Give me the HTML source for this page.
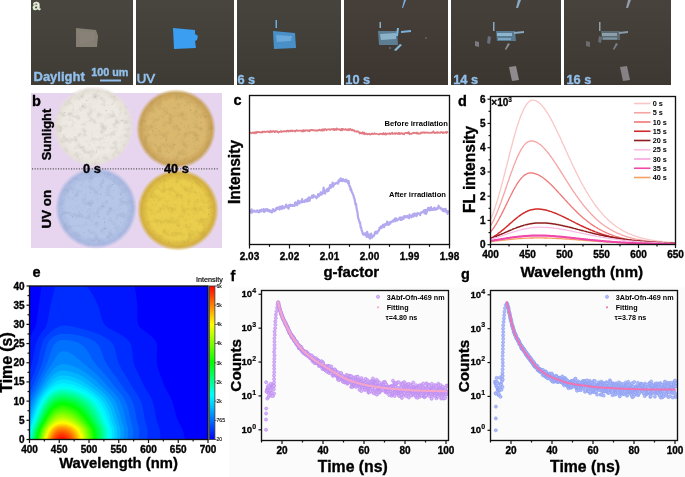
<!DOCTYPE html>
<html><head><meta charset="utf-8"><style>
html,body{margin:0;padding:0;background:#fff;}
body{width:685px;height:477px;overflow:hidden;}
svg{display:block;will-change:transform;}
text{font-family:"Liberation Sans",sans-serif;}
</style></head><body>
<svg width="685" height="477" viewBox="0 0 685 477">
<defs>
<filter id="noise" x="0" y="0" width="100%" height="100%">
<feTurbulence type="fractalNoise" baseFrequency="0.9" numOctaves="2" seed="3" result="t"/>
<feColorMatrix type="matrix" values="0 0 0 0 0  0 0 0 0 0  0 0 0 0 0  0 0 0 -1.2 0.9" in="t" result="m"/>
<feComposite in="SourceGraphic" in2="m" operator="in"/>
</filter>
<filter id="blur1" x="-20%" y="-20%" width="140%" height="140%"><feGaussianBlur stdDeviation="0.55"/></filter>
<filter id="blur05"><feGaussianBlur stdDeviation="0.7"/></filter>
</defs>
<linearGradient id="pb0" x1="0" y1="0" x2="0" y2="1"><stop offset="0" stop-color="#49463f"/><stop offset="1" stop-color="#3f3c35"/></linearGradient>
<rect x="31" y="0" width="102" height="85" fill="url(#pb0)"/>
<linearGradient id="pb1" x1="0" y1="0" x2="0" y2="1"><stop offset="0" stop-color="#48443e"/><stop offset="1" stop-color="#3e3a34"/></linearGradient>
<rect x="136" y="0" width="98" height="85" fill="url(#pb1)"/>
<linearGradient id="pb2" x1="0" y1="0" x2="0" y2="1"><stop offset="0" stop-color="#47433d"/><stop offset="1" stop-color="#3d3933"/></linearGradient>
<rect x="237" y="0" width="104" height="85" fill="url(#pb2)"/>
<linearGradient id="pb3" x1="0" y1="0" x2="0" y2="1"><stop offset="0" stop-color="#463f3a"/><stop offset="1" stop-color="#3c3530"/></linearGradient>
<rect x="344" y="0" width="104" height="85" fill="url(#pb3)"/>
<linearGradient id="pb4" x1="0" y1="0" x2="0" y2="1"><stop offset="0" stop-color="#46403b"/><stop offset="1" stop-color="#3c3631"/></linearGradient>
<rect x="451" y="0" width="110" height="85" fill="url(#pb4)"/>
<linearGradient id="pb5" x1="0" y1="0" x2="0" y2="1"><stop offset="0" stop-color="#47423c"/><stop offset="1" stop-color="#3d3832"/></linearGradient>
<rect x="564" y="0" width="107" height="85" fill="url(#pb5)"/>
<g filter="url(#blur05)">
<path d="M76,28 L96,30 L98,36 L97,47 L76,47 Z" fill="#857e73"/>
<path d="M78,31 L94,32 L95,40 L80,44 Z" fill="#8a837a" opacity="0.6"/>
<path d="M173,28 L195,30 L195,34 L198,36 L197,40 L195,41 L196,48 L174,49 Z" fill="#3a9ef0"/>
<path d="M273,31 L295,33 L296,48 L274,49 Z" fill="#4a8fc8"/>
<path d="M276,35 L292,36 L291,41 L277,42 Z" fill="#78b4e0" opacity="0.7"/>
<path d="M275.5,20 L277,20 L277,28 L275.5,28 Z" fill="#6aaee0"/>
</g><g filter="url(#blur1)">
<path d="M378,31 L397,31 L398,45 L379,45 Z" fill="#5d7e92"/>
<path d="M380,34 L396,33 L396,39 L381,40 Z" fill="#9cc4dc" opacity="0.75"/>
<path d="M404,0 L406,0 L403,8 L402,8 Z" fill="#7ab0e0"/>
<path d="M397,28 L399,28 L398,36 L396,36 Z" fill="#7ab8e0"/>
<path d="M401,31 L411,30 L411,32 L401,33 Z" fill="#7ab0d8"/>
<path d="M400,44 L402,45 L396,51 L394,50 Z" fill="#8ab8d8"/>
<path d="M379.5,22 L381,22 L381,28 L379.5,28 Z" fill="#8ab0c8"/>
<circle cx="390" cy="48" r="1" fill="#6a7080"/>
<circle cx="426" cy="38" r="1" fill="#6a6060"/>
<path d="M496,31 L515,31 L516,41 L497,41 Z" fill="#5a7a90"/>
<path d="M497,33 L512,33 L512,36 L497,36 Z" fill="#9ac4e0" opacity="0.8"/>
<path d="M498,38 L511,38 L511,40 L498,40 Z" fill="#8ab8d8" opacity="0.7"/>
<path d="M493,22 L494.5,22 L494.5,31 L493,31 Z" fill="#8aa8c0"/>
<path d="M514,32 L524,31 L524,33 L514,34 Z" fill="#8aa8c0"/>
<path d="M518,0 L521,0 L518,8 L516,8 Z" fill="#8aa8c0"/>
<path d="M475,41 L479,42 L479,47 L475,46 Z" fill="#7a7a80"/>
<path d="M488,36 L491,37 L490,44 L487,43 Z" fill="#6a7080"/>
<path d="M509,67 L516,66 L519,80 L512,81 Z" fill="#8e8a8e"/>
<path d="M508,43 L510,44 L506,50 L505,49 Z" fill="#8a9098"/>
<path d="M601,31 L620,31 L620,40 L602,40 Z" fill="#5c6a70"/>
<path d="M602,33 L617,33 L617,36 L602,36 Z" fill="#a0b8c8" opacity="0.7"/>
<path d="M603,37.5 L617,37.5 L617,39.5 L603,39.5 Z" fill="#90a8b8" opacity="0.7"/>
<path d="M599,22 L600.5,22 L600.5,31 L599,31 Z" fill="#90a0a8"/>
<path d="M619,32 L628,31 L628,33 L619,34 Z" fill="#8a9aa8"/>
<path d="M628,0 L631,0 L628,8 L626,8 Z" fill="#909aa8"/>
<path d="M586,41 L590,42 L590,47 L586,46 Z" fill="#6c6c70"/>
<path d="M599,36 L602,37 L601,43 L598,42 Z" fill="#686c74"/>
<path d="M620,67 L627,66 L630,80 L623,81 Z" fill="#858185"/>
<path d="M616,43 L618,44 L614,50 L613,49 Z" fill="#7a8088"/>
</g>
<text x="32.5" y="9.5" font-size="14" font-weight="bold" fill="#e6eed8" stroke="#e6eed8" stroke-width="0.35" text-anchor="start" >a</text>
<text x="33.5" y="81" font-size="13" font-weight="bold" fill="#92c0ec" stroke="#92c0ec" stroke-width="0.35" text-anchor="start" >Daylight</text>
<text x="91.2" y="76.3" font-size="10.8" font-weight="bold" fill="#92c0ec" stroke="#92c0ec" stroke-width="0.35" text-anchor="start" >100 um</text>
<rect x="100" y="79.5" width="21" height="2" fill="#92c0ec"/>
<text x="136.8" y="83" font-size="13.2" fill="#92c0ec" stroke="#92c0ec" stroke-width="0.7">UV</text>
<text x="237.4" y="84.2" font-size="12.8" font-weight="bold" fill="#92c0ec" stroke="#92c0ec" stroke-width="0.35" text-anchor="start" >6 s</text>
<text x="345.3" y="83.6" font-size="12.8" font-weight="bold" fill="#92c0ec" stroke="#92c0ec" stroke-width="0.35" text-anchor="start" >10 s</text>
<text x="453.2" y="83.6" font-size="12.8" font-weight="bold" fill="#92c0ec" stroke="#92c0ec" stroke-width="0.35" text-anchor="start" >14 s</text>
<text x="566.4" y="83.6" font-size="12.8" font-weight="bold" fill="#92c0ec" stroke="#92c0ec" stroke-width="0.35" text-anchor="start" >16 s</text>
<rect x="31" y="93" width="191" height="155" fill="#e7d5f0"/>
<radialGradient id="pg1" cx="0.5" cy="0.5" r="0.5"><stop offset="0" stop-color="#eeeae3"/><stop offset="0.72" stop-color="#eeeae3"/><stop offset="0.9" stop-color="#e6e1d8"/><stop offset="1" stop-color="#e6e1d8" stop-opacity="0"/></radialGradient>
<circle cx="93.5" cy="126.5" r="40.5" fill="url(#pg1)"/>
<filter id="sp1" x="0" y="0" width="1" height="1" color-interpolation-filters="sRGB"><feTurbulence type="fractalNoise" baseFrequency="0.16" numOctaves="3" seed="7"/><feColorMatrix type="matrix" values="0 0 0 0 0.416  0 0 0 0 0.400  0 0 0 0 0.369  -0.50 0 0 0 0.26"/></filter>
<filter id="sq1" x="0" y="0" width="1" height="1" color-interpolation-filters="sRGB"><feTurbulence type="fractalNoise" baseFrequency="0.5" numOctaves="2" seed="13"/><feColorMatrix type="matrix" values="0 0 0 0 0.416  0 0 0 0 0.400  0 0 0 0 0.369  -3 0 0 0 0.87"/><feGaussianBlur stdDeviation="0.35"/></filter>
<radialGradient id="pm1" cx="0.5" cy="0.5" r="0.5"><stop offset="0" stop-color="#fff"/><stop offset="0.8" stop-color="#fff"/><stop offset="1" stop-color="#fff" stop-opacity="0"/></radialGradient>
<mask id="mk1"><circle cx="93.5" cy="126.5" r="40.5" fill="url(#pm1)"/></mask>
<g mask="url(#mk1)"><rect x="53.0" y="86.0" width="81.0" height="81.0" filter="url(#sp1)"/><rect x="53.0" y="86.0" width="81.0" height="81.0" filter="url(#sq1)"/></g>
<radialGradient id="pg2" cx="0.5" cy="0.5" r="0.5"><stop offset="0" stop-color="#dab86e"/><stop offset="0.72" stop-color="#dab86e"/><stop offset="0.9" stop-color="#c8a258"/><stop offset="1" stop-color="#c8a258" stop-opacity="0"/></radialGradient>
<circle cx="176" cy="129" r="40" fill="url(#pg2)"/>
<filter id="sp2" x="0" y="0" width="1" height="1" color-interpolation-filters="sRGB"><feTurbulence type="fractalNoise" baseFrequency="0.16" numOctaves="3" seed="14"/><feColorMatrix type="matrix" values="0 0 0 0 0.502  0 0 0 0 0.408  0 0 0 0 0.220  -0.50 0 0 0 0.26"/></filter>
<filter id="sq2" x="0" y="0" width="1" height="1" color-interpolation-filters="sRGB"><feTurbulence type="fractalNoise" baseFrequency="0.5" numOctaves="2" seed="26"/><feColorMatrix type="matrix" values="0 0 0 0 0.502  0 0 0 0 0.408  0 0 0 0 0.220  -3 0 0 0 0.87"/><feGaussianBlur stdDeviation="0.35"/></filter>
<radialGradient id="pm2" cx="0.5" cy="0.5" r="0.5"><stop offset="0" stop-color="#fff"/><stop offset="0.8" stop-color="#fff"/><stop offset="1" stop-color="#fff" stop-opacity="0"/></radialGradient>
<mask id="mk2"><circle cx="176" cy="129" r="40" fill="url(#pm2)"/></mask>
<g mask="url(#mk2)"><rect x="136" y="89" width="80" height="80" filter="url(#sp2)"/><rect x="136" y="89" width="80" height="80" filter="url(#sq2)"/></g>
<radialGradient id="pg3" cx="0.5" cy="0.5" r="0.5"><stop offset="0" stop-color="#b6c6e8"/><stop offset="0.72" stop-color="#b6c6e8"/><stop offset="0.9" stop-color="#a8b8e0"/><stop offset="1" stop-color="#a8b8e0" stop-opacity="0"/></radialGradient>
<circle cx="96" cy="208" r="41" fill="url(#pg3)"/>
<filter id="sp3" x="0" y="0" width="1" height="1" color-interpolation-filters="sRGB"><feTurbulence type="fractalNoise" baseFrequency="0.16" numOctaves="3" seed="21"/><feColorMatrix type="matrix" values="0 0 0 0 0.408  0 0 0 0 0.471  0 0 0 0 0.627  -0.50 0 0 0 0.26"/></filter>
<filter id="sq3" x="0" y="0" width="1" height="1" color-interpolation-filters="sRGB"><feTurbulence type="fractalNoise" baseFrequency="0.5" numOctaves="2" seed="39"/><feColorMatrix type="matrix" values="0 0 0 0 0.408  0 0 0 0 0.471  0 0 0 0 0.627  -3 0 0 0 0.87"/><feGaussianBlur stdDeviation="0.35"/></filter>
<radialGradient id="pm3" cx="0.5" cy="0.5" r="0.5"><stop offset="0" stop-color="#fff"/><stop offset="0.8" stop-color="#fff"/><stop offset="1" stop-color="#fff" stop-opacity="0"/></radialGradient>
<mask id="mk3"><circle cx="96" cy="208" r="41" fill="url(#pm3)"/></mask>
<g mask="url(#mk3)"><rect x="55" y="167" width="82" height="82" filter="url(#sp3)"/><rect x="55" y="167" width="82" height="82" filter="url(#sq3)"/></g>
<radialGradient id="pg4" cx="0.5" cy="0.5" r="0.5"><stop offset="0" stop-color="#eacd4c"/><stop offset="0.72" stop-color="#eacd4c"/><stop offset="0.9" stop-color="#d4b040"/><stop offset="1" stop-color="#d4b040" stop-opacity="0"/></radialGradient>
<circle cx="178" cy="210" r="41" fill="url(#pg4)"/>
<filter id="sp4" x="0" y="0" width="1" height="1" color-interpolation-filters="sRGB"><feTurbulence type="fractalNoise" baseFrequency="0.16" numOctaves="3" seed="28"/><feColorMatrix type="matrix" values="0 0 0 0 0.541  0 0 0 0 0.455  0 0 0 0 0.157  -0.50 0 0 0 0.26"/></filter>
<filter id="sq4" x="0" y="0" width="1" height="1" color-interpolation-filters="sRGB"><feTurbulence type="fractalNoise" baseFrequency="0.5" numOctaves="2" seed="52"/><feColorMatrix type="matrix" values="0 0 0 0 0.541  0 0 0 0 0.455  0 0 0 0 0.157  -3 0 0 0 0.87"/><feGaussianBlur stdDeviation="0.35"/></filter>
<radialGradient id="pm4" cx="0.5" cy="0.5" r="0.5"><stop offset="0" stop-color="#fff"/><stop offset="0.8" stop-color="#fff"/><stop offset="1" stop-color="#fff" stop-opacity="0"/></radialGradient>
<mask id="mk4"><circle cx="178" cy="210" r="41" fill="url(#pm4)"/></mask>
<g mask="url(#mk4)"><rect x="137" y="169" width="82" height="82" filter="url(#sp4)"/><rect x="137" y="169" width="82" height="82" filter="url(#sq4)"/></g>
<line x1="32" y1="168.9" x2="218" y2="168.9" stroke="#333" stroke-width="1" stroke-dasharray="1.1,1.5"/>
<text x="32" y="106" font-size="14.5" font-weight="bold" fill="#000" stroke="#000" stroke-width="0.35" text-anchor="start" >b</text>
<text x="0" y="0" transform="translate(51.4,134.5) rotate(-90)" font-size="12.9" font-weight="bold" fill="#000" stroke="#000" stroke-width="0.35" text-anchor="middle">Sunlight</text>
<text x="0" y="0" transform="translate(51.3,209.2) rotate(-90)" font-size="13.3" font-weight="bold" fill="#000" stroke="#000" stroke-width="0.35" text-anchor="middle">UV on</text>
<text x="91.9" y="172.6" font-size="12.8" font-weight="bold" fill="#000" stroke="#000" stroke-width="0.35" text-anchor="middle" >0 s</text>
<text x="176.4" y="172.6" font-size="12.8" font-weight="bold" fill="#000" stroke="#000" stroke-width="0.35" text-anchor="middle" >40 s</text>
<path d="M249.6,132.5 L250.1,132.3 L250.6,132.7 L251.1,133.0 L251.6,133.3 L252.1,132.8 L252.6,132.5 L253.1,132.3 L253.6,133.0 L254.1,133.4 L254.6,132.7 L255.1,132.0 L255.6,132.1 L256.1,133.3 L256.6,132.6 L257.1,131.7 L257.6,132.4 L258.1,131.9 L258.6,132.1 L259.1,132.2 L259.6,132.0 L260.1,132.6 L260.6,132.3 L261.1,132.0 L261.6,132.4 L262.1,132.6 L262.6,131.5 L263.1,132.1 L263.6,131.7 L264.1,132.0 L264.6,131.5 L265.1,132.1 L265.6,132.0 L266.1,131.9 L266.6,131.5 L267.1,131.8 L267.6,131.5 L268.1,131.3 L268.6,132.0 L269.1,131.4 L269.6,132.4 L270.1,132.2 L270.6,130.9 L271.1,131.9 L271.6,131.3 L272.1,131.8 L272.6,131.7 L273.1,130.8 L273.6,131.6 L274.1,131.5 L274.6,132.1 L275.1,131.1 L275.6,131.9 L276.1,131.1 L276.6,131.4 L277.1,131.2 L277.6,132.2 L278.1,131.8 L278.6,132.6 L279.1,131.8 L279.6,131.8 L280.1,131.8 L280.6,131.1 L281.1,131.4 L281.6,132.0 L282.1,131.2 L282.6,131.4 L283.1,131.3 L283.6,131.6 L284.1,131.1 L284.6,131.2 L285.1,131.4 L285.6,131.3 L286.1,130.8 L286.6,131.6 L287.1,130.6 L287.6,130.6 L288.1,130.6 L288.6,131.6 L289.1,131.0 L289.6,130.7 L290.1,130.6 L290.6,131.3 L291.1,130.6 L291.6,130.5 L292.1,131.3 L292.6,130.5 L293.1,130.9 L293.6,131.0 L294.1,130.8 L294.6,130.9 L295.1,131.6 L295.6,130.7 L296.1,130.4 L296.6,130.1 L297.1,130.8 L297.6,130.7 L298.1,131.0 L298.6,130.6 L299.1,130.6 L299.6,130.5 L300.1,130.6 L300.6,130.9 L301.1,130.6 L301.6,130.8 L302.1,131.6 L302.6,130.9 L303.1,130.0 L303.6,131.5 L304.1,130.8 L304.6,130.2 L305.1,131.0 L305.6,130.6 L306.1,130.3 L306.6,130.3 L307.1,130.1 L307.6,130.6 L308.1,131.0 L308.6,130.4 L309.1,130.7 L309.6,131.3 L310.1,129.9 L310.6,130.5 L311.1,130.3 L311.6,129.9 L312.1,129.9 L312.6,130.3 L313.1,130.5 L313.6,130.1 L314.1,130.3 L314.6,130.6 L315.1,130.4 L315.6,130.6 L316.1,130.4 L316.6,130.4 L317.1,130.9 L317.6,130.4 L318.1,130.1 L318.6,130.4 L319.1,129.6 L319.6,129.8 L320.1,130.3 L320.6,130.2 L321.1,130.6 L321.6,129.9 L322.1,129.2 L322.6,130.7 L323.1,130.3 L323.6,129.3 L324.1,130.4 L324.6,129.8 L325.1,128.9 L325.6,129.5 L326.1,129.5 L326.6,130.4 L327.1,129.3 L327.6,129.5 L328.1,129.5 L328.6,129.4 L329.1,129.1 L329.6,129.6 L330.1,130.0 L330.6,129.8 L331.1,129.1 L331.6,129.0 L332.1,129.5 L332.6,129.1 L333.1,129.1 L333.6,128.7 L334.1,130.3 L334.6,129.8 L335.1,128.9 L335.6,129.8 L336.1,130.0 L336.6,128.3 L337.1,129.1 L337.6,129.1 L338.1,129.6 L338.6,129.3 L339.1,129.2 L339.6,129.3 L340.1,130.1 L340.6,130.3 L341.1,129.1 L341.6,128.9 L342.1,130.5 L342.6,128.9 L343.1,129.1 L343.6,129.4 L344.1,129.6 L344.6,129.8 L345.1,129.6 L345.6,129.0 L346.1,129.7 L346.6,129.6 L347.1,130.4 L347.6,129.6 L348.1,129.0 L348.6,129.2 L349.1,130.3 L349.6,129.5 L350.1,128.8 L350.6,129.6 L351.1,129.9 L351.6,130.4 L352.1,129.5 L352.6,130.4 L353.1,130.5 L353.6,130.0 L354.1,130.3 L354.6,131.4 L355.1,131.5 L355.6,131.3 L356.1,131.2 L356.6,131.8 L357.1,131.4 L357.6,131.6 L358.1,131.4 L358.6,132.0 L359.1,132.1 L359.6,133.5 L360.1,132.4 L360.6,133.2 L361.1,133.3 L361.6,132.8 L362.1,133.5 L362.6,132.2 L363.1,133.3 L363.6,133.8 L364.1,132.5 L364.6,133.2 L365.1,134.3 L365.6,133.8 L366.1,133.5 L366.6,133.8 L367.1,133.8 L367.6,134.3 L368.1,134.2 L368.6,133.9 L369.1,133.7 L369.6,134.0 L370.1,134.6 L370.6,134.1 L371.1,134.3 L371.6,133.9 L372.1,133.4 L372.6,133.7 L373.1,134.3 L373.6,134.0 L374.1,133.5 L374.6,133.2 L375.1,134.0 L375.6,133.8 L376.1,133.8 L376.6,133.8 L377.1,134.0 L377.6,134.0 L378.1,134.3 L378.6,134.3 L379.1,134.5 L379.6,134.2 L380.1,133.7 L380.6,133.8 L381.1,134.1 L381.6,133.7 L382.1,134.1 L382.6,134.4 L383.1,133.5 L383.6,133.0 L384.1,134.4 L384.6,133.8 L385.1,134.1 L385.6,133.2 L386.1,134.6 L386.6,134.1 L387.1,133.7 L387.6,133.6 L388.1,133.8 L388.6,133.7 L389.1,133.6 L389.6,133.2 L390.1,134.3 L390.6,133.7 L391.1,133.7 L391.6,133.7 L392.1,132.6 L392.6,133.9 L393.1,133.5 L393.6,133.5 L394.1,133.7 L394.6,133.2 L395.1,134.0 L395.6,133.3 L396.1,133.2 L396.6,133.2 L397.1,133.7 L397.6,133.9 L398.1,133.3 L398.6,132.9 L399.1,134.0 L399.6,133.0 L400.1,134.1 L400.6,133.5 L401.1,133.2 L401.6,133.2 L402.1,133.7 L402.6,133.9 L403.1,133.4 L403.6,133.9 L404.1,134.4 L404.6,133.3 L405.1,132.9 L405.6,132.9 L406.1,132.8 L406.6,133.1 L407.1,133.0 L407.6,132.7 L408.1,133.6 L408.6,132.1 L409.1,132.7 L409.6,134.2 L410.1,133.8 L410.6,133.5 L411.1,133.5 L411.6,134.0 L412.1,133.5 L412.6,133.3 L413.1,132.7 L413.6,133.2 L414.1,132.9 L414.6,132.9 L415.1,132.8 L415.6,133.1 L416.1,133.0 L416.6,133.5 L417.1,132.5 L417.6,133.0 L418.1,133.9 L418.6,133.1 L419.1,133.6 L419.6,133.6 L420.1,133.6 L420.6,133.4 L421.1,132.4 L421.6,132.9 L422.1,132.8 L422.6,132.3 L423.1,132.7 L423.6,132.4 L424.1,132.2 L424.6,133.0 L425.1,132.9 L425.6,132.6 L426.1,132.4 L426.6,132.6 L427.1,132.7 L427.6,132.7 L428.1,132.8 L428.6,132.6 L429.1,133.0 L429.6,133.0 L430.1,132.9 L430.6,132.5 L431.1,132.5 L431.6,132.9 L432.1,132.6 L432.6,132.7 L433.1,131.6 L433.6,131.4 L434.1,132.8 L434.6,132.8 L435.1,133.2 L435.6,132.9 L436.1,132.7 L436.6,132.6 L437.1,131.9 L437.6,132.9 L438.1,132.3 L438.6,132.7 L439.1,132.6 L439.6,132.6 L440.1,132.9 L440.6,132.2 L441.1,132.3 L441.6,132.0 L442.1,132.2 L442.6,133.1 L443.1,132.2 L443.6,132.9 L444.1,132.7 L444.6,132.7 L445.1,132.7 L445.6,131.8 L446.1,132.4 L446.6,133.0 L447.1,131.9 L447.6,132.2 L448.1,131.9" fill="none" stroke="#e17a82" stroke-width="1.7" stroke-linejoin="round"/>
<path d="M249.6,211.2 L250.1,211.1 L250.6,212.5 L251.1,210.5 L251.6,209.4 L252.1,212.7 L252.6,211.9 L253.1,211.4 L253.6,211.4 L254.1,210.5 L254.6,210.7 L255.1,211.6 L255.6,211.8 L256.1,211.8 L256.6,211.1 L257.1,210.4 L257.6,210.7 L258.1,212.0 L258.6,212.3 L259.1,212.3 L259.6,210.4 L260.1,211.3 L260.6,210.1 L261.1,211.5 L261.6,209.5 L262.1,210.4 L262.6,210.2 L263.1,210.9 L263.6,209.0 L264.1,212.0 L264.6,211.0 L265.1,211.1 L265.6,209.4 L266.1,210.6 L266.6,209.4 L267.1,209.0 L267.6,210.9 L268.1,210.5 L268.6,209.9 L269.1,211.4 L269.6,210.2 L270.1,211.8 L270.6,211.0 L271.1,210.7 L271.6,212.5 L272.1,211.3 L272.6,211.8 L273.1,209.2 L273.6,209.8 L274.1,211.2 L274.6,211.1 L275.1,209.9 L275.6,210.5 L276.1,208.3 L276.6,209.3 L277.1,207.6 L277.6,208.8 L278.1,207.8 L278.6,207.4 L279.1,208.0 L279.6,209.6 L280.1,206.6 L280.6,206.8 L281.1,208.6 L281.6,206.7 L282.1,208.8 L282.6,206.2 L283.1,206.9 L283.6,207.0 L284.1,208.3 L284.6,207.1 L285.1,206.9 L285.6,206.5 L286.1,204.6 L286.6,205.2 L287.1,207.5 L287.6,206.7 L288.1,206.3 L288.6,208.7 L289.1,205.2 L289.6,206.0 L290.1,204.7 L290.6,205.9 L291.1,204.8 L291.6,205.2 L292.1,205.8 L292.6,204.9 L293.1,205.8 L293.6,205.4 L294.1,205.1 L294.6,205.8 L295.1,202.7 L295.6,202.3 L296.1,204.3 L296.6,204.4 L297.1,205.2 L297.6,203.8 L298.1,200.6 L298.6,201.9 L299.1,203.4 L299.6,203.2 L300.1,201.4 L300.6,201.5 L301.1,202.1 L301.6,202.4 L302.1,199.1 L302.6,202.0 L303.1,202.0 L303.6,201.5 L304.1,201.8 L304.6,201.8 L305.1,200.2 L305.6,201.4 L306.1,200.5 L306.6,199.5 L307.1,200.4 L307.6,201.4 L308.1,198.2 L308.6,197.7 L309.1,197.4 L309.6,200.8 L310.1,198.3 L310.6,198.3 L311.1,197.4 L311.6,197.0 L312.1,195.7 L312.6,197.7 L313.1,197.6 L313.6,195.1 L314.1,196.7 L314.6,196.0 L315.1,196.5 L315.6,196.6 L316.1,197.5 L316.6,198.2 L317.1,196.8 L317.6,196.8 L318.1,194.1 L318.6,194.5 L319.1,196.1 L319.6,195.0 L320.1,194.5 L320.6,192.4 L321.1,192.3 L321.6,194.7 L322.1,194.0 L322.6,193.2 L323.1,192.8 L323.6,187.5 L324.1,193.0 L324.6,193.3 L325.1,193.5 L325.6,191.5 L326.1,190.8 L326.6,189.5 L327.1,190.8 L327.6,191.4 L328.1,188.6 L328.6,190.9 L329.1,188.4 L329.6,187.4 L330.1,185.1 L330.6,187.8 L331.1,187.4 L331.6,185.0 L332.1,185.3 L332.6,182.5 L333.1,186.7 L333.6,185.5 L334.1,184.7 L334.6,184.2 L335.1,183.4 L335.6,183.6 L336.1,183.1 L336.6,182.9 L337.1,182.8 L337.6,182.6 L338.1,183.7 L338.6,180.4 L339.1,181.7 L339.6,180.5 L340.1,179.7 L340.6,178.3 L341.1,181.0 L341.6,179.3 L342.1,179.5 L342.6,181.1 L343.1,179.1 L343.6,180.2 L344.1,180.2 L344.6,181.1 L345.1,181.5 L345.6,179.5 L346.1,181.4 L346.6,180.8 L347.1,180.3 L347.6,181.8 L348.1,183.5 L348.6,181.0 L349.1,184.5 L349.6,186.5 L350.1,186.4 L350.6,190.2 L351.1,189.0 L351.6,191.5 L352.1,192.3 L352.6,193.5 L353.1,194.4 L353.6,196.3 L354.1,198.2 L354.6,198.9 L355.1,202.3 L355.6,204.8 L356.1,204.0 L356.6,208.8 L357.1,210.6 L357.6,213.2 L358.1,217.8 L358.6,219.0 L359.1,220.6 L359.6,222.8 L360.1,222.4 L360.6,227.2 L361.1,227.5 L361.6,230.1 L362.1,231.2 L362.6,232.9 L363.1,234.5 L363.6,233.9 L364.1,234.7 L364.6,233.5 L365.1,234.6 L365.6,235.2 L366.1,233.2 L366.6,236.9 L367.1,231.8 L367.6,233.8 L368.1,236.8 L368.6,237.4 L369.1,234.6 L369.6,234.8 L370.1,238.6 L370.6,235.6 L371.1,233.6 L371.6,235.0 L372.1,237.6 L372.6,236.2 L373.1,236.1 L373.6,236.2 L374.1,235.3 L374.6,233.8 L375.1,232.0 L375.6,233.5 L376.1,231.5 L376.6,233.1 L377.1,233.4 L377.6,231.7 L378.1,231.7 L378.6,230.2 L379.1,230.3 L379.6,227.6 L380.1,227.4 L380.6,228.2 L381.1,226.3 L381.6,227.9 L382.1,227.2 L382.6,225.8 L383.1,224.7 L383.6,225.0 L384.1,227.1 L384.6,225.2 L385.1,224.1 L385.6,224.6 L386.1,224.3 L386.6,224.9 L387.1,221.7 L387.6,223.0 L388.1,224.1 L388.6,224.8 L389.1,222.5 L389.6,222.3 L390.1,223.8 L390.6,222.7 L391.1,221.6 L391.6,221.6 L392.1,221.9 L392.6,221.3 L393.1,220.5 L393.6,221.5 L394.1,219.8 L394.6,219.0 L395.1,218.5 L395.6,221.1 L396.1,218.4 L396.6,220.4 L397.1,220.4 L397.6,220.4 L398.1,219.2 L398.6,218.7 L399.1,219.1 L399.6,218.3 L400.1,217.4 L400.6,219.8 L401.1,217.5 L401.6,220.0 L402.1,218.6 L402.6,217.4 L403.1,218.2 L403.6,218.8 L404.1,216.1 L404.6,216.5 L405.1,216.1 L405.6,217.2 L406.1,217.3 L406.6,216.8 L407.1,215.9 L407.6,216.0 L408.1,217.6 L408.6,217.4 L409.1,218.2 L409.6,214.7 L410.1,216.8 L410.6,216.1 L411.1,216.0 L411.6,217.3 L412.1,216.3 L412.6,214.4 L413.1,214.3 L413.6,216.5 L414.1,213.5 L414.6,215.8 L415.1,214.7 L415.6,213.7 L416.1,214.8 L416.6,216.0 L417.1,214.6 L417.6,213.0 L418.1,213.6 L418.6,213.3 L419.1,213.7 L419.6,214.4 L420.1,215.1 L420.6,213.2 L421.1,212.3 L421.6,212.6 L422.1,212.3 L422.6,211.6 L423.1,211.8 L423.6,211.6 L424.1,210.2 L424.6,213.3 L425.1,210.6 L425.6,209.8 L426.1,213.9 L426.6,212.8 L427.1,210.2 L427.6,210.5 L428.1,207.8 L428.6,209.1 L429.1,209.3 L429.6,210.4 L430.1,207.8 L430.6,210.1 L431.1,207.2 L431.6,209.4 L432.1,209.9 L432.6,209.3 L433.1,208.9 L433.6,209.8 L434.1,207.9 L434.6,207.7 L435.1,208.7 L435.6,209.8 L436.1,209.0 L436.6,208.4 L437.1,208.9 L437.6,209.0 L438.1,207.4 L438.6,205.7 L439.1,207.7 L439.6,207.3 L440.1,208.3 L440.6,207.8 L441.1,208.2 L441.6,209.6 L442.1,209.4 L442.6,209.4 L443.1,211.2 L443.6,209.2 L444.1,209.5 L444.6,211.3 L445.1,209.1 L445.6,208.8 L446.1,211.9 L446.6,211.1 L447.1,211.6 L447.6,213.8 L448.1,210.1" fill="none" stroke="#b3a9ef" stroke-width="2.2" stroke-linejoin="round"/>
<rect x="249.5" y="95.5" width="200.0" height="149.0" fill="none" stroke="#111" stroke-width="1.35"/>
<line x1="249.5" y1="244.5" x2="249.5" y2="248.5" stroke="#111" stroke-width="1.2"/>
<text x="249.5" y="259.6" font-size="10" font-weight="bold" fill="#000" stroke="#000" stroke-width="0.35" text-anchor="middle" >2.03</text>
<line x1="269.5" y1="244.5" x2="269.5" y2="246.8" stroke="#111" stroke-width="1.2"/>
<line x1="289.5" y1="244.5" x2="289.5" y2="248.5" stroke="#111" stroke-width="1.2"/>
<text x="289.5" y="259.6" font-size="10" font-weight="bold" fill="#000" stroke="#000" stroke-width="0.35" text-anchor="middle" >2.02</text>
<line x1="309.5" y1="244.5" x2="309.5" y2="246.8" stroke="#111" stroke-width="1.2"/>
<line x1="329.5" y1="244.5" x2="329.5" y2="248.5" stroke="#111" stroke-width="1.2"/>
<text x="329.5" y="259.6" font-size="10" font-weight="bold" fill="#000" stroke="#000" stroke-width="0.35" text-anchor="middle" >2.01</text>
<line x1="349.5" y1="244.5" x2="349.5" y2="246.8" stroke="#111" stroke-width="1.2"/>
<line x1="369.5" y1="244.5" x2="369.5" y2="248.5" stroke="#111" stroke-width="1.2"/>
<text x="369.5" y="259.6" font-size="10" font-weight="bold" fill="#000" stroke="#000" stroke-width="0.35" text-anchor="middle" >2.00</text>
<line x1="389.5" y1="244.5" x2="389.5" y2="246.8" stroke="#111" stroke-width="1.2"/>
<line x1="409.5" y1="244.5" x2="409.5" y2="248.5" stroke="#111" stroke-width="1.2"/>
<text x="409.5" y="259.6" font-size="10" font-weight="bold" fill="#000" stroke="#000" stroke-width="0.35" text-anchor="middle" >1.99</text>
<line x1="429.5" y1="244.5" x2="429.5" y2="246.8" stroke="#111" stroke-width="1.2"/>
<line x1="449.5" y1="244.5" x2="449.5" y2="248.5" stroke="#111" stroke-width="1.2"/>
<text x="449.5" y="259.6" font-size="10" font-weight="bold" fill="#000" stroke="#000" stroke-width="0.35" text-anchor="middle" >1.98</text>
<text x="233.5" y="104.8" font-size="14.5" font-weight="bold" fill="#000" stroke="#000" stroke-width="0.35" text-anchor="start" >c</text>
<text x="384.6" y="125.9" font-size="7.6" font-weight="bold" fill="#000"  text-anchor="start" >Before irradiation</text>
<text x="446" y="196.9" font-size="7.6" font-weight="bold" fill="#000"  text-anchor="end" >After irradiation</text>
<text x="0" y="0" transform="translate(240,172) rotate(-90)" font-size="15.6" font-weight="bold" fill="#000" stroke="#000" stroke-width="0.35" text-anchor="middle">Intensity</text>
<text x="351.3" y="276.5" font-size="15" font-weight="bold" fill="#000" stroke="#000" stroke-width="0.35" text-anchor="middle" >g-factor</text>
<path d="M490.5,219.7 L491.2,217.9 L492.0,216.1 L492.7,214.1 L493.5,212.1 L494.2,210.0 L494.9,207.9 L495.7,205.6 L496.4,203.3 L497.2,200.9 L497.9,198.5 L498.6,196.0 L499.4,193.4 L500.1,190.8 L500.9,188.1 L501.6,185.3 L502.3,182.6 L503.1,179.7 L503.8,176.9 L504.6,174.0 L505.3,171.1 L506.0,168.2 L506.8,165.3 L507.5,162.3 L508.3,159.4 L509.0,156.5 L509.7,153.5 L510.5,150.6 L511.2,147.8 L512.0,145.0 L512.7,142.2 L513.4,139.4 L514.2,136.7 L514.9,134.1 L515.7,131.5 L516.4,129.0 L517.1,126.6 L517.9,124.3 L518.6,122.0 L519.4,119.9 L520.1,117.8 L520.8,115.8 L521.6,114.0 L522.3,112.2 L523.1,110.6 L523.8,109.0 L524.5,107.6 L525.3,106.3 L526.0,105.2 L526.8,104.1 L527.5,103.2 L528.2,102.4 L529.0,101.7 L529.7,101.1 L530.5,100.7 L531.2,100.4 L531.9,100.2 L532.7,100.2 L533.4,100.2 L534.2,100.3 L534.9,100.5 L535.6,100.7 L536.4,101.1 L537.1,101.5 L537.9,101.9 L538.6,102.4 L539.3,103.0 L540.1,103.7 L540.8,104.4 L541.6,105.1 L542.3,106.0 L543.0,106.8 L543.8,107.8 L544.5,108.7 L545.3,109.8 L546.0,110.8 L546.7,111.9 L547.5,113.1 L548.2,114.3 L549.0,115.6 L549.7,116.8 L550.4,118.1 L551.2,119.5 L551.9,120.9 L552.7,122.3 L553.4,123.7 L554.1,125.2 L554.9,126.6 L555.6,128.2 L556.4,129.7 L557.1,131.2 L557.8,132.8 L558.6,134.3 L559.3,135.9 L560.1,137.5 L560.8,139.1 L561.5,140.7 L562.3,142.4 L563.0,144.0 L563.8,145.6 L564.5,147.3 L565.2,148.9 L566.0,150.5 L566.7,152.1 L567.5,153.8 L568.2,155.4 L568.9,157.0 L569.7,158.6 L570.4,160.2 L571.2,161.8 L571.9,163.4 L572.6,165.0 L573.4,166.5 L574.1,168.1 L574.9,169.6 L575.6,171.1 L576.3,172.6 L577.1,174.1 L577.8,175.6 L578.6,177.1 L579.3,178.5 L580.0,180.0 L580.8,181.4 L581.5,182.8 L582.3,184.1 L583.0,185.5 L583.7,186.8 L584.5,188.1 L585.2,189.4 L586.0,190.7 L586.7,192.0 L587.4,193.2 L588.2,194.4 L588.9,195.6 L589.7,196.8 L590.4,198.0 L591.1,199.1 L591.9,200.2 L592.6,201.3 L593.4,202.4 L594.1,203.5 L594.8,204.5 L595.6,205.5 L596.3,206.5 L597.1,207.5 L597.8,208.4 L598.5,209.4 L599.3,210.3 L600.0,211.2 L600.8,212.1 L601.5,212.9 L602.2,213.8 L603.0,214.6 L603.7,215.4 L604.5,216.2 L605.2,217.0 L605.9,217.7 L606.7,218.4 L607.4,219.2 L608.2,219.9 L608.9,220.5 L609.6,221.2 L610.4,221.9 L611.1,222.5 L611.9,223.1 L612.6,223.7 L613.3,224.3 L614.1,224.9 L614.8,225.4 L615.6,226.0 L616.3,226.5 L617.0,227.0 L617.8,227.5 L618.5,228.0 L619.3,228.5 L620.0,228.9 L620.7,229.4 L621.5,229.8 L622.2,230.3 L623.0,230.7 L623.7,231.1 L624.4,231.5 L625.2,231.9 L625.9,232.2 L626.7,232.6 L627.4,232.9 L628.1,233.3 L628.9,233.6 L629.6,233.9 L630.4,234.2 L631.1,234.5 L631.8,234.8 L632.6,235.1 L633.3,235.4 L634.1,235.7 L634.8,235.9 L635.5,236.2 L636.3,236.4 L637.0,236.7 L637.8,236.9 L638.5,237.1 L639.2,237.4 L640.0,237.6 L640.7,237.8 L641.5,238.0 L642.2,238.2 L642.9,238.4 L643.7,238.5 L644.4,238.7 L645.2,238.9 L645.9,239.0 L646.6,239.2 L647.4,239.4 L648.1,239.5 L648.9,239.7 L649.6,239.8 L650.3,239.9 L651.1,240.1 L651.8,240.2 L652.6,240.3 L653.3,240.4 L654.0,240.6 L654.8,240.7 L655.5,240.8 L656.3,240.9 L657.0,241.0 L657.7,241.1 L658.5,241.2 L659.2,241.3 L660.0,241.4 L660.7,241.5 L661.4,241.5 L662.2,241.6 L662.9,241.7 L663.7,241.8 L664.4,241.8 L665.1,241.9 L665.9,242.0 L666.6,242.1 L667.4,242.1 L668.1,242.2 L668.8,242.2 L669.6,242.3 L670.3,242.4 L671.1,242.4 L671.8,242.5 L672.5,242.5 L673.3,242.6 L674.0,242.6 L674.8,242.7 L675.5,242.7" fill="none" stroke="#f9c6c6" stroke-width="1.3"/>
<path d="M490.5,226.2 L491.2,224.8 L492.0,223.4 L492.7,222.0 L493.5,220.5 L494.2,218.9 L494.9,217.3 L495.7,215.6 L496.4,213.9 L497.2,212.1 L497.9,210.3 L498.6,208.4 L499.4,206.5 L500.1,204.5 L500.9,202.5 L501.6,200.5 L502.3,198.4 L503.1,196.3 L503.8,194.2 L504.6,192.0 L505.3,189.9 L506.0,187.7 L506.8,185.6 L507.5,183.4 L508.3,181.2 L509.0,179.1 L509.7,176.9 L510.5,174.8 L511.2,172.7 L512.0,170.7 L512.7,168.7 L513.4,166.7 L514.2,164.8 L514.9,162.9 L515.7,161.0 L516.4,159.3 L517.1,157.6 L517.9,155.9 L518.6,154.4 L519.4,152.9 L520.1,151.5 L520.8,150.1 L521.6,148.9 L522.3,147.7 L523.1,146.6 L523.8,145.6 L524.5,144.7 L525.3,143.9 L526.0,143.2 L526.8,142.6 L527.5,142.1 L528.2,141.7 L529.0,141.3 L529.7,141.1 L530.5,141.0 L531.2,140.9 L531.9,140.9 L532.7,141.0 L533.4,141.1 L534.2,141.3 L534.9,141.6 L535.6,141.9 L536.4,142.2 L537.1,142.6 L537.9,143.0 L538.6,143.5 L539.3,144.0 L540.1,144.5 L540.8,145.1 L541.6,145.8 L542.3,146.4 L543.0,147.1 L543.8,147.9 L544.5,148.7 L545.3,149.5 L546.0,150.3 L546.7,151.2 L547.5,152.1 L548.2,153.0 L549.0,154.0 L549.7,155.0 L550.4,156.0 L551.2,157.0 L551.9,158.0 L552.7,159.1 L553.4,160.2 L554.1,161.3 L554.9,162.4 L555.6,163.5 L556.4,164.6 L557.1,165.8 L557.8,166.9 L558.6,168.1 L559.3,169.2 L560.1,170.4 L560.8,171.6 L561.5,172.8 L562.3,173.9 L563.0,175.1 L563.8,176.3 L564.5,177.5 L565.2,178.7 L566.0,179.8 L566.7,181.0 L567.5,182.2 L568.2,183.3 L568.9,184.5 L569.7,185.6 L570.4,186.8 L571.2,187.9 L571.9,189.0 L572.6,190.2 L573.4,191.3 L574.1,192.4 L574.9,193.4 L575.6,194.5 L576.3,195.6 L577.1,196.6 L577.8,197.7 L578.6,198.7 L579.3,199.7 L580.0,200.7 L580.8,201.7 L581.5,202.7 L582.3,203.6 L583.0,204.6 L583.7,205.5 L584.5,206.4 L585.2,207.3 L586.0,208.2 L586.7,209.1 L587.4,209.9 L588.2,210.8 L588.9,211.6 L589.7,212.4 L590.4,213.2 L591.1,214.0 L591.9,214.8 L592.6,215.5 L593.4,216.3 L594.1,217.0 L594.8,217.7 L595.6,218.4 L596.3,219.1 L597.1,219.7 L597.8,220.4 L598.5,221.0 L599.3,221.7 L600.0,222.3 L600.8,222.9 L601.5,223.5 L602.2,224.0 L603.0,224.6 L603.7,225.1 L604.5,225.7 L605.2,226.2 L605.9,226.7 L606.7,227.2 L607.4,227.7 L608.2,228.1 L608.9,228.6 L609.6,229.0 L610.4,229.5 L611.1,229.9 L611.9,230.3 L612.6,230.7 L613.3,231.1 L614.1,231.5 L614.8,231.9 L615.6,232.2 L616.3,232.6 L617.0,232.9 L617.8,233.3 L618.5,233.6 L619.3,233.9 L620.0,234.2 L620.7,234.5 L621.5,234.8 L622.2,235.1 L623.0,235.4 L623.7,235.6 L624.4,235.9 L625.2,236.1 L625.9,236.4 L626.7,236.6 L627.4,236.8 L628.1,237.1 L628.9,237.3 L629.6,237.5 L630.4,237.7 L631.1,237.9 L631.8,238.1 L632.6,238.3 L633.3,238.5 L634.1,238.6 L634.8,238.8 L635.5,239.0 L636.3,239.1 L637.0,239.3 L637.8,239.5 L638.5,239.6 L639.2,239.7 L640.0,239.9 L640.7,240.0 L641.5,240.1 L642.2,240.3 L642.9,240.4 L643.7,240.5 L644.4,240.6 L645.2,240.7 L645.9,240.8 L646.6,240.9 L647.4,241.0 L648.1,241.1 L648.9,241.2 L649.6,241.3 L650.3,241.4 L651.1,241.5 L651.8,241.6 L652.6,241.7 L653.3,241.7 L654.0,241.8 L654.8,241.9 L655.5,242.0 L656.3,242.0 L657.0,242.1 L657.7,242.2 L658.5,242.2 L659.2,242.3 L660.0,242.3 L660.7,242.4 L661.4,242.4 L662.2,242.5 L662.9,242.5 L663.7,242.6 L664.4,242.6 L665.1,242.7 L665.9,242.7 L666.6,242.8 L667.4,242.8 L668.1,242.9 L668.8,242.9 L669.6,242.9 L670.3,243.0 L671.1,243.0 L671.8,243.0 L672.5,243.1 L673.3,243.1 L674.0,243.1 L674.8,243.2 L675.5,243.2" fill="none" stroke="#f5a3a3" stroke-width="1.3"/>
<path d="M490.5,232.1 L491.2,231.2 L492.0,230.2 L492.7,229.2 L493.5,228.2 L494.2,227.1 L494.9,225.9 L495.7,224.8 L496.4,223.6 L497.2,222.3 L497.9,221.0 L498.6,219.7 L499.4,218.3 L500.1,216.9 L500.9,215.5 L501.6,214.1 L502.3,212.6 L503.1,211.1 L503.8,209.6 L504.6,208.1 L505.3,206.6 L506.0,205.1 L506.8,203.6 L507.5,202.0 L508.3,200.5 L509.0,199.0 L509.7,197.5 L510.5,196.0 L511.2,194.5 L512.0,193.1 L512.7,191.6 L513.4,190.2 L514.2,188.9 L514.9,187.6 L515.7,186.3 L516.4,185.0 L517.1,183.9 L517.9,182.7 L518.6,181.6 L519.4,180.6 L520.1,179.6 L520.8,178.7 L521.6,177.9 L522.3,177.1 L523.1,176.4 L523.8,175.7 L524.5,175.1 L525.3,174.6 L526.0,174.2 L526.8,173.8 L527.5,173.5 L528.2,173.2 L529.0,173.1 L529.7,173.0 L530.5,172.9 L531.2,172.9 L531.9,173.0 L532.7,173.1 L533.4,173.2 L534.2,173.4 L534.9,173.6 L535.6,173.8 L536.4,174.1 L537.1,174.4 L537.9,174.7 L538.6,175.0 L539.3,175.4 L540.1,175.8 L540.8,176.3 L541.6,176.8 L542.3,177.3 L543.0,177.8 L543.8,178.3 L544.5,178.9 L545.3,179.5 L546.0,180.1 L546.7,180.7 L547.5,181.4 L548.2,182.0 L549.0,182.7 L549.7,183.4 L550.4,184.1 L551.2,184.8 L551.9,185.6 L552.7,186.3 L553.4,187.1 L554.1,187.8 L554.9,188.6 L555.6,189.4 L556.4,190.2 L557.1,191.0 L557.8,191.8 L558.6,192.6 L559.3,193.4 L560.1,194.2 L560.8,195.0 L561.5,195.8 L562.3,196.7 L563.0,197.5 L563.8,198.3 L564.5,199.1 L565.2,199.9 L566.0,200.7 L566.7,201.5 L567.5,202.4 L568.2,203.2 L568.9,203.9 L569.7,204.7 L570.4,205.5 L571.2,206.3 L571.9,207.1 L572.6,207.8 L573.4,208.6 L574.1,209.3 L574.9,210.1 L575.6,210.8 L576.3,211.5 L577.1,212.3 L577.8,213.0 L578.6,213.7 L579.3,214.4 L580.0,215.0 L580.8,215.7 L581.5,216.4 L582.3,217.0 L583.0,217.7 L583.7,218.3 L584.5,218.9 L585.2,219.5 L586.0,220.1 L586.7,220.7 L587.4,221.3 L588.2,221.9 L588.9,222.4 L589.7,223.0 L590.4,223.5 L591.1,224.1 L591.9,224.6 L592.6,225.1 L593.4,225.6 L594.1,226.1 L594.8,226.5 L595.6,227.0 L596.3,227.5 L597.1,227.9 L597.8,228.4 L598.5,228.8 L599.3,229.2 L600.0,229.6 L600.8,230.0 L601.5,230.4 L602.2,230.8 L603.0,231.2 L603.7,231.5 L604.5,231.9 L605.2,232.2 L605.9,232.6 L606.7,232.9 L607.4,233.2 L608.2,233.5 L608.9,233.8 L609.6,234.1 L610.4,234.4 L611.1,234.7 L611.9,235.0 L612.6,235.2 L613.3,235.5 L614.1,235.8 L614.8,236.0 L615.6,236.3 L616.3,236.5 L617.0,236.7 L617.8,236.9 L618.5,237.2 L619.3,237.4 L620.0,237.6 L620.7,237.8 L621.5,238.0 L622.2,238.1 L623.0,238.3 L623.7,238.5 L624.4,238.7 L625.2,238.8 L625.9,239.0 L626.7,239.2 L627.4,239.3 L628.1,239.5 L628.9,239.6 L629.6,239.7 L630.4,239.9 L631.1,240.0 L631.8,240.1 L632.6,240.3 L633.3,240.4 L634.1,240.5 L634.8,240.6 L635.5,240.7 L636.3,240.8 L637.0,240.9 L637.8,241.0 L638.5,241.1 L639.2,241.2 L640.0,241.3 L640.7,241.4 L641.5,241.5 L642.2,241.6 L642.9,241.6 L643.7,241.7 L644.4,241.8 L645.2,241.9 L645.9,241.9 L646.6,242.0 L647.4,242.1 L648.1,242.1 L648.9,242.2 L649.6,242.3 L650.3,242.3 L651.1,242.4 L651.8,242.4 L652.6,242.5 L653.3,242.5 L654.0,242.6 L654.8,242.6 L655.5,242.7 L656.3,242.7 L657.0,242.8 L657.7,242.8 L658.5,242.8 L659.2,242.9 L660.0,242.9 L660.7,242.9 L661.4,243.0 L662.2,243.0 L662.9,243.1 L663.7,243.1 L664.4,243.1 L665.1,243.1 L665.9,243.2 L666.6,243.2 L667.4,243.2 L668.1,243.3 L668.8,243.3 L669.6,243.3 L670.3,243.3 L671.1,243.3 L671.8,243.4 L672.5,243.4 L673.3,243.4 L674.0,243.4 L674.8,243.4 L675.5,243.5" fill="none" stroke="#ee7676" stroke-width="1.3"/>
<path d="M490.5,238.4 L491.2,238.0 L492.0,237.6 L492.7,237.2 L493.5,236.8 L494.2,236.3 L494.9,235.8 L495.7,235.3 L496.4,234.8 L497.2,234.3 L497.9,233.8 L498.6,233.2 L499.4,232.7 L500.1,232.1 L500.9,231.5 L501.6,230.9 L502.3,230.3 L503.1,229.7 L503.8,229.1 L504.6,228.5 L505.3,227.8 L506.0,227.2 L506.8,226.5 L507.5,225.9 L508.3,225.2 L509.0,224.6 L509.7,223.9 L510.5,223.3 L511.2,222.6 L512.0,222.0 L512.7,221.3 L513.4,220.7 L514.2,220.0 L514.9,219.4 L515.7,218.8 L516.4,218.2 L517.1,217.6 L517.9,217.0 L518.6,216.5 L519.4,215.9 L520.1,215.4 L520.8,214.9 L521.6,214.4 L522.3,213.9 L523.1,213.4 L523.8,213.0 L524.5,212.6 L525.3,212.2 L526.0,211.8 L526.8,211.5 L527.5,211.1 L528.2,210.8 L529.0,210.5 L529.7,210.3 L530.5,210.0 L531.2,209.8 L531.9,209.7 L532.7,209.5 L533.4,209.4 L534.2,209.2 L534.9,209.2 L535.6,209.1 L536.4,209.1 L537.1,209.1 L537.9,209.1 L538.6,209.1 L539.3,209.1 L540.1,209.2 L540.8,209.2 L541.6,209.3 L542.3,209.4 L543.0,209.5 L543.8,209.7 L544.5,209.8 L545.3,210.0 L546.0,210.1 L546.7,210.3 L547.5,210.5 L548.2,210.7 L549.0,210.9 L549.7,211.2 L550.4,211.4 L551.2,211.6 L551.9,211.9 L552.7,212.2 L553.4,212.4 L554.1,212.7 L554.9,213.0 L555.6,213.3 L556.4,213.6 L557.1,213.9 L557.8,214.3 L558.6,214.6 L559.3,214.9 L560.1,215.2 L560.8,215.6 L561.5,215.9 L562.3,216.3 L563.0,216.6 L563.8,217.0 L564.5,217.4 L565.2,217.7 L566.0,218.1 L566.7,218.5 L567.5,218.8 L568.2,219.2 L568.9,219.6 L569.7,219.9 L570.4,220.3 L571.2,220.7 L571.9,221.1 L572.6,221.4 L573.4,221.8 L574.1,222.2 L574.9,222.6 L575.6,222.9 L576.3,223.3 L577.1,223.7 L577.8,224.0 L578.6,224.4 L579.3,224.7 L580.0,225.1 L580.8,225.5 L581.5,225.8 L582.3,226.2 L583.0,226.5 L583.7,226.9 L584.5,227.2 L585.2,227.5 L586.0,227.9 L586.7,228.2 L587.4,228.5 L588.2,228.8 L588.9,229.2 L589.7,229.5 L590.4,229.8 L591.1,230.1 L591.9,230.4 L592.6,230.7 L593.4,231.0 L594.1,231.3 L594.8,231.6 L595.6,231.9 L596.3,232.1 L597.1,232.4 L597.8,232.7 L598.5,232.9 L599.3,233.2 L600.0,233.4 L600.8,233.7 L601.5,233.9 L602.2,234.2 L603.0,234.4 L603.7,234.7 L604.5,234.9 L605.2,235.1 L605.9,235.3 L606.7,235.6 L607.4,235.8 L608.2,236.0 L608.9,236.2 L609.6,236.4 L610.4,236.6 L611.1,236.8 L611.9,237.0 L612.6,237.1 L613.3,237.3 L614.1,237.5 L614.8,237.7 L615.6,237.8 L616.3,238.0 L617.0,238.2 L617.8,238.3 L618.5,238.5 L619.3,238.6 L620.0,238.8 L620.7,238.9 L621.5,239.1 L622.2,239.2 L623.0,239.3 L623.7,239.5 L624.4,239.6 L625.2,239.7 L625.9,239.8 L626.7,240.0 L627.4,240.1 L628.1,240.2 L628.9,240.3 L629.6,240.4 L630.4,240.5 L631.1,240.6 L631.8,240.7 L632.6,240.8 L633.3,240.9 L634.1,241.0 L634.8,241.1 L635.5,241.2 L636.3,241.3 L637.0,241.3 L637.8,241.4 L638.5,241.5 L639.2,241.6 L640.0,241.7 L640.7,241.7 L641.5,241.8 L642.2,241.9 L642.9,241.9 L643.7,242.0 L644.4,242.1 L645.2,242.1 L645.9,242.2 L646.6,242.3 L647.4,242.3 L648.1,242.4 L648.9,242.4 L649.6,242.5 L650.3,242.5 L651.1,242.6 L651.8,242.6 L652.6,242.7 L653.3,242.7 L654.0,242.8 L654.8,242.8 L655.5,242.8 L656.3,242.9 L657.0,242.9 L657.7,243.0 L658.5,243.0 L659.2,243.0 L660.0,243.1 L660.7,243.1 L661.4,243.1 L662.2,243.2 L662.9,243.2 L663.7,243.2 L664.4,243.3 L665.1,243.3 L665.9,243.3 L666.6,243.3 L667.4,243.4 L668.1,243.4 L668.8,243.4 L669.6,243.4 L670.3,243.5 L671.1,243.5 L671.8,243.5 L672.5,243.5 L673.3,243.6 L674.0,243.6 L674.8,243.6 L675.5,243.6" fill="none" stroke="#d12a2a" stroke-width="1.5"/>
<path d="M490.5,238.5 L491.2,238.2 L492.0,237.9 L492.7,237.7 L493.5,237.4 L494.2,237.1 L494.9,236.8 L495.7,236.5 L496.4,236.2 L497.2,235.9 L497.9,235.6 L498.6,235.3 L499.4,235.0 L500.1,234.7 L500.9,234.4 L501.6,234.0 L502.3,233.7 L503.1,233.4 L503.8,233.1 L504.6,232.7 L505.3,232.4 L506.0,232.1 L506.8,231.8 L507.5,231.5 L508.3,231.1 L509.0,230.8 L509.7,230.5 L510.5,230.2 L511.2,229.9 L512.0,229.6 L512.7,229.2 L513.4,228.9 L514.2,228.6 L514.9,228.4 L515.7,228.1 L516.4,227.8 L517.1,227.5 L517.9,227.2 L518.6,227.0 L519.4,226.7 L520.1,226.5 L520.8,226.2 L521.6,226.0 L522.3,225.7 L523.1,225.5 L523.8,225.3 L524.5,225.1 L525.3,224.9 L526.0,224.7 L526.8,224.5 L527.5,224.4 L528.2,224.2 L529.0,224.1 L529.7,223.9 L530.5,223.8 L531.2,223.7 L531.9,223.5 L532.7,223.4 L533.4,223.3 L534.2,223.2 L534.9,223.2 L535.6,223.1 L536.4,223.0 L537.1,223.0 L537.9,222.9 L538.6,222.9 L539.3,222.9 L540.1,222.9 L540.8,222.9 L541.6,222.9 L542.3,222.9 L543.0,222.9 L543.8,222.9 L544.5,223.0 L545.3,223.0 L546.0,223.1 L546.7,223.1 L547.5,223.2 L548.2,223.2 L549.0,223.3 L549.7,223.4 L550.4,223.5 L551.2,223.6 L551.9,223.7 L552.7,223.8 L553.4,223.9 L554.1,224.0 L554.9,224.1 L555.6,224.2 L556.4,224.4 L557.1,224.5 L557.8,224.6 L558.6,224.8 L559.3,224.9 L560.1,225.1 L560.8,225.2 L561.5,225.4 L562.3,225.5 L563.0,225.7 L563.8,225.9 L564.5,226.0 L565.2,226.2 L566.0,226.4 L566.7,226.5 L567.5,226.7 L568.2,226.9 L568.9,227.1 L569.7,227.3 L570.4,227.5 L571.2,227.6 L571.9,227.8 L572.6,228.0 L573.4,228.2 L574.1,228.4 L574.9,228.6 L575.6,228.8 L576.3,229.0 L577.1,229.2 L577.8,229.4 L578.6,229.6 L579.3,229.8 L580.0,230.0 L580.8,230.2 L581.5,230.4 L582.3,230.5 L583.0,230.7 L583.7,230.9 L584.5,231.1 L585.2,231.3 L586.0,231.5 L586.7,231.7 L587.4,231.9 L588.2,232.1 L588.9,232.3 L589.7,232.5 L590.4,232.6 L591.1,232.8 L591.9,233.0 L592.6,233.2 L593.4,233.4 L594.1,233.5 L594.8,233.7 L595.6,233.9 L596.3,234.1 L597.1,234.2 L597.8,234.4 L598.5,234.6 L599.3,234.8 L600.0,234.9 L600.8,235.1 L601.5,235.2 L602.2,235.4 L603.0,235.6 L603.7,235.7 L604.5,235.9 L605.2,236.0 L605.9,236.2 L606.7,236.3 L607.4,236.5 L608.2,236.6 L608.9,236.8 L609.6,236.9 L610.4,237.0 L611.1,237.2 L611.9,237.3 L612.6,237.5 L613.3,237.6 L614.1,237.7 L614.8,237.8 L615.6,238.0 L616.3,238.1 L617.0,238.2 L617.8,238.3 L618.5,238.5 L619.3,238.6 L620.0,238.7 L620.7,238.8 L621.5,238.9 L622.2,239.0 L623.0,239.1 L623.7,239.2 L624.4,239.3 L625.2,239.4 L625.9,239.5 L626.7,239.6 L627.4,239.7 L628.1,239.8 L628.9,239.9 L629.6,240.0 L630.4,240.1 L631.1,240.2 L631.8,240.3 L632.6,240.4 L633.3,240.4 L634.1,240.5 L634.8,240.6 L635.5,240.7 L636.3,240.8 L637.0,240.8 L637.8,240.9 L638.5,241.0 L639.2,241.1 L640.0,241.1 L640.7,241.2 L641.5,241.3 L642.2,241.3 L642.9,241.4 L643.7,241.5 L644.4,241.5 L645.2,241.6 L645.9,241.6 L646.6,241.7 L647.4,241.8 L648.1,241.8 L648.9,241.9 L649.6,241.9 L650.3,242.0 L651.1,242.0 L651.8,242.1 L652.6,242.1 L653.3,242.2 L654.0,242.2 L654.8,242.3 L655.5,242.3 L656.3,242.4 L657.0,242.4 L657.7,242.4 L658.5,242.5 L659.2,242.5 L660.0,242.6 L660.7,242.6 L661.4,242.6 L662.2,242.7 L662.9,242.7 L663.7,242.7 L664.4,242.8 L665.1,242.8 L665.9,242.8 L666.6,242.9 L667.4,242.9 L668.1,242.9 L668.8,243.0 L669.6,243.0 L670.3,243.0 L671.1,243.1 L671.8,243.1 L672.5,243.1 L673.3,243.1 L674.0,243.2 L674.8,243.2 L675.5,243.2" fill="none" stroke="#8e1c1c" stroke-width="1.5"/>
<path d="M490.5,239.3 L491.2,239.1 L492.0,238.9 L492.7,238.7 L493.5,238.5 L494.2,238.2 L494.9,238.0 L495.7,237.8 L496.4,237.5 L497.2,237.3 L497.9,237.1 L498.6,236.8 L499.4,236.6 L500.1,236.3 L500.9,236.1 L501.6,235.8 L502.3,235.6 L503.1,235.3 L503.8,235.1 L504.6,234.8 L505.3,234.6 L506.0,234.3 L506.8,234.1 L507.5,233.8 L508.3,233.6 L509.0,233.3 L509.7,233.1 L510.5,232.8 L511.2,232.6 L512.0,232.3 L512.7,232.1 L513.4,231.9 L514.2,231.6 L514.9,231.4 L515.7,231.2 L516.4,231.0 L517.1,230.8 L517.9,230.6 L518.6,230.4 L519.4,230.2 L520.1,230.0 L520.8,229.8 L521.6,229.6 L522.3,229.4 L523.1,229.3 L523.8,229.1 L524.5,228.9 L525.3,228.8 L526.0,228.6 L526.8,228.5 L527.5,228.4 L528.2,228.3 L529.0,228.1 L529.7,228.0 L530.5,227.9 L531.2,227.8 L531.9,227.7 L532.7,227.7 L533.4,227.6 L534.2,227.5 L534.9,227.5 L535.6,227.4 L536.4,227.4 L537.1,227.3 L537.9,227.3 L538.6,227.3 L539.3,227.3 L540.1,227.2 L540.8,227.2 L541.6,227.2 L542.3,227.3 L543.0,227.3 L543.8,227.3 L544.5,227.3 L545.3,227.3 L546.0,227.4 L546.7,227.4 L547.5,227.5 L548.2,227.5 L549.0,227.6 L549.7,227.6 L550.4,227.7 L551.2,227.8 L551.9,227.9 L552.7,227.9 L553.4,228.0 L554.1,228.1 L554.9,228.2 L555.6,228.3 L556.4,228.4 L557.1,228.5 L557.8,228.6 L558.6,228.7 L559.3,228.9 L560.1,229.0 L560.8,229.1 L561.5,229.2 L562.3,229.4 L563.0,229.5 L563.8,229.6 L564.5,229.7 L565.2,229.9 L566.0,230.0 L566.7,230.2 L567.5,230.3 L568.2,230.4 L568.9,230.6 L569.7,230.7 L570.4,230.9 L571.2,231.0 L571.9,231.2 L572.6,231.3 L573.4,231.5 L574.1,231.6 L574.9,231.8 L575.6,231.9 L576.3,232.1 L577.1,232.3 L577.8,232.4 L578.6,232.6 L579.3,232.7 L580.0,232.9 L580.8,233.0 L581.5,233.2 L582.3,233.3 L583.0,233.5 L583.7,233.7 L584.5,233.8 L585.2,234.0 L586.0,234.1 L586.7,234.3 L587.4,234.4 L588.2,234.6 L588.9,234.7 L589.7,234.9 L590.4,235.0 L591.1,235.2 L591.9,235.3 L592.6,235.4 L593.4,235.6 L594.1,235.7 L594.8,235.9 L595.6,236.0 L596.3,236.1 L597.1,236.3 L597.8,236.4 L598.5,236.6 L599.3,236.7 L600.0,236.8 L600.8,237.0 L601.5,237.1 L602.2,237.2 L603.0,237.3 L603.7,237.5 L604.5,237.6 L605.2,237.7 L605.9,237.8 L606.7,237.9 L607.4,238.1 L608.2,238.2 L608.9,238.3 L609.6,238.4 L610.4,238.5 L611.1,238.6 L611.9,238.7 L612.6,238.8 L613.3,238.9 L614.1,239.0 L614.8,239.1 L615.6,239.2 L616.3,239.3 L617.0,239.4 L617.8,239.5 L618.5,239.6 L619.3,239.7 L620.0,239.8 L620.7,239.9 L621.5,240.0 L622.2,240.1 L623.0,240.2 L623.7,240.3 L624.4,240.3 L625.2,240.4 L625.9,240.5 L626.7,240.6 L627.4,240.6 L628.1,240.7 L628.9,240.8 L629.6,240.9 L630.4,240.9 L631.1,241.0 L631.8,241.1 L632.6,241.1 L633.3,241.2 L634.1,241.3 L634.8,241.3 L635.5,241.4 L636.3,241.5 L637.0,241.5 L637.8,241.6 L638.5,241.6 L639.2,241.7 L640.0,241.8 L640.7,241.8 L641.5,241.9 L642.2,241.9 L642.9,242.0 L643.7,242.0 L644.4,242.1 L645.2,242.1 L645.9,242.2 L646.6,242.2 L647.4,242.3 L648.1,242.3 L648.9,242.3 L649.6,242.4 L650.3,242.4 L651.1,242.5 L651.8,242.5 L652.6,242.5 L653.3,242.6 L654.0,242.6 L654.8,242.7 L655.5,242.7 L656.3,242.7 L657.0,242.8 L657.7,242.8 L658.5,242.8 L659.2,242.9 L660.0,242.9 L660.7,242.9 L661.4,243.0 L662.2,243.0 L662.9,243.0 L663.7,243.0 L664.4,243.1 L665.1,243.1 L665.9,243.1 L666.6,243.2 L667.4,243.2 L668.1,243.2 L668.8,243.2 L669.6,243.2 L670.3,243.3 L671.1,243.3 L671.8,243.3 L672.5,243.3 L673.3,243.4 L674.0,243.4 L674.8,243.4 L675.5,243.4" fill="none" stroke="#f8bde6" stroke-width="1.3"/>
<path d="M490.5,241.1 L491.2,241.0 L492.0,240.9 L492.7,240.8 L493.5,240.7 L494.2,240.6 L494.9,240.4 L495.7,240.3 L496.4,240.2 L497.2,240.1 L497.9,240.0 L498.6,239.9 L499.4,239.7 L500.1,239.6 L500.9,239.5 L501.6,239.4 L502.3,239.3 L503.1,239.2 L503.8,239.1 L504.6,238.9 L505.3,238.8 L506.0,238.7 L506.8,238.6 L507.5,238.5 L508.3,238.4 L509.0,238.3 L509.7,238.2 L510.5,238.1 L511.2,238.0 L512.0,237.9 L512.7,237.8 L513.4,237.7 L514.2,237.6 L514.9,237.5 L515.7,237.4 L516.4,237.3 L517.1,237.2 L517.9,237.1 L518.6,237.1 L519.4,237.0 L520.1,236.9 L520.8,236.8 L521.6,236.8 L522.3,236.7 L523.1,236.6 L523.8,236.6 L524.5,236.5 L525.3,236.5 L526.0,236.4 L526.8,236.3 L527.5,236.3 L528.2,236.3 L529.0,236.2 L529.7,236.2 L530.5,236.1 L531.2,236.1 L531.9,236.1 L532.7,236.1 L533.4,236.0 L534.2,236.0 L534.9,236.0 L535.6,236.0 L536.4,236.0 L537.1,236.0 L537.9,236.0 L538.6,236.0 L539.3,236.0 L540.1,236.0 L540.8,236.0 L541.6,236.0 L542.3,236.0 L543.0,236.0 L543.8,236.0 L544.5,236.1 L545.3,236.1 L546.0,236.1 L546.7,236.1 L547.5,236.2 L548.2,236.2 L549.0,236.2 L549.7,236.3 L550.4,236.3 L551.2,236.4 L551.9,236.4 L552.7,236.5 L553.4,236.5 L554.1,236.6 L554.9,236.6 L555.6,236.7 L556.4,236.7 L557.1,236.8 L557.8,236.8 L558.6,236.9 L559.3,237.0 L560.1,237.0 L560.8,237.1 L561.5,237.1 L562.3,237.2 L563.0,237.3 L563.8,237.4 L564.5,237.4 L565.2,237.5 L566.0,237.6 L566.7,237.6 L567.5,237.7 L568.2,237.8 L568.9,237.9 L569.7,237.9 L570.4,238.0 L571.2,238.1 L571.9,238.2 L572.6,238.2 L573.4,238.3 L574.1,238.4 L574.9,238.5 L575.6,238.5 L576.3,238.6 L577.1,238.7 L577.8,238.8 L578.6,238.8 L579.3,238.9 L580.0,239.0 L580.8,239.1 L581.5,239.1 L582.3,239.2 L583.0,239.3 L583.7,239.4 L584.5,239.4 L585.2,239.5 L586.0,239.6 L586.7,239.7 L587.4,239.7 L588.2,239.8 L588.9,239.9 L589.7,240.0 L590.4,240.0 L591.1,240.1 L591.9,240.2 L592.6,240.2 L593.4,240.3 L594.1,240.4 L594.8,240.4 L595.6,240.5 L596.3,240.6 L597.1,240.6 L597.8,240.7 L598.5,240.8 L599.3,240.8 L600.0,240.9 L600.8,240.9 L601.5,241.0 L602.2,241.1 L603.0,241.1 L603.7,241.2 L604.5,241.2 L605.2,241.3 L605.9,241.4 L606.7,241.4 L607.4,241.5 L608.2,241.5 L608.9,241.6 L609.6,241.6 L610.4,241.7 L611.1,241.7 L611.9,241.8 L612.6,241.8 L613.3,241.9 L614.1,241.9 L614.8,242.0 L615.6,242.0 L616.3,242.1 L617.0,242.1 L617.8,242.1 L618.5,242.2 L619.3,242.2 L620.0,242.3 L620.7,242.3 L621.5,242.4 L622.2,242.4 L623.0,242.4 L623.7,242.5 L624.4,242.5 L625.2,242.5 L625.9,242.6 L626.7,242.6 L627.4,242.7 L628.1,242.7 L628.9,242.7 L629.6,242.8 L630.4,242.8 L631.1,242.8 L631.8,242.8 L632.6,242.9 L633.3,242.9 L634.1,242.9 L634.8,243.0 L635.5,243.0 L636.3,243.0 L637.0,243.0 L637.8,243.1 L638.5,243.1 L639.2,243.1 L640.0,243.1 L640.7,243.2 L641.5,243.2 L642.2,243.2 L642.9,243.2 L643.7,243.3 L644.4,243.3 L645.2,243.3 L645.9,243.3 L646.6,243.4 L647.4,243.4 L648.1,243.4 L648.9,243.4 L649.6,243.4 L650.3,243.4 L651.1,243.5 L651.8,243.5 L652.6,243.5 L653.3,243.5 L654.0,243.5 L654.8,243.5 L655.5,243.6 L656.3,243.6 L657.0,243.6 L657.7,243.6 L658.5,243.6 L659.2,243.6 L660.0,243.7 L660.7,243.7 L661.4,243.7 L662.2,243.7 L662.9,243.7 L663.7,243.7 L664.4,243.7 L665.1,243.7 L665.9,243.8 L666.6,243.8 L667.4,243.8 L668.1,243.8 L668.8,243.8 L669.6,243.8 L670.3,243.8 L671.1,243.8 L671.8,243.8 L672.5,243.8 L673.3,243.9 L674.0,243.9 L674.8,243.9 L675.5,243.9" fill="none" stroke="#f7a6dc" stroke-width="1.3"/>
<path d="M490.5,241.7 L491.2,241.6 L492.0,241.5 L492.7,241.4 L493.5,241.3 L494.2,241.3 L494.9,241.2 L495.7,241.1 L496.4,241.0 L497.2,240.9 L497.9,240.8 L498.6,240.7 L499.4,240.6 L500.1,240.6 L500.9,240.5 L501.6,240.4 L502.3,240.3 L503.1,240.2 L503.8,240.1 L504.6,240.0 L505.3,240.0 L506.0,239.9 L506.8,239.8 L507.5,239.7 L508.3,239.6 L509.0,239.6 L509.7,239.5 L510.5,239.4 L511.2,239.3 L512.0,239.3 L512.7,239.2 L513.4,239.1 L514.2,239.0 L514.9,239.0 L515.7,238.9 L516.4,238.9 L517.1,238.8 L517.9,238.7 L518.6,238.7 L519.4,238.6 L520.1,238.6 L520.8,238.5 L521.6,238.5 L522.3,238.4 L523.1,238.4 L523.8,238.3 L524.5,238.3 L525.3,238.2 L526.0,238.2 L526.8,238.2 L527.5,238.1 L528.2,238.1 L529.0,238.1 L529.7,238.1 L530.5,238.0 L531.2,238.0 L531.9,238.0 L532.7,238.0 L533.4,238.0 L534.2,237.9 L534.9,237.9 L535.6,237.9 L536.4,237.9 L537.1,237.9 L537.9,237.9 L538.6,237.9 L539.3,237.9 L540.1,237.9 L540.8,237.9 L541.6,237.9 L542.3,237.9 L543.0,237.9 L543.8,238.0 L544.5,238.0 L545.3,238.0 L546.0,238.0 L546.7,238.0 L547.5,238.1 L548.2,238.1 L549.0,238.1 L549.7,238.1 L550.4,238.2 L551.2,238.2 L551.9,238.2 L552.7,238.3 L553.4,238.3 L554.1,238.3 L554.9,238.4 L555.6,238.4 L556.4,238.4 L557.1,238.5 L557.8,238.5 L558.6,238.6 L559.3,238.6 L560.1,238.6 L560.8,238.7 L561.5,238.7 L562.3,238.8 L563.0,238.8 L563.8,238.9 L564.5,238.9 L565.2,239.0 L566.0,239.0 L566.7,239.1 L567.5,239.1 L568.2,239.2 L568.9,239.2 L569.7,239.3 L570.4,239.4 L571.2,239.4 L571.9,239.5 L572.6,239.5 L573.4,239.6 L574.1,239.6 L574.9,239.7 L575.6,239.7 L576.3,239.8 L577.1,239.8 L577.8,239.9 L578.6,240.0 L579.3,240.0 L580.0,240.1 L580.8,240.1 L581.5,240.2 L582.3,240.2 L583.0,240.3 L583.7,240.4 L584.5,240.4 L585.2,240.5 L586.0,240.5 L586.7,240.6 L587.4,240.6 L588.2,240.7 L588.9,240.7 L589.7,240.8 L590.4,240.8 L591.1,240.9 L591.9,241.0 L592.6,241.0 L593.4,241.1 L594.1,241.1 L594.8,241.2 L595.6,241.2 L596.3,241.3 L597.1,241.3 L597.8,241.4 L598.5,241.4 L599.3,241.5 L600.0,241.5 L600.8,241.6 L601.5,241.6 L602.2,241.6 L603.0,241.7 L603.7,241.7 L604.5,241.8 L605.2,241.8 L605.9,241.9 L606.7,241.9 L607.4,242.0 L608.2,242.0 L608.9,242.0 L609.6,242.1 L610.4,242.1 L611.1,242.2 L611.9,242.2 L612.6,242.3 L613.3,242.3 L614.1,242.3 L614.8,242.4 L615.6,242.4 L616.3,242.4 L617.0,242.5 L617.8,242.5 L618.5,242.6 L619.3,242.6 L620.0,242.6 L620.7,242.7 L621.5,242.7 L622.2,242.7 L623.0,242.8 L623.7,242.8 L624.4,242.8 L625.2,242.8 L625.9,242.9 L626.7,242.9 L627.4,242.9 L628.1,243.0 L628.9,243.0 L629.6,243.0 L630.4,243.1 L631.1,243.1 L631.8,243.1 L632.6,243.1 L633.3,243.2 L634.1,243.2 L634.8,243.2 L635.5,243.2 L636.3,243.3 L637.0,243.3 L637.8,243.3 L638.5,243.3 L639.2,243.4 L640.0,243.4 L640.7,243.4 L641.5,243.4 L642.2,243.4 L642.9,243.5 L643.7,243.5 L644.4,243.5 L645.2,243.5 L645.9,243.5 L646.6,243.6 L647.4,243.6 L648.1,243.6 L648.9,243.6 L649.6,243.6 L650.3,243.6 L651.1,243.7 L651.8,243.7 L652.6,243.7 L653.3,243.7 L654.0,243.7 L654.8,243.7 L655.5,243.8 L656.3,243.8 L657.0,243.8 L657.7,243.8 L658.5,243.8 L659.2,243.8 L660.0,243.8 L660.7,243.9 L661.4,243.9 L662.2,243.9 L662.9,243.9 L663.7,243.9 L664.4,243.9 L665.1,243.9 L665.9,243.9 L666.6,243.9 L667.4,244.0 L668.1,244.0 L668.8,244.0 L669.6,244.0 L670.3,244.0 L671.1,244.0 L671.8,244.0 L672.5,244.0 L673.3,244.0 L674.0,244.0 L674.8,244.1 L675.5,244.1" fill="none" stroke="#f5a066" stroke-width="1.3"/>
<path d="M490.5,240.9 L491.2,240.8 L492.0,240.6 L492.7,240.5 L493.5,240.4 L494.2,240.3 L494.9,240.1 L495.7,240.0 L496.4,239.9 L497.2,239.8 L497.9,239.7 L498.6,239.5 L499.4,239.4 L500.1,239.3 L500.9,239.2 L501.6,239.0 L502.3,238.9 L503.1,238.8 L503.8,238.7 L504.6,238.6 L505.3,238.4 L506.0,238.3 L506.8,238.2 L507.5,238.1 L508.3,238.0 L509.0,237.9 L509.7,237.8 L510.5,237.6 L511.2,237.5 L512.0,237.4 L512.7,237.3 L513.4,237.2 L514.2,237.1 L514.9,237.0 L515.7,236.9 L516.4,236.9 L517.1,236.8 L517.9,236.7 L518.6,236.6 L519.4,236.5 L520.1,236.4 L520.8,236.4 L521.6,236.3 L522.3,236.2 L523.1,236.2 L523.8,236.1 L524.5,236.0 L525.3,236.0 L526.0,235.9 L526.8,235.9 L527.5,235.8 L528.2,235.8 L529.0,235.7 L529.7,235.7 L530.5,235.7 L531.2,235.6 L531.9,235.6 L532.7,235.6 L533.4,235.6 L534.2,235.5 L534.9,235.5 L535.6,235.5 L536.4,235.5 L537.1,235.5 L537.9,235.5 L538.6,235.5 L539.3,235.5 L540.1,235.5 L540.8,235.5 L541.6,235.5 L542.3,235.5 L543.0,235.5 L543.8,235.6 L544.5,235.6 L545.3,235.6 L546.0,235.6 L546.7,235.7 L547.5,235.7 L548.2,235.7 L549.0,235.8 L549.7,235.8 L550.4,235.9 L551.2,235.9 L551.9,236.0 L552.7,236.0 L553.4,236.1 L554.1,236.1 L554.9,236.2 L555.6,236.2 L556.4,236.3 L557.1,236.4 L557.8,236.4 L558.6,236.5 L559.3,236.6 L560.1,236.6 L560.8,236.7 L561.5,236.8 L562.3,236.8 L563.0,236.9 L563.8,237.0 L564.5,237.1 L565.2,237.1 L566.0,237.2 L566.7,237.3 L567.5,237.4 L568.2,237.5 L568.9,237.5 L569.7,237.6 L570.4,237.7 L571.2,237.8 L571.9,237.9 L572.6,237.9 L573.4,238.0 L574.1,238.1 L574.9,238.2 L575.6,238.3 L576.3,238.4 L577.1,238.4 L577.8,238.5 L578.6,238.6 L579.3,238.7 L580.0,238.8 L580.8,238.9 L581.5,238.9 L582.3,239.0 L583.0,239.1 L583.7,239.2 L584.5,239.3 L585.2,239.3 L586.0,239.4 L586.7,239.5 L587.4,239.6 L588.2,239.7 L588.9,239.7 L589.7,239.8 L590.4,239.9 L591.1,240.0 L591.9,240.0 L592.6,240.1 L593.4,240.2 L594.1,240.3 L594.8,240.3 L595.6,240.4 L596.3,240.5 L597.1,240.6 L597.8,240.6 L598.5,240.7 L599.3,240.8 L600.0,240.8 L600.8,240.9 L601.5,241.0 L602.2,241.0 L603.0,241.1 L603.7,241.2 L604.5,241.2 L605.2,241.3 L605.9,241.3 L606.7,241.4 L607.4,241.5 L608.2,241.5 L608.9,241.6 L609.6,241.6 L610.4,241.7 L611.1,241.7 L611.9,241.8 L612.6,241.9 L613.3,241.9 L614.1,242.0 L614.8,242.0 L615.6,242.1 L616.3,242.1 L617.0,242.2 L617.8,242.2 L618.5,242.3 L619.3,242.3 L620.0,242.3 L620.7,242.4 L621.5,242.4 L622.2,242.5 L623.0,242.5 L623.7,242.6 L624.4,242.6 L625.2,242.6 L625.9,242.7 L626.7,242.7 L627.4,242.8 L628.1,242.8 L628.9,242.8 L629.6,242.9 L630.4,242.9 L631.1,242.9 L631.8,243.0 L632.6,243.0 L633.3,243.0 L634.1,243.1 L634.8,243.1 L635.5,243.1 L636.3,243.2 L637.0,243.2 L637.8,243.2 L638.5,243.2 L639.2,243.3 L640.0,243.3 L640.7,243.3 L641.5,243.4 L642.2,243.4 L642.9,243.4 L643.7,243.4 L644.4,243.4 L645.2,243.5 L645.9,243.5 L646.6,243.5 L647.4,243.5 L648.1,243.6 L648.9,243.6 L649.6,243.6 L650.3,243.6 L651.1,243.6 L651.8,243.7 L652.6,243.7 L653.3,243.7 L654.0,243.7 L654.8,243.7 L655.5,243.8 L656.3,243.8 L657.0,243.8 L657.7,243.8 L658.5,243.8 L659.2,243.8 L660.0,243.8 L660.7,243.9 L661.4,243.9 L662.2,243.9 L662.9,243.9 L663.7,243.9 L664.4,243.9 L665.1,243.9 L665.9,244.0 L666.6,244.0 L667.4,244.0 L668.1,244.0 L668.8,244.0 L669.6,244.0 L670.3,244.0 L671.1,244.0 L671.8,244.0 L672.5,244.1 L673.3,244.1 L674.0,244.1 L674.8,244.1 L675.5,244.1" fill="none" stroke="#f047aa" stroke-width="2.0"/>
<rect x="490.5" y="96.5" width="185.0" height="148.0" fill="none" stroke="#111" stroke-width="1.35"/>
<line x1="487.5" y1="244.7" x2="490.5" y2="244.7" stroke="#111" stroke-width="1.2"/>
<text x="485.5" y="248.2" font-size="10" font-weight="bold" fill="#000" stroke="#000" stroke-width="0.35" text-anchor="end" >0</text>
<line x1="488.5" y1="232.575" x2="490.5" y2="232.575" stroke="#111" stroke-width="1.2"/>
<line x1="487.5" y1="220.45" x2="490.5" y2="220.45" stroke="#111" stroke-width="1.2"/>
<text x="485.5" y="223.9" font-size="10" font-weight="bold" fill="#000" stroke="#000" stroke-width="0.35" text-anchor="end" >1</text>
<line x1="488.5" y1="208.325" x2="490.5" y2="208.325" stroke="#111" stroke-width="1.2"/>
<line x1="487.5" y1="196.2" x2="490.5" y2="196.2" stroke="#111" stroke-width="1.2"/>
<text x="485.5" y="199.7" font-size="10" font-weight="bold" fill="#000" stroke="#000" stroke-width="0.35" text-anchor="end" >2</text>
<line x1="488.5" y1="184.075" x2="490.5" y2="184.075" stroke="#111" stroke-width="1.2"/>
<line x1="487.5" y1="171.95" x2="490.5" y2="171.95" stroke="#111" stroke-width="1.2"/>
<text x="485.5" y="175.4" font-size="10" font-weight="bold" fill="#000" stroke="#000" stroke-width="0.35" text-anchor="end" >3</text>
<line x1="488.5" y1="159.825" x2="490.5" y2="159.825" stroke="#111" stroke-width="1.2"/>
<line x1="487.5" y1="147.7" x2="490.5" y2="147.7" stroke="#111" stroke-width="1.2"/>
<text x="485.5" y="151.2" font-size="10" font-weight="bold" fill="#000" stroke="#000" stroke-width="0.35" text-anchor="end" >4</text>
<line x1="488.5" y1="135.575" x2="490.5" y2="135.575" stroke="#111" stroke-width="1.2"/>
<line x1="487.5" y1="123.44999999999999" x2="490.5" y2="123.44999999999999" stroke="#111" stroke-width="1.2"/>
<text x="485.5" y="126.9" font-size="10" font-weight="bold" fill="#000" stroke="#000" stroke-width="0.35" text-anchor="end" >5</text>
<line x1="488.5" y1="111.32499999999999" x2="490.5" y2="111.32499999999999" stroke="#111" stroke-width="1.2"/>
<line x1="487.5" y1="99.19999999999999" x2="490.5" y2="99.19999999999999" stroke="#111" stroke-width="1.2"/>
<text x="485.5" y="102.7" font-size="10" font-weight="bold" fill="#000" stroke="#000" stroke-width="0.35" text-anchor="end" >6</text>
<line x1="490.5" y1="244.5" x2="490.5" y2="248.0" stroke="#111" stroke-width="1.2"/>
<text x="490.5" y="257.8" font-size="10" font-weight="bold" fill="#000" stroke="#000" stroke-width="0.35" text-anchor="middle" >400</text>
<line x1="509.0" y1="244.5" x2="509.0" y2="246.5" stroke="#111" stroke-width="1.2"/>
<line x1="527.5" y1="244.5" x2="527.5" y2="248.0" stroke="#111" stroke-width="1.2"/>
<text x="527.5" y="257.8" font-size="10" font-weight="bold" fill="#000" stroke="#000" stroke-width="0.35" text-anchor="middle" >450</text>
<line x1="546.0" y1="244.5" x2="546.0" y2="246.5" stroke="#111" stroke-width="1.2"/>
<line x1="564.5" y1="244.5" x2="564.5" y2="248.0" stroke="#111" stroke-width="1.2"/>
<text x="564.5" y="257.8" font-size="10" font-weight="bold" fill="#000" stroke="#000" stroke-width="0.35" text-anchor="middle" >500</text>
<line x1="583.0" y1="244.5" x2="583.0" y2="246.5" stroke="#111" stroke-width="1.2"/>
<line x1="601.5" y1="244.5" x2="601.5" y2="248.0" stroke="#111" stroke-width="1.2"/>
<text x="601.5" y="257.8" font-size="10" font-weight="bold" fill="#000" stroke="#000" stroke-width="0.35" text-anchor="middle" >550</text>
<line x1="620.0" y1="244.5" x2="620.0" y2="246.5" stroke="#111" stroke-width="1.2"/>
<line x1="638.5" y1="244.5" x2="638.5" y2="248.0" stroke="#111" stroke-width="1.2"/>
<text x="638.5" y="257.8" font-size="10" font-weight="bold" fill="#000" stroke="#000" stroke-width="0.35" text-anchor="middle" >600</text>
<line x1="657.0" y1="244.5" x2="657.0" y2="246.5" stroke="#111" stroke-width="1.2"/>
<line x1="675.5" y1="244.5" x2="675.5" y2="248.0" stroke="#111" stroke-width="1.2"/>
<text x="675.5" y="257.8" font-size="10" font-weight="bold" fill="#000" stroke="#000" stroke-width="0.35" text-anchor="middle" >650</text>
<text x="458" y="106.3" font-size="14.5" font-weight="bold" fill="#000" stroke="#000" stroke-width="0.35" text-anchor="start" >d</text>
<text x="491.3" y="106.2" font-size="10" font-weight="bold" fill="#000" stroke="#000" stroke-width="0.3">×10<tspan font-size="6.5" dy="-4" stroke-width="0.15">3</tspan></text>
<text x="0" y="0" transform="translate(475.2,169.5) rotate(-90)" font-size="15.6" font-weight="bold" fill="#000" stroke="#000" stroke-width="0.35" text-anchor="middle">FL intensity</text>
<text x="581.8" y="276.8" font-size="15.3" font-weight="bold" fill="#000" stroke="#000" stroke-width="0.35" text-anchor="middle" >Wavelength (nm)</text>
<line x1="634" y1="103.50" x2="650.5" y2="103.50" stroke="#f9c6c6" stroke-width="1.6"/>
<text x="652.7" y="106.1" font-size="7.3" font-weight="bold" fill="#000"  text-anchor="start" >0 s</text>
<line x1="634" y1="112.75" x2="650.5" y2="112.75" stroke="#f5a3a3" stroke-width="1.6"/>
<text x="652.7" y="115.35" font-size="7.3" font-weight="bold" fill="#000"  text-anchor="start" >5 s</text>
<line x1="634" y1="122.00" x2="650.5" y2="122.00" stroke="#ee7676" stroke-width="1.6"/>
<text x="652.7" y="124.6" font-size="7.3" font-weight="bold" fill="#000"  text-anchor="start" >10 s</text>
<line x1="634" y1="131.25" x2="650.5" y2="131.25" stroke="#d12a2a" stroke-width="1.6"/>
<text x="652.7" y="133.85" font-size="7.3" font-weight="bold" fill="#000"  text-anchor="start" >15 s</text>
<line x1="634" y1="140.50" x2="650.5" y2="140.50" stroke="#8e1c1c" stroke-width="1.6"/>
<text x="652.7" y="143.1" font-size="7.3" font-weight="bold" fill="#000"  text-anchor="start" >20 s</text>
<line x1="634" y1="149.75" x2="650.5" y2="149.75" stroke="#f8bde6" stroke-width="1.6"/>
<text x="652.7" y="152.35" font-size="7.3" font-weight="bold" fill="#000"  text-anchor="start" >25 s</text>
<line x1="634" y1="159.00" x2="650.5" y2="159.00" stroke="#f7a6dc" stroke-width="1.6"/>
<text x="652.7" y="161.6" font-size="7.3" font-weight="bold" fill="#000"  text-anchor="start" >30 s</text>
<line x1="634" y1="168.25" x2="650.5" y2="168.25" stroke="#f047aa" stroke-width="1.6"/>
<text x="652.7" y="170.85" font-size="7.3" font-weight="bold" fill="#000"  text-anchor="start" >35 s</text>
<line x1="634" y1="177.50" x2="650.5" y2="177.50" stroke="#f5a066" stroke-width="1.6"/>
<text x="652.7" y="180.1" font-size="7.3" font-weight="bold" fill="#000"  text-anchor="start" >40 s</text>
<clipPath id="eclip"><rect x="29.5" y="286.0" width="178.5" height="153.5"/></clipPath>
<g clip-path="url(#eclip)">
<rect x="29.5" y="286" width="178.5" height="153.5" fill="#0000ff"/>
<path d="M134.2,282.2 133.0,282.2 131.8,282.2 130.7,282.2 129.5,282.2 128.3,282.2 127.1,282.2 125.9,282.2 124.7,282.2 123.5,282.2 122.3,282.2 121.1,282.2 119.9,282.2 118.8,282.2 117.6,282.2 116.4,282.2 115.2,282.2 114.0,282.2 112.8,282.2 111.6,282.2 110.4,282.2 109.2,282.2 108.0,282.2 106.8,282.2 105.7,282.2 104.5,282.2 103.3,282.2 102.1,282.2 100.9,282.2 99.7,282.2 98.5,282.2 97.3,282.2 96.1,282.2 95.0,282.2 93.8,282.2 92.6,282.2 91.4,282.2 90.2,282.2 89.0,282.2 87.8,282.2 86.6,282.2 85.4,282.2 84.2,282.2 83.0,282.2 81.9,282.2 80.7,282.2 79.5,282.2 78.3,282.2 77.1,282.2 75.9,282.2 74.7,282.2 73.5,282.2 72.3,282.2 71.2,282.2 70.0,282.2 68.8,282.2 67.6,282.2 66.4,282.2 65.2,282.2 64.0,282.2 62.8,282.2 61.6,282.2 60.4,282.2 59.2,282.2 58.1,282.2 56.9,282.2 55.7,282.2 54.5,282.2 53.3,282.2 52.1,282.2 50.9,282.2 49.7,282.2 48.5,282.2 47.4,282.2 46.2,282.2 45.0,282.2 43.8,282.2 42.6,282.2 41.5,282.2 41.5,283.7 41.5,285.2 41.4,286.8 41.3,287.5 41.2,288.3 41.1,289.1 40.9,289.8 40.8,290.6 40.7,291.4 40.6,292.1 40.5,292.9 40.4,293.7 40.3,294.4 40.2,295.2 40.0,296.0 39.9,296.7 39.8,297.5 39.7,298.3 39.6,299.0 39.5,299.8 39.4,300.6 39.3,301.4 39.2,302.1 39.0,302.9 38.9,303.7 38.8,304.4 38.7,305.2 38.6,306.0 38.5,306.7 38.4,307.5 38.3,308.3 38.2,309.0 38.1,309.8 38.0,310.6 38.0,311.3 37.9,312.1 37.8,312.9 37.7,313.6 37.6,314.4 37.5,315.2 37.4,315.9 37.3,316.7 37.2,317.5 37.1,318.2 37.0,319.0 36.9,319.8 36.8,320.5 36.7,321.3 36.5,322.1 36.4,322.8 36.3,323.6 36.1,324.4 35.9,325.1 35.7,325.9 35.5,326.6 35.1,327.4 34.7,328.2 34.4,329.0 33.9,329.7 33.5,330.5 33.1,331.3 32.7,332.1 32.2,332.8 31.9,333.4 31.4,334.4 30.9,335.1 30.5,335.9 30.1,336.7 29.8,337.4 29.5,338.0 29.0,339.0 28.7,339.7 28.4,340.5 28.1,341.3 27.9,342.0 27.6,342.8 27.4,343.6 27.2,344.3 27.1,345.1 27.1,346.6 27.1,348.2 27.1,349.7 27.1,351.2 27.1,352.8 27.1,354.3 27.1,355.8 27.1,357.4 27.1,358.9 27.1,360.4 27.1,362.0 27.1,363.5 27.1,365.1 27.1,366.6 27.1,368.1 27.1,369.7 27.1,371.2 27.1,372.7 27.1,374.3 27.1,375.8 27.1,377.3 27.1,378.9 27.1,380.4 27.1,381.9 27.1,383.5 27.1,385.0 27.1,386.5 27.1,388.1 27.1,389.6 27.1,391.1 27.1,392.7 27.1,394.2 27.1,395.8 27.1,397.3 27.1,398.8 27.1,400.4 27.1,401.9 27.1,403.4 27.1,405.0 27.1,406.5 27.1,408.0 27.1,409.6 27.1,411.1 27.1,412.6 27.1,414.2 27.1,415.7 27.1,417.2 27.1,418.8 27.1,420.3 27.1,421.8 27.1,423.4 27.1,424.9 27.1,426.5 27.1,428.0 27.1,429.5 27.1,431.1 27.1,432.6 27.1,434.1 27.1,435.7 27.1,437.2 27.1,438.7 27.1,440.3 27.1,441.8 27.1,443.3 28.3,443.3 29.5,443.3 30.7,443.3 31.9,443.3 33.1,443.3 34.3,443.3 35.5,443.3 36.6,443.3 37.8,443.3 39.0,443.3 40.2,443.3 41.4,443.3 42.6,443.3 43.8,443.3 45.0,443.3 46.2,443.3 47.4,443.3 48.5,443.3 49.7,443.3 50.9,443.3 52.1,443.3 53.3,443.3 54.5,443.3 55.7,443.3 56.9,443.3 58.1,443.3 59.2,443.3 60.4,443.3 61.6,443.3 62.8,443.3 64.0,443.3 65.2,443.3 66.4,443.3 67.6,443.3 68.8,443.3 70.0,443.3 71.2,443.3 72.3,443.3 73.5,443.3 74.7,443.3 75.9,443.3 77.1,443.3 78.3,443.3 79.5,443.3 80.7,443.3 81.9,443.3 83.0,443.3 84.2,443.3 85.4,443.3 86.6,443.3 87.8,443.3 89.0,443.3 90.2,443.3 91.4,443.3 92.6,443.3 93.8,443.3 95.0,443.3 96.1,443.3 97.3,443.3 98.5,443.3 99.7,443.3 100.9,443.3 102.1,443.3 103.3,443.3 104.5,443.3 105.7,443.3 106.8,443.3 108.0,443.3 109.2,443.3 110.4,443.3 111.6,443.3 112.8,443.3 114.0,443.3 115.2,443.3 116.4,443.3 117.6,443.3 118.8,443.3 119.9,443.3 121.1,443.3 122.3,443.3 123.5,443.3 124.7,443.3 125.9,443.3 127.1,443.3 128.3,443.3 129.5,443.3 130.7,443.3 131.8,443.3 133.0,443.3 134.2,443.3 135.4,443.3 136.6,443.3 137.8,443.3 139.0,443.3 140.2,443.3 141.4,443.3 142.6,443.3 143.7,443.3 144.9,443.3 146.1,443.3 147.3,443.3 148.5,443.3 149.7,443.3 150.9,443.3 152.1,443.3 153.3,443.3 154.4,443.3 155.6,443.3 156.8,443.3 158.0,443.3 159.2,443.3 160.4,443.3 161.6,443.3 162.8,443.3 164.0,443.3 165.2,443.3 166.3,443.3 167.5,443.3 168.7,443.3 169.9,443.3 171.1,443.3 172.3,443.3 173.5,443.3 174.7,443.3 175.9,443.3 177.1,443.3 178.2,443.3 179.4,443.3 180.6,443.3 181.8,443.3 183.0,443.3 184.2,443.3 184.9,442.6 184.9,441.0 184.9,439.5 184.8,438.7 184.7,438.0 184.6,437.2 184.5,436.4 184.3,435.7 184.1,434.9 183.9,434.1 183.7,433.4 183.5,432.6 183.3,431.8 183.1,431.1 182.8,430.3 182.6,429.5 182.2,428.8 181.9,428.0 181.4,427.2 181.0,426.5 180.6,425.9 180.0,424.9 179.6,424.1 179.1,423.4 178.7,422.6 178.4,421.8 178.1,421.1 177.8,420.3 177.5,419.5 177.2,418.8 177.0,418.0 176.7,417.2 176.5,416.5 176.3,415.7 176.0,414.9 175.8,414.2 175.6,413.4 175.4,412.6 175.2,411.9 175.0,411.1 174.8,410.3 174.6,409.6 174.4,408.8 174.2,408.0 174.0,407.3 173.8,406.5 173.6,405.7 173.4,405.0 173.2,404.2 172.9,403.4 172.7,402.7 172.4,401.9 172.2,401.1 171.9,400.4 171.6,399.6 171.2,398.8 170.9,398.1 170.5,397.3 170.1,396.5 169.7,395.8 169.3,395.0 168.9,394.2 168.5,393.4 168.1,392.8 167.6,391.9 167.2,391.1 166.7,390.4 166.3,389.7 165.9,388.8 165.5,388.1 165.2,387.5 164.7,386.5 164.3,385.8 164.0,385.0 163.7,384.2 163.4,383.5 163.1,382.7 162.9,381.9 162.6,381.2 162.3,380.4 162.0,379.6 161.7,378.9 161.5,378.1 161.2,377.3 160.9,376.6 160.6,375.8 160.4,375.2 160.1,374.3 159.8,373.5 159.5,372.7 159.2,372.0 159.0,371.2 158.7,370.4 158.5,369.7 158.3,368.9 158.0,368.1 157.8,367.4 157.6,366.6 157.5,365.8 157.3,365.1 157.1,364.3 157.0,363.5 156.9,362.8 156.9,362.0 156.8,361.2 156.8,360.4 156.7,358.9 156.8,357.4 156.8,356.1 156.9,355.1 156.9,354.3 157.0,353.5 157.0,352.8 157.1,352.0 157.1,351.2 157.2,350.5 157.2,348.9 157.2,347.4 157.2,346.6 157.1,345.9 157.0,345.1 156.9,344.3 156.7,343.6 156.5,342.8 156.1,342.0 155.7,341.3 155.3,340.5 154.7,339.7 154.1,339.0 153.4,338.2 152.7,337.4 152.1,336.8 151.5,336.3 151.0,335.9 150.3,335.3 149.7,334.8 149.1,334.4 148.5,333.9 147.9,333.4 147.3,333.0 146.7,332.5 146.1,332.1 145.5,331.7 145.0,331.3 144.3,330.8 143.7,330.4 143.1,329.9 142.6,329.5 142.0,329.0 141.4,328.5 140.8,328.0 140.2,327.5 139.6,326.9 139.0,326.1 138.4,325.2 138.1,324.4 137.9,323.6 137.8,322.9 137.7,322.1 137.6,321.3 137.5,320.5 137.4,319.8 137.4,319.0 137.3,318.2 137.3,316.7 137.3,315.2 137.3,313.6 137.3,312.1 137.4,310.6 137.4,309.0 137.4,307.5 137.3,306.0 137.2,305.2 137.2,304.4 137.1,303.7 137.0,302.9 136.9,302.1 136.9,301.4 136.8,300.6 136.7,299.8 136.6,299.0 136.5,298.3 136.4,297.5 136.3,296.7 136.2,296.0 136.1,295.2 136.0,294.4 135.9,293.7 135.7,292.9 135.6,292.1 135.5,291.4 135.4,290.6 135.2,289.8 135.1,289.1 135.0,288.3 134.8,287.6 134.7,286.8 134.5,286.0 134.5,284.5 134.5,282.9 134.2,282.2Z" fill="#0016ff"/>
<path d="M86.0,282.2 84.8,282.2 83.6,282.2 82.5,282.2 81.3,282.2 80.1,282.2 78.9,282.2 77.7,282.2 76.5,282.2 75.3,282.2 74.1,282.2 72.9,282.2 71.7,282.2 70.6,282.2 69.4,282.2 68.2,282.2 67.0,282.2 65.8,282.2 64.6,282.2 63.4,282.2 62.2,282.2 61.0,282.2 59.8,282.2 58.7,282.2 57.5,282.2 56.3,282.2 55.6,282.9 55.6,284.5 55.6,286.0 55.4,286.8 55.1,287.5 54.9,288.3 54.6,289.1 54.4,289.8 54.2,290.6 54.0,291.4 53.7,292.1 53.5,292.9 53.3,293.7 53.1,294.4 52.9,295.2 52.7,296.0 52.5,296.7 52.3,297.5 52.1,298.3 52.0,299.0 51.8,299.8 51.6,300.6 51.4,301.4 51.2,302.1 51.1,302.9 50.9,303.7 50.7,304.4 50.5,305.2 50.4,306.0 50.2,306.7 50.1,307.5 49.9,308.3 49.8,309.0 49.7,309.8 49.6,310.6 49.4,311.3 49.3,312.1 49.2,312.9 49.1,313.6 48.9,314.4 48.8,315.2 48.7,315.9 48.5,316.6 48.4,317.5 48.2,318.2 48.1,319.0 47.9,319.7 47.8,320.5 47.6,321.3 47.4,322.1 47.2,322.8 47.0,323.6 46.8,324.4 46.6,325.1 46.2,325.9 45.8,326.7 45.4,327.4 45.0,328.0 44.4,328.9 43.8,329.7 43.2,330.5 42.6,331.3 42.1,332.1 41.5,332.8 41.0,333.6 40.5,334.4 40.0,335.1 39.6,335.7 39.0,336.6 38.6,337.4 38.1,338.2 37.8,338.8 37.4,339.7 37.0,340.5 36.7,341.3 36.4,342.0 36.2,342.8 35.9,343.6 35.7,344.3 35.5,345.1 35.4,345.9 35.2,346.6 35.0,347.4 34.9,348.2 34.7,348.9 34.6,349.7 34.4,350.5 34.3,351.2 34.2,352.0 34.0,352.8 33.9,353.5 33.8,354.3 33.6,355.1 33.5,355.8 33.3,356.6 33.2,357.4 33.1,358.1 32.9,358.9 32.7,359.7 32.6,360.4 32.4,361.2 32.2,362.0 32.0,362.8 31.9,363.4 31.6,364.3 31.4,365.1 31.2,365.8 31.0,366.6 30.7,367.4 30.5,368.1 30.2,368.9 30.0,369.7 29.7,370.4 29.5,371.1 29.2,372.0 28.9,372.7 28.6,373.5 28.4,374.3 28.1,375.0 27.8,375.8 27.5,376.6 27.2,377.3 27.1,378.1 27.1,379.6 27.1,381.2 27.1,382.7 27.1,384.2 27.1,385.8 27.1,387.3 27.1,388.8 27.1,390.4 27.1,391.9 27.1,393.4 27.1,395.0 27.1,396.5 27.1,398.1 27.1,399.6 27.1,401.1 27.1,402.7 27.1,404.2 27.1,405.7 27.1,407.3 27.1,408.8 27.1,410.3 27.1,411.9 27.1,413.4 27.1,414.9 27.1,416.5 27.1,418.0 27.1,419.5 27.1,421.1 27.1,422.6 27.1,424.1 27.1,425.7 27.1,427.2 27.1,428.8 27.1,430.3 27.1,431.8 27.1,433.4 27.1,434.9 27.1,436.4 27.1,438.0 27.1,439.5 27.1,441.0 27.1,442.6 27.7,443.3 28.9,443.3 30.1,443.3 31.3,443.3 32.5,443.3 33.7,443.3 34.9,443.3 36.0,443.3 37.2,443.3 38.4,443.3 39.6,443.3 40.8,443.3 42.0,443.3 43.2,443.3 44.4,443.3 45.6,443.3 46.8,443.3 47.9,443.3 49.1,443.3 50.3,443.3 51.5,443.3 52.7,443.3 53.9,443.3 55.1,443.3 56.3,443.3 57.5,443.3 58.7,443.3 59.8,443.3 61.0,443.3 62.2,443.3 63.4,443.3 64.6,443.3 65.8,443.3 67.0,443.3 68.2,443.3 69.4,443.3 70.6,443.3 71.7,443.3 72.9,443.3 74.1,443.3 75.3,443.3 76.5,443.3 77.7,443.3 78.9,443.3 80.1,443.3 81.3,443.3 82.5,443.3 83.6,443.3 84.8,443.3 86.0,443.3 87.2,443.3 88.4,443.3 89.6,443.3 90.8,443.3 92.0,443.3 93.2,443.3 94.4,443.3 95.5,443.3 96.7,443.3 97.9,443.3 99.1,443.3 100.3,443.3 101.5,443.3 102.7,443.3 103.9,443.3 105.1,443.3 106.3,443.3 107.4,443.3 108.6,443.3 109.8,443.3 111.0,443.3 112.2,443.3 113.4,443.3 114.6,443.3 115.8,443.3 117.0,443.3 118.2,443.3 119.3,443.3 120.5,443.3 121.7,443.3 122.9,443.3 124.1,443.3 125.3,443.3 126.5,443.3 127.7,443.3 128.9,443.3 130.1,443.3 131.2,443.3 132.4,443.3 133.6,443.3 134.8,443.3 136.0,443.3 137.2,443.3 138.4,443.3 139.6,443.3 140.8,443.3 142.0,443.3 143.1,443.3 144.3,443.3 145.5,443.3 146.7,443.3 147.9,443.3 149.1,443.3 150.3,443.3 151.5,443.3 152.7,443.3 153.9,443.3 155.0,443.3 156.2,443.3 157.4,443.3 158.6,443.3 159.8,443.3 160.2,442.6 160.2,441.0 160.2,439.5 160.3,438.7 160.3,438.0 160.4,436.4 160.3,434.9 160.3,434.1 160.2,433.4 160.1,432.6 160.0,431.8 160.0,431.1 159.9,430.3 159.7,429.5 159.6,428.8 159.4,428.0 159.1,427.2 158.8,426.5 158.5,425.7 158.2,424.9 157.8,424.1 157.5,423.4 157.3,422.6 157.0,421.8 156.8,421.1 156.7,420.3 156.5,419.5 156.3,418.8 156.2,418.0 156.0,417.2 155.9,416.5 155.7,415.7 155.6,414.9 155.4,414.2 155.3,413.4 155.1,412.6 155.0,411.9 154.8,411.1 154.7,410.3 154.5,409.6 154.4,408.8 154.2,408.0 154.1,407.3 153.9,406.5 153.7,405.7 153.5,405.0 153.3,404.2 153.1,403.4 152.9,402.7 152.7,402.0 152.4,401.1 152.1,400.4 151.8,399.6 151.5,398.9 151.1,398.1 150.7,397.3 150.3,396.5 149.9,395.8 149.5,395.0 149.1,394.3 148.6,393.4 148.1,392.7 147.7,391.9 147.3,391.3 146.7,390.4 146.2,389.6 145.8,388.8 145.3,388.1 144.9,387.5 144.4,386.5 144.0,385.8 143.6,385.0 143.2,384.2 142.8,383.5 142.6,382.8 142.2,381.9 141.8,381.2 141.5,380.4 141.1,379.6 140.8,378.9 140.4,378.1 140.0,377.3 139.6,376.6 139.3,375.8 139.0,375.2 138.5,374.3 138.1,373.5 137.8,372.8 137.4,372.0 137.0,371.2 136.7,370.4 136.3,369.7 136.0,369.0 135.6,368.1 135.3,367.4 135.0,366.6 134.7,365.8 134.4,365.1 134.2,364.4 133.9,363.5 133.7,362.8 133.5,362.0 133.4,361.2 133.2,360.4 133.1,359.7 133.0,358.9 132.9,358.1 132.8,357.4 132.7,356.6 132.6,355.8 132.6,355.1 132.5,354.3 132.4,353.5 132.4,352.8 132.3,352.0 132.2,351.2 132.2,350.5 132.1,349.7 132.0,348.9 131.8,348.2 131.7,347.4 131.5,346.6 131.3,345.9 131.1,345.1 130.8,344.3 130.5,343.6 130.1,342.8 129.6,342.0 129.0,341.3 128.4,340.5 127.7,339.8 127.1,339.2 126.5,338.7 125.9,338.2 125.3,337.7 124.7,337.3 124.1,336.8 123.5,336.4 122.9,336.0 122.3,335.6 121.7,335.3 121.1,334.9 120.5,334.5 119.9,334.2 119.3,333.8 118.8,333.5 118.2,333.2 117.6,332.8 117.0,332.5 116.4,332.2 115.8,331.9 115.2,331.6 114.6,331.2 114.0,330.9 113.4,330.6 112.8,330.3 112.2,330.0 111.6,329.6 111.0,329.3 110.4,329.0 109.8,328.7 109.2,328.3 108.6,328.0 108.0,327.6 107.4,327.2 106.8,326.8 106.3,326.4 105.7,325.9 105.1,325.3 104.5,324.6 103.9,323.6 103.5,322.8 103.3,322.3 102.8,321.3 102.5,320.5 102.2,319.8 102.0,319.0 101.7,318.2 101.5,317.6 101.2,316.7 101.0,315.9 100.8,315.2 100.6,314.4 100.4,313.6 100.2,312.9 100.0,312.1 99.8,311.3 99.6,310.6 99.4,309.8 99.2,309.0 99.0,308.3 98.8,307.5 98.5,306.8 98.2,306.0 97.9,305.3 97.5,304.4 97.2,303.7 96.9,302.9 96.5,302.1 96.1,301.4 95.8,300.6 95.4,299.8 95.0,299.0 94.6,298.3 94.2,297.5 93.8,296.8 93.3,296.0 92.9,295.2 92.6,294.7 92.0,293.7 91.5,292.9 91.0,292.1 90.5,291.4 90.0,290.6 89.6,290.1 89.0,289.2 88.4,288.4 87.8,287.6 87.2,286.9 86.6,286.1 86.5,285.2 86.5,283.7 86.5,282.2Z" fill="#002dff"/>
<path d="M68.8,325.9 67.6,325.7 66.4,325.6 65.2,325.5 64.0,325.5 62.8,325.5 61.6,325.7 60.9,325.9 59.8,326.3 59.2,326.5 58.7,326.8 58.1,327.0 57.5,327.4 56.9,327.7 56.3,328.0 55.7,328.3 55.1,328.7 54.5,329.1 53.9,329.5 53.3,329.9 52.7,330.3 52.1,330.8 51.5,331.2 50.9,331.7 50.3,332.2 49.7,332.7 49.1,333.2 48.5,333.8 48.0,334.4 47.4,335.0 46.8,335.7 46.2,336.4 45.6,337.2 45.0,338.0 44.4,338.9 43.8,339.7 43.4,340.5 43.0,341.3 42.7,342.0 42.3,342.8 42.1,343.6 41.8,344.3 41.6,345.1 41.4,345.8 41.2,346.6 41.0,347.4 40.8,348.1 40.6,348.9 40.5,349.7 40.3,350.5 40.1,351.2 40.0,352.0 39.8,352.8 39.7,353.5 39.5,354.3 39.4,355.1 39.2,355.8 39.1,356.6 38.9,357.4 38.7,358.1 38.6,358.9 38.4,359.7 38.2,360.4 38.0,361.2 37.8,361.9 37.6,362.8 37.4,363.5 37.2,364.3 36.9,365.1 36.7,365.8 36.4,366.6 36.2,367.4 35.9,368.1 35.6,368.9 35.3,369.7 35.1,370.4 34.8,371.2 34.5,372.0 34.2,372.7 33.9,373.5 33.6,374.3 33.3,375.0 33.0,375.8 32.7,376.6 32.4,377.3 32.1,378.1 31.8,378.9 31.5,379.6 31.2,380.4 30.9,381.2 30.6,381.9 30.3,382.7 30.0,383.5 29.7,384.2 29.4,385.0 29.1,385.8 28.8,386.5 28.4,387.3 28.1,388.1 27.7,388.8 27.4,389.6 27.1,390.4 27.1,391.9 27.1,393.4 27.1,395.0 27.1,396.5 27.1,398.1 27.1,399.6 27.1,401.1 27.1,402.7 27.1,404.2 27.1,405.7 27.1,407.3 27.1,408.8 27.1,410.3 27.1,411.9 27.1,413.4 27.1,414.9 27.1,416.5 27.1,418.0 27.1,419.5 27.1,421.1 27.1,422.6 27.1,424.1 27.1,425.7 27.1,427.2 27.1,428.8 27.1,430.3 27.1,431.8 27.1,433.4 27.1,434.9 27.1,436.4 27.1,438.0 27.1,439.5 27.1,441.0 27.1,442.6 27.7,443.3 28.9,443.3 30.1,443.3 31.3,443.3 32.5,443.3 33.7,443.3 34.9,443.3 36.0,443.3 37.2,443.3 38.4,443.3 39.6,443.3 40.8,443.3 42.0,443.3 43.2,443.3 44.4,443.3 45.6,443.3 46.8,443.3 47.9,443.3 49.1,443.3 50.3,443.3 51.5,443.3 52.7,443.3 53.9,443.3 55.1,443.3 56.3,443.3 57.5,443.3 58.7,443.3 59.8,443.3 61.0,443.3 62.2,443.3 63.4,443.3 64.6,443.3 65.8,443.3 67.0,443.3 68.2,443.3 69.4,443.3 70.6,443.3 71.7,443.3 72.9,443.3 74.1,443.3 75.3,443.3 76.5,443.3 77.7,443.3 78.9,443.3 80.1,443.3 81.3,443.3 82.5,443.3 83.6,443.3 84.8,443.3 86.0,443.3 87.2,443.3 88.4,443.3 89.6,443.3 90.8,443.3 92.0,443.3 93.2,443.3 94.4,443.3 95.5,443.3 96.7,443.3 97.9,443.3 99.1,443.3 100.3,443.3 101.5,443.3 102.7,443.3 103.9,443.3 105.1,443.3 106.3,443.3 107.4,443.3 108.6,443.3 109.8,443.3 111.0,443.3 112.2,443.3 113.4,443.3 114.6,443.3 115.8,443.3 117.0,443.3 118.2,443.3 119.3,443.3 120.5,443.3 121.7,443.3 122.9,443.3 124.1,443.3 125.3,443.3 126.5,443.3 127.7,443.3 128.9,443.3 130.1,443.3 131.2,443.3 132.4,443.3 133.6,443.3 134.8,443.3 136.0,443.3 137.2,443.3 138.4,443.3 139.6,443.3 140.8,443.3 142.0,443.3 143.1,443.3 144.3,443.3 145.5,443.3 146.7,443.3 147.1,442.6 147.1,441.0 147.1,439.5 147.2,438.7 147.3,438.0 147.4,437.2 147.5,436.4 147.5,435.7 147.6,434.9 147.6,433.4 147.6,431.8 147.5,430.3 147.4,429.5 147.3,428.8 147.2,428.0 147.0,427.2 146.7,426.5 146.5,425.7 146.2,424.9 145.9,424.1 145.7,423.4 145.5,422.6 145.3,421.8 145.1,421.1 145.0,420.3 144.8,419.5 144.7,418.8 144.5,418.0 144.4,417.2 144.3,416.5 144.1,415.7 144.0,414.9 143.9,414.2 143.7,413.4 143.6,412.6 143.4,411.9 143.3,411.1 143.1,410.4 143.0,409.6 142.8,408.8 142.7,408.0 142.5,407.3 142.3,406.5 142.1,405.7 141.9,405.0 141.7,404.2 141.5,403.4 141.2,402.7 141.0,401.9 140.7,401.1 140.3,400.4 140.0,399.6 139.7,398.8 139.3,398.1 139.0,397.5 138.4,396.5 138.0,395.8 137.5,395.0 137.2,394.4 136.6,393.5 136.1,392.7 135.5,391.9 135.0,391.1 134.5,390.4 133.9,389.6 133.4,388.8 133.0,388.3 132.4,387.5 131.8,386.6 131.3,385.8 130.9,385.0 130.4,384.2 130.1,383.5 129.6,382.7 129.2,381.9 128.9,381.3 128.3,380.4 127.9,379.6 127.5,378.9 127.1,378.2 126.5,377.3 126.1,376.6 125.6,375.8 125.3,375.3 124.7,374.3 124.2,373.5 123.7,372.7 123.3,372.0 122.9,371.4 122.4,370.4 121.9,369.7 121.5,368.9 121.1,368.3 120.6,367.4 120.2,366.6 119.8,365.8 119.4,365.1 119.0,364.3 118.8,363.6 118.4,362.8 118.2,362.1 117.8,361.2 117.6,360.4 117.3,359.7 117.1,358.9 117.0,358.3 116.7,357.4 116.6,356.6 116.4,355.8 116.2,355.1 116.1,354.3 115.9,353.5 115.8,352.8 115.6,352.0 115.4,351.2 115.3,350.5 115.1,349.7 114.8,348.9 114.6,348.2 114.4,347.4 114.1,346.6 113.7,345.9 113.4,345.1 113.0,344.3 112.5,343.6 111.9,342.8 111.3,342.0 110.5,341.3 109.8,340.7 109.2,340.2 108.7,339.7 108.0,339.3 107.6,339.0 106.8,338.5 106.4,338.2 105.7,337.8 105.1,337.4 104.5,337.1 103.9,336.8 103.3,336.5 102.7,336.2 102.1,335.9 101.5,335.6 100.9,335.3 100.3,335.1 99.7,334.8 99.1,334.6 98.5,334.3 97.9,334.1 97.3,333.8 96.7,333.6 96.1,333.3 95.5,333.1 95.0,332.9 94.4,332.7 93.8,332.5 93.2,332.2 92.6,332.0 92.0,331.8 90.8,331.4 89.6,331.0 88.4,330.7 87.2,330.3 86.0,329.9 85.4,329.7 84.2,329.4 83.0,329.1 81.9,328.7 80.7,328.4 79.8,328.2 78.9,328.0 77.7,327.7 76.7,327.4 75.9,327.2 74.7,327.0 73.5,326.7 72.3,326.5 71.2,326.3 70.0,326.1 68.9,325.9Z" fill="#0043ff"/>
<path d="M72.3,334.3 71.2,334.1 70.0,334.0 68.8,333.9 67.6,333.8 66.4,333.7 65.2,333.7 64.0,333.7 62.8,333.7 61.6,333.8 60.4,333.9 59.2,334.2 58.1,334.6 57.5,334.8 56.9,335.0 56.3,335.3 55.7,335.6 55.1,335.9 54.5,336.2 53.9,336.6 53.3,337.0 52.8,337.4 52.1,338.0 51.5,338.5 51.1,339.0 50.3,339.7 49.7,340.5 49.1,341.3 48.7,342.0 48.2,342.8 47.9,343.4 47.5,344.3 47.2,345.1 46.9,345.9 46.7,346.6 46.4,347.4 46.2,348.2 46.0,348.9 45.8,349.7 45.6,350.5 45.4,351.2 45.2,352.0 45.0,352.8 44.8,353.5 44.7,354.3 44.5,355.1 44.3,355.8 44.1,356.6 43.9,357.4 43.7,358.1 43.5,358.9 43.3,359.7 43.1,360.4 42.8,361.2 42.6,362.0 42.4,362.8 42.1,363.5 41.8,364.3 41.6,365.1 41.3,365.8 41.0,366.6 40.7,367.4 40.4,368.1 40.0,368.9 39.7,369.7 39.4,370.4 39.1,371.2 38.7,372.0 38.4,372.7 38.1,373.5 37.8,374.1 37.4,375.0 37.1,375.8 36.8,376.6 36.4,377.3 36.1,378.1 35.8,378.9 35.5,379.6 35.1,380.4 34.9,381.1 34.5,381.9 34.3,382.5 33.9,383.5 33.6,384.2 33.2,385.0 32.9,385.8 32.5,386.5 32.2,387.3 31.9,387.9 31.4,388.8 31.1,389.6 30.7,390.4 30.3,391.1 29.9,391.9 29.6,392.7 29.2,393.4 28.9,394.1 28.5,395.0 28.1,395.8 27.8,396.5 27.4,397.3 27.1,398.0 27.1,398.8 27.1,400.4 27.1,401.9 27.1,403.4 27.1,405.0 27.1,406.5 27.1,408.0 27.1,409.6 27.1,411.1 27.1,412.6 27.1,414.2 27.1,415.7 27.1,417.2 27.1,418.8 27.1,420.3 27.1,421.8 27.1,423.4 27.1,424.9 27.1,426.5 27.1,428.0 27.1,429.5 27.1,431.1 27.1,432.6 27.1,434.1 27.1,435.7 27.1,437.2 27.1,438.7 27.1,440.3 27.1,441.8 27.1,443.3 28.3,443.3 29.5,443.3 30.7,443.3 31.9,443.3 33.1,443.3 34.3,443.3 35.5,443.3 36.6,443.3 37.8,443.3 39.0,443.3 40.2,443.3 41.4,443.3 42.6,443.3 43.8,443.3 45.0,443.3 46.2,443.3 47.4,443.3 48.5,443.3 49.7,443.3 50.9,443.3 52.1,443.3 53.3,443.3 54.5,443.3 55.7,443.3 56.9,443.3 58.1,443.3 59.2,443.3 60.4,443.3 61.6,443.3 62.8,443.3 64.0,443.3 65.2,443.3 66.4,443.3 67.6,443.3 68.8,443.3 70.0,443.3 71.2,443.3 72.3,443.3 73.5,443.3 74.7,443.3 75.9,443.3 77.1,443.3 78.3,443.3 79.5,443.3 80.7,443.3 81.9,443.3 83.0,443.3 84.2,443.3 85.4,443.3 86.6,443.3 87.8,443.3 89.0,443.3 90.2,443.3 91.4,443.3 92.6,443.3 93.8,443.3 95.0,443.3 96.1,443.3 97.3,443.3 98.5,443.3 99.7,443.3 100.9,443.3 102.1,443.3 103.3,443.3 104.5,443.3 105.7,443.3 106.8,443.3 108.0,443.3 109.2,443.3 110.4,443.3 111.6,443.3 112.8,443.3 114.0,443.3 115.2,443.3 116.4,443.3 117.6,443.3 118.8,443.3 119.9,443.3 121.1,443.3 122.3,443.3 123.5,443.3 124.7,443.3 125.9,443.3 127.1,443.3 128.3,443.3 129.5,443.3 130.7,443.3 131.8,443.3 133.0,443.3 134.2,443.3 135.4,443.3 136.6,443.3 137.8,443.3 138.5,442.6 138.5,441.0 138.5,439.5 138.7,438.7 138.8,438.0 138.9,437.2 139.0,436.4 139.1,435.7 139.1,434.9 139.2,434.1 139.2,432.6 139.2,431.1 139.2,429.5 139.1,428.8 139.0,428.0 138.8,427.2 138.6,426.5 138.4,425.8 138.1,424.9 137.8,424.1 137.6,423.4 137.4,422.6 137.2,421.8 137.1,421.1 136.9,420.3 136.8,419.5 136.6,418.8 136.5,418.0 136.3,417.2 136.2,416.5 136.0,415.7 135.9,414.9 135.8,414.2 135.6,413.4 135.5,412.6 135.3,411.9 135.1,411.1 135.0,410.3 134.8,409.6 134.6,408.8 134.5,408.0 134.3,407.3 134.1,406.5 133.8,405.7 133.6,405.0 133.4,404.2 133.1,403.4 132.8,402.7 132.5,401.9 132.2,401.1 131.9,400.4 131.5,399.6 131.1,398.8 130.7,398.1 130.2,397.3 129.8,396.5 129.5,396.0 128.9,395.1 128.3,394.2 127.7,393.4 127.2,392.7 126.6,391.9 126.0,391.1 125.4,390.4 124.8,389.6 124.2,388.8 123.6,388.1 123.0,387.3 122.4,386.5 121.9,385.8 121.3,385.0 120.8,384.2 120.3,383.5 119.9,382.8 119.4,381.9 118.9,381.2 118.4,380.4 117.8,379.6 117.3,378.9 117.0,378.4 116.4,377.5 115.8,376.7 115.2,375.9 114.6,375.1 114.0,374.3 113.4,373.5 112.8,372.7 112.3,372.0 111.7,371.2 111.1,370.4 110.6,369.7 110.0,368.9 109.5,368.1 108.9,367.4 108.4,366.6 108.0,366.1 107.4,365.2 106.9,364.3 106.4,363.5 106.0,362.8 105.7,362.1 105.2,361.2 104.9,360.4 104.5,359.7 104.2,358.9 103.9,358.1 103.6,357.4 103.3,356.6 103.0,355.8 102.8,355.1 102.5,354.3 102.2,353.5 102.0,352.8 101.7,352.0 101.4,351.2 101.1,350.5 100.8,349.7 100.5,348.9 100.1,348.2 99.7,347.4 99.3,346.6 98.8,345.9 98.2,345.1 97.6,344.3 97.0,343.6 96.2,342.8 95.5,342.3 95.0,341.8 94.4,341.4 93.8,341.0 93.2,340.7 92.6,340.3 92.0,340.0 91.4,339.7 90.8,339.4 90.2,339.1 89.6,338.8 89.0,338.6 88.4,338.3 87.8,338.1 87.2,337.9 86.6,337.7 86.0,337.5 84.8,337.1 83.6,336.7 82.5,336.3 81.3,336.0 80.1,335.7 78.9,335.4 77.7,335.2 76.5,334.9 75.3,334.7 74.1,334.5 72.9,334.4Z" fill="#005aff"/>
<path d="M70.0,340.5 68.8,340.3 67.6,340.2 66.4,340.1 65.2,340.0 64.0,340.0 62.8,340.0 61.6,340.1 60.4,340.3 59.8,340.5 58.7,340.9 58.1,341.2 57.5,341.5 56.9,341.9 56.3,342.4 55.8,342.8 55.1,343.5 54.5,344.2 53.9,345.1 53.4,345.9 53.0,346.6 52.7,347.2 52.3,348.2 51.9,348.9 51.6,349.7 51.3,350.5 51.1,351.2 50.8,352.0 50.5,352.8 50.3,353.4 50.0,354.3 49.8,355.1 49.5,355.8 49.3,356.6 49.0,357.4 48.8,358.1 48.5,358.8 48.2,359.7 47.9,360.4 47.7,361.2 47.4,362.0 47.0,362.8 46.8,363.4 46.4,364.3 46.0,365.1 45.7,365.8 45.3,366.6 45.0,367.3 44.6,368.1 44.2,368.9 43.8,369.7 43.4,370.4 43.0,371.2 42.7,372.0 42.3,372.7 42.0,373.3 41.5,374.3 41.1,375.0 40.8,375.7 40.4,376.6 40.0,377.3 39.6,378.1 39.3,378.9 38.9,379.6 38.6,380.4 38.2,381.2 37.9,381.9 37.5,382.7 37.2,383.3 36.8,384.2 36.5,385.0 36.1,385.8 35.7,386.5 35.3,387.3 34.9,388.1 34.5,388.8 34.3,389.4 33.7,390.4 33.3,391.1 32.9,391.9 32.5,392.7 32.2,393.4 31.9,394.0 31.4,395.0 31.0,395.8 30.7,396.5 30.3,397.3 30.0,398.1 29.7,398.8 29.3,399.6 29.0,400.4 28.7,401.1 28.4,401.9 28.1,402.7 27.9,403.4 27.6,404.2 27.3,405.0 27.1,405.6 27.1,406.5 27.1,408.0 27.1,409.6 27.1,411.1 27.1,412.6 27.1,414.2 27.1,415.7 27.1,417.2 27.1,418.8 27.1,420.3 27.1,421.8 27.1,423.4 27.1,424.9 27.1,426.5 27.1,428.0 27.1,429.5 27.1,431.1 27.1,432.6 27.1,434.1 27.1,435.7 27.1,437.2 27.1,438.7 27.1,440.3 27.1,441.8 27.1,443.3 28.3,443.3 29.5,443.3 30.7,443.3 31.9,443.3 33.1,443.3 34.3,443.3 35.5,443.3 36.6,443.3 37.8,443.3 39.0,443.3 40.2,443.3 41.4,443.3 42.6,443.3 43.8,443.3 45.0,443.3 46.2,443.3 47.4,443.3 48.5,443.3 49.7,443.3 50.9,443.3 52.1,443.3 53.3,443.3 54.5,443.3 55.7,443.3 56.9,443.3 58.1,443.3 59.2,443.3 60.4,443.3 61.6,443.3 62.8,443.3 64.0,443.3 65.2,443.3 66.4,443.3 67.6,443.3 68.8,443.3 70.0,443.3 71.2,443.3 72.3,443.3 73.5,443.3 74.7,443.3 75.9,443.3 77.1,443.3 78.3,443.3 79.5,443.3 80.7,443.3 81.9,443.3 83.0,443.3 84.2,443.3 85.4,443.3 86.6,443.3 87.8,443.3 89.0,443.3 90.2,443.3 91.4,443.3 92.6,443.3 93.8,443.3 95.0,443.3 96.1,443.3 97.3,443.3 98.5,443.3 99.7,443.3 100.9,443.3 102.1,443.3 103.3,443.3 104.5,443.3 105.7,443.3 106.8,443.3 108.0,443.3 109.2,443.3 110.4,443.3 111.6,443.3 112.8,443.3 114.0,443.3 115.2,443.3 116.4,443.3 117.6,443.3 118.8,443.3 119.9,443.3 121.1,443.3 122.3,443.3 123.5,443.3 124.7,443.3 125.9,443.3 127.1,443.3 128.3,443.3 129.5,443.3 130.7,443.3 131.8,443.3 132.2,442.6 132.2,441.0 132.2,439.5 132.4,438.7 132.5,438.0 132.7,437.2 132.8,436.4 132.8,435.7 132.9,434.9 133.0,434.1 133.0,433.4 133.0,431.8 133.0,430.3 132.9,428.8 132.8,428.0 132.6,427.2 132.4,426.5 132.2,425.7 131.9,424.9 131.7,424.1 131.4,423.4 131.2,422.7 131.0,421.8 130.9,421.1 130.7,420.3 130.6,419.5 130.4,418.8 130.3,418.0 130.1,417.2 130.0,416.5 129.8,415.7 129.6,414.9 129.5,414.2 129.3,413.4 129.2,412.6 129.0,411.9 128.8,411.1 128.6,410.3 128.4,409.6 128.2,408.8 128.0,408.0 127.8,407.3 127.6,406.5 127.3,405.7 127.1,405.0 126.8,404.2 126.5,403.4 126.2,402.7 125.9,401.9 125.5,401.1 125.2,400.4 124.7,399.6 124.3,398.8 123.8,398.1 123.5,397.5 122.9,396.6 122.3,395.8 121.8,395.0 121.2,394.2 120.6,393.4 120.0,392.7 119.3,391.9 118.8,391.2 118.2,390.5 117.6,389.8 117.0,389.2 116.4,388.5 115.8,387.8 115.4,387.3 114.7,386.5 114.1,385.8 113.4,385.0 112.9,384.2 112.3,383.5 111.7,382.7 111.2,381.9 110.6,381.2 110.0,380.4 109.4,379.6 108.8,378.9 108.1,378.1 107.5,377.3 106.8,376.6 106.3,375.9 105.7,375.2 105.1,374.5 104.5,373.9 103.9,373.2 103.4,372.7 102.7,372.0 102.1,371.3 101.5,370.6 100.9,370.0 100.3,369.3 99.9,368.9 99.2,368.1 98.5,367.4 97.9,366.7 97.3,366.0 96.7,365.3 96.1,364.6 95.5,363.8 95.0,363.1 94.4,362.3 93.8,361.4 93.2,360.6 92.6,359.7 92.1,358.9 91.6,358.1 91.2,357.4 90.8,356.7 90.3,355.8 89.9,355.1 89.4,354.3 89.0,353.5 88.6,352.8 88.1,352.0 87.6,351.2 87.2,350.6 86.6,349.7 86.0,348.9 85.4,348.2 84.8,347.5 84.2,346.9 83.6,346.3 83.1,345.9 82.5,345.3 81.9,344.9 81.3,344.4 80.7,344.0 80.1,343.7 79.5,343.4 78.9,343.1 78.3,342.8 77.7,342.5 77.1,342.3 76.5,342.1 75.3,341.7 74.1,341.3 72.9,341.0 71.7,340.8 70.6,340.6Z" fill="#0070ff"/>
<path d="M67.0,351.9 65.8,351.6 64.6,351.4 63.4,351.3 62.2,351.4 61.0,351.8 60.4,352.2 59.8,352.6 59.2,353.1 58.8,353.5 58.1,354.3 57.5,355.1 56.9,355.8 56.4,356.6 55.9,357.4 55.4,358.1 54.9,358.9 54.5,359.5 53.9,360.4 53.4,361.2 53.0,362.0 52.5,362.8 52.1,363.3 51.5,364.2 51.0,365.1 50.5,365.8 50.0,366.6 49.5,367.4 49.1,367.9 48.5,368.8 48.0,369.7 47.5,370.4 47.0,371.2 46.6,372.0 46.2,372.6 45.6,373.5 45.2,374.3 44.7,375.0 44.4,375.6 43.8,376.6 43.4,377.3 43.0,378.1 42.6,378.8 42.1,379.6 41.7,380.4 41.4,381.1 40.9,381.9 40.6,382.7 40.2,383.4 39.8,384.2 39.4,385.0 39.0,385.7 38.6,386.5 38.2,387.3 37.8,387.9 37.3,388.8 36.9,389.6 36.4,390.4 36.0,391.1 35.6,391.9 35.2,392.7 34.9,393.3 34.3,394.2 34.0,395.0 33.7,395.6 33.2,396.5 32.8,397.3 32.5,398.0 32.1,398.8 31.8,399.6 31.5,400.4 31.1,401.1 30.8,401.9 30.5,402.7 30.3,403.4 30.0,404.2 29.7,405.0 29.4,405.7 29.2,406.5 28.9,407.3 28.7,408.0 28.4,408.8 28.2,409.6 27.9,410.3 27.7,411.0 27.5,411.9 27.2,412.6 27.1,413.4 27.1,414.9 27.1,416.5 27.1,418.0 27.1,419.5 27.1,421.1 27.1,422.6 27.1,424.1 27.1,425.7 27.1,427.2 27.1,428.8 27.1,430.3 27.1,431.8 27.1,433.4 27.1,434.9 27.1,436.4 27.1,438.0 27.1,439.5 27.1,441.0 27.1,442.6 27.7,443.3 28.9,443.3 30.1,443.3 31.3,443.3 32.5,443.3 33.7,443.3 34.9,443.3 36.0,443.3 37.2,443.3 38.4,443.3 39.6,443.3 40.8,443.3 42.0,443.3 43.2,443.3 44.4,443.3 45.6,443.3 46.8,443.3 47.9,443.3 49.1,443.3 50.3,443.3 51.5,443.3 52.7,443.3 53.9,443.3 55.1,443.3 56.3,443.3 57.5,443.3 58.7,443.3 59.8,443.3 61.0,443.3 62.2,443.3 63.4,443.3 64.6,443.3 65.8,443.3 67.0,443.3 68.2,443.3 69.4,443.3 70.6,443.3 71.7,443.3 72.9,443.3 74.1,443.3 75.3,443.3 76.5,443.3 77.7,443.3 78.9,443.3 80.1,443.3 81.3,443.3 82.5,443.3 83.6,443.3 84.8,443.3 86.0,443.3 87.2,443.3 88.4,443.3 89.6,443.3 90.8,443.3 92.0,443.3 93.2,443.3 94.4,443.3 95.5,443.3 96.7,443.3 97.9,443.3 99.1,443.3 100.3,443.3 101.5,443.3 102.7,443.3 103.9,443.3 105.1,443.3 106.3,443.3 107.4,443.3 108.6,443.3 109.8,443.3 111.0,443.3 112.2,443.3 113.4,443.3 114.6,443.3 115.8,443.3 117.0,443.3 118.2,443.3 119.3,443.3 120.5,443.3 121.7,443.3 122.9,443.3 124.1,443.3 125.3,443.3 126.5,443.3 127.3,443.3 127.3,441.8 127.3,440.3 127.5,438.7 127.6,438.0 127.7,437.2 127.8,436.4 127.9,435.7 128.0,434.9 128.0,434.1 128.1,433.4 128.1,431.8 128.1,430.3 128.0,428.8 127.8,428.0 127.7,427.3 127.5,426.5 127.2,425.7 127.0,424.9 126.7,424.1 126.5,423.5 126.2,422.6 126.0,421.8 125.9,421.2 125.7,420.3 125.5,419.5 125.4,418.8 125.2,418.0 125.0,417.2 124.9,416.5 124.7,415.8 124.5,414.9 124.3,414.2 124.1,413.4 123.9,412.6 123.8,411.9 123.6,411.1 123.3,410.3 123.1,409.6 122.9,408.8 122.7,408.0 122.4,407.3 122.2,406.5 121.9,405.7 121.6,405.0 121.3,404.2 121.0,403.4 120.7,402.7 120.3,401.9 119.9,401.2 119.5,400.4 119.0,399.6 118.6,398.8 118.2,398.2 117.6,397.3 117.0,396.5 116.4,395.8 115.8,395.0 115.2,394.3 114.6,393.6 114.0,392.9 113.4,392.2 112.8,391.6 112.4,391.1 111.7,390.4 111.0,389.7 110.4,389.1 109.8,388.5 109.2,387.9 108.7,387.3 108.0,386.6 107.4,386.0 106.8,385.4 106.3,384.7 105.9,384.2 105.2,383.5 104.6,382.7 103.9,381.9 103.3,381.2 102.7,380.6 102.1,379.9 101.5,379.3 101.1,378.9 100.3,378.1 99.7,377.5 99.1,376.9 98.5,376.3 98.0,375.8 97.3,375.2 96.7,374.6 96.1,374.1 95.5,373.6 95.0,373.0 94.4,372.5 93.8,372.0 93.2,371.5 92.6,370.9 92.0,370.4 91.4,369.9 90.8,369.4 90.2,368.9 89.6,368.4 89.0,368.0 88.4,367.5 87.8,367.0 87.3,366.6 86.6,366.0 86.0,365.5 85.5,365.1 84.8,364.5 84.2,364.0 83.6,363.6 83.0,363.0 82.5,362.5 81.9,362.0 81.3,361.5 80.7,361.0 80.1,360.5 79.5,360.0 78.9,359.5 78.3,358.9 77.7,358.4 77.1,357.9 76.5,357.4 75.9,356.9 75.3,356.5 74.7,356.0 74.1,355.6 73.5,355.1 72.9,354.7 72.3,354.3 71.7,354.0 71.2,353.6 70.6,353.3 70.0,353.0 69.4,352.7 68.8,352.5 68.2,352.2 67.4,352.0Z" fill="#0087ff"/>
<path d="M65.8,364.3 64.6,364.2 63.4,364.1 62.2,364.1 61.2,364.3 60.4,364.5 59.8,364.7 59.2,364.9 58.7,365.2 58.1,365.6 57.5,365.9 56.9,366.3 56.3,366.8 55.7,367.2 55.1,367.7 54.6,368.1 53.9,368.8 53.3,369.4 52.7,370.0 52.3,370.4 51.6,371.2 51.0,372.0 50.3,372.7 49.7,373.4 49.1,374.2 48.5,375.0 48.0,375.8 47.4,376.6 46.9,377.3 46.4,378.1 45.9,378.9 45.4,379.6 45.0,380.3 44.4,381.2 44.0,381.9 43.5,382.7 43.2,383.3 42.7,384.2 42.2,385.0 41.8,385.8 41.4,386.4 40.8,387.3 40.4,388.1 39.9,388.8 39.4,389.6 39.0,390.2 38.5,391.1 38.0,391.9 37.6,392.7 37.2,393.2 36.7,394.2 36.3,395.0 35.8,395.8 35.5,396.5 35.1,397.3 34.7,398.1 34.3,398.8 34.0,399.6 33.7,400.3 33.3,401.1 33.0,401.9 32.7,402.7 32.4,403.4 32.1,404.2 31.8,405.0 31.5,405.7 31.3,406.4 31.0,407.3 30.7,408.0 30.5,408.8 30.2,409.6 30.0,410.3 29.7,411.1 29.5,411.8 29.2,412.6 29.0,413.4 28.8,414.2 28.5,414.9 28.3,415.6 28.0,416.5 27.8,417.2 27.6,418.0 27.3,418.8 27.1,419.5 27.1,420.3 27.1,421.8 27.1,423.4 27.1,424.9 27.1,426.5 27.1,428.0 27.1,429.5 27.1,431.1 27.1,432.6 27.1,434.1 27.1,435.7 27.1,437.2 27.1,438.7 27.1,440.3 27.1,441.8 27.1,443.3 28.3,443.3 29.5,443.3 30.7,443.3 31.9,443.3 33.1,443.3 34.3,443.3 35.5,443.3 36.6,443.3 37.8,443.3 39.0,443.3 40.2,443.3 41.4,443.3 42.6,443.3 43.8,443.3 45.0,443.3 46.2,443.3 47.4,443.3 48.5,443.3 49.7,443.3 50.9,443.3 52.1,443.3 53.3,443.3 54.5,443.3 55.7,443.3 56.9,443.3 58.1,443.3 59.2,443.3 60.4,443.3 61.6,443.3 62.8,443.3 64.0,443.3 65.2,443.3 66.4,443.3 67.6,443.3 68.8,443.3 70.0,443.3 71.2,443.3 72.3,443.3 73.5,443.3 74.7,443.3 75.9,443.3 77.1,443.3 78.3,443.3 79.5,443.3 80.7,443.3 81.9,443.3 83.0,443.3 84.2,443.3 85.4,443.3 86.6,443.3 87.8,443.3 89.0,443.3 90.2,443.3 91.4,443.3 92.6,443.3 93.8,443.3 95.0,443.3 96.1,443.3 97.3,443.3 98.5,443.3 99.7,443.3 100.9,443.3 102.1,443.3 103.3,443.3 104.5,443.3 105.7,443.3 106.8,443.3 108.0,443.3 109.2,443.3 110.4,443.3 111.6,443.3 112.8,443.3 114.0,443.3 115.2,443.3 116.4,443.3 117.6,443.3 118.8,443.3 119.9,443.3 121.1,443.3 122.3,443.3 123.2,443.3 123.2,441.8 123.2,440.3 123.4,438.7 123.5,438.0 123.6,437.2 123.7,436.4 123.8,435.7 123.9,434.9 123.9,434.1 124.0,433.4 124.0,431.8 124.0,430.3 123.9,429.5 123.8,428.8 123.7,428.0 123.5,427.3 123.3,426.5 123.0,425.7 122.8,424.9 122.5,424.1 122.2,423.4 122.0,422.6 121.8,421.8 121.6,421.1 121.4,420.3 121.2,419.5 121.1,418.8 120.9,418.0 120.7,417.2 120.5,416.5 120.3,415.7 120.1,414.9 119.9,414.2 119.7,413.4 119.5,412.6 119.3,411.9 119.0,411.1 118.8,410.3 118.6,409.6 118.3,408.8 118.1,408.0 117.8,407.3 117.6,406.6 117.2,405.7 117.0,405.1 116.6,404.2 116.2,403.4 115.8,402.7 115.4,401.9 115.0,401.1 114.6,400.4 114.1,399.6 113.5,398.8 113.0,398.1 112.4,397.3 111.8,396.5 111.2,395.8 110.5,395.0 109.8,394.2 109.2,393.6 108.6,393.0 108.0,392.4 107.6,391.9 106.8,391.2 106.3,390.6 105.7,390.1 105.2,389.6 104.5,389.0 103.9,388.4 103.3,387.9 102.7,387.3 102.1,386.8 101.5,386.2 101.0,385.8 100.3,385.1 99.7,384.5 99.1,383.9 98.7,383.5 97.9,382.7 97.3,382.1 96.7,381.6 96.3,381.2 95.5,380.5 95.0,379.9 94.4,379.4 93.8,378.9 93.2,378.4 92.6,377.9 92.0,377.4 91.4,376.9 90.8,376.4 90.2,376.0 89.6,375.5 89.0,375.1 88.4,374.7 87.8,374.3 87.2,373.8 86.7,373.5 86.0,373.0 85.4,372.6 84.8,372.2 84.2,371.9 83.6,371.5 83.0,371.1 82.5,370.8 81.9,370.4 81.3,370.1 80.7,369.7 80.1,369.4 79.5,369.1 78.9,368.8 78.3,368.5 77.7,368.2 77.1,367.9 76.5,367.6 75.9,367.4 75.3,367.1 74.7,366.8 74.2,366.6 73.5,366.3 72.9,366.1 72.3,365.9 71.7,365.7 70.6,365.3 69.7,365.1 68.8,364.8 67.6,364.6 66.4,364.4Z" fill="#009dff"/>
<path d="M68.8,371.2 67.6,370.9 66.4,370.8 65.2,370.7 64.0,370.6 62.8,370.6 61.6,370.6 60.4,370.8 59.2,371.2 58.7,371.4 58.1,371.6 57.5,371.9 56.9,372.2 56.3,372.6 55.7,373.0 55.1,373.4 54.5,373.8 54.0,374.3 53.3,374.8 52.7,375.4 52.3,375.8 51.5,376.5 50.9,377.2 50.3,377.8 49.7,378.5 49.1,379.2 48.5,380.0 47.9,380.8 47.4,381.6 46.8,382.4 46.2,383.3 45.6,384.2 45.0,385.0 44.5,385.8 44.0,386.5 43.4,387.3 42.9,388.1 42.4,388.8 42.0,389.4 41.4,390.3 40.8,391.1 40.3,391.9 39.8,392.7 39.3,393.4 39.0,394.0 38.4,395.0 38.0,395.8 37.6,396.5 37.2,397.1 36.7,398.1 36.3,398.8 36.0,399.4 35.6,400.4 35.3,401.1 34.9,401.9 34.6,402.7 34.3,403.4 34.0,404.2 33.7,405.0 33.4,405.7 33.1,406.5 32.9,407.3 32.6,408.0 32.3,408.8 32.1,409.6 31.8,410.3 31.6,411.1 31.3,411.9 31.1,412.6 30.8,413.4 30.6,414.2 30.3,414.9 30.1,415.6 29.8,416.5 29.6,417.2 29.3,418.0 29.1,418.8 28.9,419.4 28.6,420.3 28.4,421.1 28.1,421.8 27.9,422.6 27.6,423.4 27.3,424.1 27.1,424.9 27.1,426.5 27.1,428.0 27.1,429.5 27.1,431.1 27.1,432.6 27.1,434.1 27.1,435.7 27.1,437.2 27.1,438.7 27.1,440.3 27.1,441.8 27.1,443.3 28.3,443.3 29.5,443.3 30.7,443.3 31.9,443.3 33.1,443.3 34.3,443.3 35.5,443.3 36.6,443.3 37.8,443.3 39.0,443.3 40.2,443.3 41.4,443.3 42.6,443.3 43.8,443.3 45.0,443.3 46.2,443.3 47.4,443.3 48.5,443.3 49.7,443.3 50.9,443.3 52.1,443.3 53.3,443.3 54.5,443.3 55.7,443.3 56.9,443.3 58.1,443.3 59.2,443.3 60.4,443.3 61.6,443.3 62.8,443.3 64.0,443.3 65.2,443.3 66.4,443.3 67.6,443.3 68.8,443.3 70.0,443.3 71.2,443.3 72.3,443.3 73.5,443.3 74.7,443.3 75.9,443.3 77.1,443.3 78.3,443.3 79.5,443.3 80.7,443.3 81.9,443.3 83.0,443.3 84.2,443.3 85.4,443.3 86.6,443.3 87.8,443.3 89.0,443.3 90.2,443.3 91.4,443.3 92.6,443.3 93.8,443.3 95.0,443.3 96.1,443.3 97.3,443.3 98.5,443.3 99.7,443.3 100.9,443.3 102.1,443.3 103.3,443.3 104.5,443.3 105.7,443.3 106.8,443.3 108.0,443.3 109.2,443.3 110.4,443.3 111.6,443.3 112.8,443.3 114.0,443.3 115.2,443.3 116.4,443.3 117.6,443.3 118.8,443.3 119.7,443.3 119.7,441.8 119.7,440.3 119.9,438.7 120.0,438.0 120.1,437.2 120.2,436.4 120.3,435.7 120.4,434.9 120.4,434.1 120.4,432.6 120.4,431.1 120.3,429.5 120.2,428.8 120.1,428.0 119.9,427.2 119.7,426.5 119.4,425.7 119.1,424.9 118.8,424.1 118.6,423.4 118.3,422.6 118.1,421.8 117.9,421.1 117.7,420.3 117.5,419.5 117.3,418.8 117.1,418.0 116.9,417.2 116.7,416.5 116.4,415.7 116.2,414.9 116.0,414.2 115.8,413.4 115.5,412.6 115.3,411.9 115.0,411.1 114.8,410.3 114.6,409.7 114.3,408.8 114.0,408.1 113.7,407.3 113.4,406.6 113.0,405.7 112.7,405.0 112.3,404.2 111.9,403.4 111.6,402.8 111.1,401.9 110.6,401.1 110.1,400.4 109.6,399.6 109.2,399.1 108.6,398.3 108.0,397.6 107.4,396.9 106.8,396.2 106.4,395.8 105.7,395.0 105.1,394.4 104.5,393.8 103.9,393.2 103.3,392.7 102.7,392.1 102.1,391.6 101.6,391.1 100.9,390.6 100.3,390.1 99.8,389.6 99.1,389.1 98.5,388.6 97.9,388.1 97.3,387.6 96.7,387.1 96.1,386.7 95.5,386.2 95.0,385.8 94.4,385.2 93.8,384.7 93.2,384.2 92.6,383.7 92.0,383.2 91.4,382.7 90.8,382.2 90.2,381.7 89.6,381.3 89.0,380.8 88.5,380.4 87.8,379.9 87.2,379.5 86.6,379.1 86.0,378.7 85.4,378.3 84.8,377.9 84.2,377.6 83.6,377.2 83.0,376.8 82.5,376.5 81.9,376.2 81.3,375.8 80.7,375.5 80.1,375.2 79.5,374.9 78.9,374.6 78.3,374.3 77.7,374.1 77.1,373.8 76.5,373.6 75.9,373.3 75.3,373.1 74.7,372.9 74.1,372.6 73.5,372.4 72.3,372.1 71.2,371.7 70.0,371.4 68.9,371.2Z" fill="#00b4ff"/>
<path d="M67.6,375.8 66.4,375.6 65.2,375.5 64.0,375.4 62.8,375.4 61.6,375.4 60.4,375.6 59.7,375.8 58.7,376.1 58.1,376.3 57.5,376.6 56.9,376.9 56.3,377.2 55.7,377.6 55.1,378.0 54.5,378.4 53.9,378.9 53.3,379.3 52.7,379.9 52.1,380.4 51.5,381.0 50.9,381.6 50.3,382.2 49.9,382.7 49.3,383.5 48.7,384.2 48.0,385.0 47.4,385.8 46.8,386.5 46.2,387.3 45.6,388.0 45.0,388.7 44.4,389.5 43.8,390.3 43.2,391.1 42.6,391.9 42.0,392.7 41.5,393.4 41.0,394.2 40.5,395.0 40.0,395.8 39.6,396.4 39.1,397.3 38.7,398.1 38.3,398.8 37.9,399.6 37.5,400.4 37.1,401.1 36.8,401.9 36.4,402.7 36.1,403.4 35.8,404.2 35.5,405.0 35.2,405.7 34.9,406.5 34.6,407.3 34.3,408.0 34.0,408.8 33.8,409.6 33.5,410.3 33.2,411.1 33.0,411.9 32.7,412.6 32.5,413.4 32.2,414.2 32.0,414.9 31.7,415.7 31.5,416.5 31.2,417.2 31.0,418.0 30.7,418.8 30.5,419.5 30.2,420.3 30.0,421.1 29.7,421.8 29.4,422.6 29.2,423.4 28.9,424.1 28.6,424.9 28.3,425.6 28.0,426.5 27.7,427.2 27.5,428.0 27.2,428.8 27.1,429.5 27.1,431.1 27.1,432.6 27.1,434.1 27.1,435.7 27.1,437.2 27.1,438.7 27.1,440.3 27.1,441.8 27.1,443.3 28.3,443.3 29.5,443.3 30.7,443.3 31.9,443.3 33.1,443.3 34.3,443.3 35.5,443.3 36.6,443.3 37.8,443.3 39.0,443.3 40.2,443.3 41.4,443.3 42.6,443.3 43.8,443.3 45.0,443.3 46.2,443.3 47.4,443.3 48.5,443.3 49.7,443.3 50.9,443.3 52.1,443.3 53.3,443.3 54.5,443.3 55.7,443.3 56.9,443.3 58.1,443.3 59.2,443.3 60.4,443.3 61.6,443.3 62.8,443.3 64.0,443.3 65.2,443.3 66.4,443.3 67.6,443.3 68.8,443.3 70.0,443.3 71.2,443.3 72.3,443.3 73.5,443.3 74.7,443.3 75.9,443.3 77.1,443.3 78.3,443.3 79.5,443.3 80.7,443.3 81.9,443.3 83.0,443.3 84.2,443.3 85.4,443.3 86.6,443.3 87.8,443.3 89.0,443.3 90.2,443.3 91.4,443.3 92.6,443.3 93.8,443.3 95.0,443.3 96.1,443.3 97.3,443.3 98.5,443.3 99.7,443.3 100.9,443.3 102.1,443.3 103.3,443.3 104.5,443.3 105.7,443.3 106.8,443.3 108.0,443.3 109.2,443.3 110.4,443.3 111.6,443.3 112.8,443.3 114.0,443.3 115.2,443.3 116.4,443.3 116.7,442.6 116.7,441.0 116.7,439.5 116.8,438.7 117.0,438.0 117.1,437.2 117.2,436.4 117.2,435.7 117.3,434.9 117.3,434.1 117.3,432.6 117.3,431.1 117.2,430.3 117.2,429.5 117.1,428.8 116.9,428.0 116.7,427.2 116.5,426.5 116.2,425.7 115.9,424.9 115.6,424.1 115.3,423.4 115.0,422.6 114.8,421.8 114.6,421.2 114.3,420.3 114.1,419.5 113.9,418.8 113.7,418.0 113.4,417.2 113.2,416.5 113.0,415.7 112.7,414.9 112.5,414.2 112.2,413.4 112.0,412.6 111.7,411.9 111.4,411.1 111.2,410.3 110.9,409.6 110.6,408.8 110.2,408.0 109.9,407.3 109.6,406.5 109.2,405.8 108.8,405.0 108.4,404.2 108.0,403.5 107.6,402.7 107.1,401.9 106.6,401.1 106.0,400.4 105.7,399.9 105.1,399.1 104.5,398.4 103.9,397.7 103.5,397.3 102.8,396.5 102.1,395.9 101.5,395.3 100.9,394.7 100.3,394.2 99.7,393.7 99.1,393.1 98.6,392.7 97.9,392.2 97.3,391.7 96.7,391.2 96.1,390.8 95.6,390.4 95.0,389.9 94.4,389.4 93.8,389.0 93.2,388.6 92.6,388.2 92.0,387.7 91.4,387.3 90.8,386.9 90.2,386.5 89.6,386.1 89.1,385.8 88.4,385.3 87.8,384.9 87.2,384.5 86.6,384.0 86.0,383.6 85.4,383.2 84.8,382.8 84.2,382.4 83.6,382.1 83.0,381.7 82.5,381.3 81.9,381.0 81.3,380.7 80.7,380.3 80.1,380.0 79.5,379.7 78.9,379.4 78.3,379.1 77.7,378.9 77.1,378.6 76.5,378.4 75.9,378.1 75.3,377.9 74.7,377.7 74.1,377.4 72.9,377.0 71.7,376.7 70.6,376.4 69.4,376.1 68.2,375.9Z" fill="#00caff"/>
<path d="M65.2,379.6 64.0,379.5 62.8,379.5 61.6,379.5 60.9,379.6 59.8,379.8 58.7,380.2 58.1,380.4 57.5,380.7 56.9,380.9 56.3,381.3 55.7,381.6 55.2,381.9 54.5,382.4 53.9,382.9 53.3,383.3 52.7,383.8 52.3,384.2 51.5,384.9 50.9,385.5 50.3,386.0 49.8,386.5 49.1,387.2 48.5,387.8 47.9,388.4 47.5,388.8 46.8,389.6 46.2,390.4 45.6,391.1 45.0,391.8 44.4,392.5 43.8,393.3 43.2,394.1 42.6,394.9 42.0,395.8 41.5,396.5 41.0,397.3 40.6,398.1 40.2,398.7 39.7,399.6 39.3,400.4 38.9,401.1 38.5,401.9 38.2,402.7 37.8,403.4 37.5,404.2 37.2,404.8 36.8,405.7 36.5,406.5 36.2,407.3 35.9,408.0 35.7,408.8 35.4,409.6 35.1,410.3 34.9,411.0 34.5,411.9 34.3,412.6 34.0,413.4 33.7,414.2 33.5,414.9 33.2,415.7 33.0,416.5 32.7,417.2 32.5,417.9 32.2,418.8 31.9,419.5 31.7,420.3 31.4,421.1 31.2,421.8 30.9,422.6 30.6,423.4 30.3,424.1 30.0,424.9 29.7,425.7 29.4,426.5 29.1,427.2 28.9,427.9 28.6,428.8 28.4,429.5 28.2,430.3 28.0,431.1 27.9,431.8 27.7,432.6 27.5,433.4 27.4,434.1 27.2,434.9 27.1,435.6 27.1,436.4 27.1,438.0 27.1,439.5 27.1,441.0 27.1,442.6 27.7,443.3 28.9,443.3 30.1,443.3 31.3,443.3 32.5,443.3 33.7,443.3 34.9,443.3 36.0,443.3 37.2,443.3 38.4,443.3 39.6,443.3 40.8,443.3 42.0,443.3 43.2,443.3 44.4,443.3 45.6,443.3 46.8,443.3 47.9,443.3 49.1,443.3 50.3,443.3 51.5,443.3 52.7,443.3 53.9,443.3 55.1,443.3 56.3,443.3 57.5,443.3 58.7,443.3 59.8,443.3 61.0,443.3 62.2,443.3 63.4,443.3 64.6,443.3 65.8,443.3 67.0,443.3 68.2,443.3 69.4,443.3 70.6,443.3 71.7,443.3 72.9,443.3 74.1,443.3 75.3,443.3 76.5,443.3 77.7,443.3 78.9,443.3 80.1,443.3 81.3,443.3 82.5,443.3 83.6,443.3 84.8,443.3 86.0,443.3 87.2,443.3 88.4,443.3 89.6,443.3 90.8,443.3 92.0,443.3 93.2,443.3 94.4,443.3 95.5,443.3 96.7,443.3 97.9,443.3 99.1,443.3 100.3,443.3 101.5,443.3 102.7,443.3 103.9,443.3 105.1,443.3 106.3,443.3 107.4,443.3 108.6,443.3 109.8,443.3 111.0,443.3 112.2,443.3 113.4,443.3 114.0,442.6 114.0,441.0 114.0,439.5 114.1,438.7 114.2,438.0 114.3,437.2 114.4,436.4 114.5,435.7 114.5,434.9 114.5,433.4 114.5,431.8 114.5,431.1 114.4,430.3 114.3,429.5 114.2,428.8 114.0,428.0 113.8,427.2 113.6,426.5 113.3,425.7 113.0,424.9 112.6,424.1 112.3,423.4 112.0,422.6 111.8,421.8 111.5,421.1 111.3,420.3 111.1,419.5 110.8,418.8 110.6,418.0 110.3,417.2 110.1,416.5 109.8,415.7 109.6,414.9 109.3,414.2 109.0,413.4 108.7,412.6 108.4,411.9 108.1,411.1 107.8,410.3 107.5,409.6 107.2,408.8 106.8,408.1 106.5,407.3 106.1,406.5 105.7,405.7 105.3,405.0 104.8,404.2 104.5,403.6 103.9,402.7 103.4,401.9 102.8,401.1 102.2,400.4 101.6,399.6 100.9,398.8 100.3,398.2 99.7,397.6 99.1,397.0 98.6,396.5 97.9,395.9 97.3,395.4 96.9,395.0 96.1,394.4 95.5,393.9 95.0,393.4 94.4,393.0 93.8,392.5 93.2,392.1 92.6,391.7 92.0,391.3 91.4,390.9 90.8,390.5 90.2,390.1 89.6,389.7 89.0,389.3 88.4,389.0 87.8,388.6 87.2,388.2 86.6,387.9 86.0,387.5 85.4,387.2 84.8,386.9 84.3,386.5 83.6,386.2 83.0,385.9 82.5,385.6 81.9,385.2 81.3,384.9 80.7,384.6 80.1,384.3 79.5,384.0 78.9,383.7 78.3,383.4 77.7,383.1 77.1,382.8 76.5,382.6 75.9,382.3 75.3,382.1 74.7,381.8 74.1,381.6 73.5,381.4 72.8,381.2 71.7,380.8 70.6,380.5 69.4,380.2 68.2,380.0 67.0,379.8 65.8,379.7Z" fill="#00e1ff"/>
<path d="M66.4,383.5 65.2,383.3 64.0,383.2 62.8,383.2 61.6,383.2 60.4,383.4 59.2,383.7 58.1,384.1 57.5,384.3 56.9,384.6 56.3,384.9 55.7,385.2 55.1,385.5 54.5,385.9 53.9,386.3 53.3,386.7 52.7,387.1 52.1,387.5 51.5,388.0 50.9,388.5 50.5,388.8 49.7,389.5 49.1,390.0 48.5,390.6 48.0,391.1 47.4,391.8 46.8,392.4 46.2,393.1 45.6,393.8 45.0,394.5 44.4,395.3 43.8,396.1 43.2,396.9 42.6,397.8 42.0,398.8 41.5,399.6 41.0,400.4 40.6,401.1 40.2,401.9 39.8,402.7 39.5,403.4 39.1,404.2 38.8,405.0 38.4,405.7 38.1,406.5 37.8,407.2 37.5,408.0 37.2,408.7 36.9,409.6 36.6,410.2 36.3,411.1 36.0,411.8 35.7,412.6 35.5,413.4 35.2,414.2 34.9,414.9 34.7,415.7 34.4,416.5 34.1,417.2 33.9,418.0 33.6,418.8 33.3,419.5 33.1,420.3 32.8,421.1 32.5,421.8 32.2,422.6 32.0,423.4 31.6,424.1 31.3,424.9 31.0,425.7 30.7,426.5 30.4,427.2 30.2,428.0 29.9,428.8 29.7,429.5 29.5,430.3 29.3,431.1 29.2,431.8 29.0,432.6 28.8,433.4 28.7,434.1 28.5,434.9 28.4,435.7 28.2,436.4 28.1,437.2 28.0,438.0 27.9,438.7 27.8,439.5 27.8,441.0 27.8,442.6 28.3,443.3 29.5,443.3 30.7,443.3 31.9,443.3 33.1,443.3 34.3,443.3 35.5,443.3 36.6,443.3 37.8,443.3 39.0,443.3 40.2,443.3 41.4,443.3 42.6,443.3 43.8,443.3 45.0,443.3 46.2,443.3 47.4,443.3 48.5,443.3 49.7,443.3 50.9,443.3 52.1,443.3 53.3,443.3 54.5,443.3 55.7,443.3 56.9,443.3 58.1,443.3 59.2,443.3 60.4,443.3 61.6,443.3 62.8,443.3 64.0,443.3 65.2,443.3 66.4,443.3 67.6,443.3 68.8,443.3 70.0,443.3 71.2,443.3 72.3,443.3 73.5,443.3 74.7,443.3 75.9,443.3 77.1,443.3 78.3,443.3 79.5,443.3 80.7,443.3 81.9,443.3 83.0,443.3 84.2,443.3 85.4,443.3 86.6,443.3 87.8,443.3 89.0,443.3 90.2,443.3 91.4,443.3 92.6,443.3 93.8,443.3 95.0,443.3 96.1,443.3 97.3,443.3 98.5,443.3 99.7,443.3 100.9,443.3 102.1,443.3 103.3,443.3 104.5,443.3 105.7,443.3 106.8,443.3 108.0,443.3 109.2,443.3 110.4,443.3 111.5,443.3 111.5,441.8 111.5,440.3 111.6,439.1 111.8,438.0 111.9,437.2 111.9,436.4 112.0,435.7 112.0,434.1 112.0,432.6 111.9,431.8 111.9,431.1 111.8,430.3 111.8,429.5 111.6,428.8 111.4,428.0 111.2,427.2 110.9,426.5 110.6,425.7 110.3,424.9 109.9,424.1 109.6,423.4 109.3,422.6 109.0,421.8 108.8,421.1 108.5,420.3 108.2,419.5 108.0,418.9 107.7,418.0 107.4,417.3 107.2,416.5 106.9,415.7 106.6,414.9 106.3,414.2 106.0,413.4 105.7,412.6 105.4,411.9 105.1,411.2 104.7,410.3 104.4,409.6 104.0,408.8 103.6,408.0 103.3,407.4 102.8,406.5 102.4,405.7 101.9,405.0 101.5,404.3 100.9,403.4 100.4,402.7 99.8,401.9 99.2,401.1 98.6,400.4 97.9,399.6 97.3,399.0 96.7,398.4 96.1,397.9 95.5,397.3 95.0,396.8 94.4,396.3 93.8,395.8 93.2,395.3 92.7,395.0 92.0,394.4 91.4,394.0 90.8,393.6 90.2,393.2 89.6,392.8 89.0,392.4 88.4,392.0 87.8,391.7 87.2,391.3 86.6,391.0 86.0,390.6 85.4,390.3 84.8,390.0 84.2,389.7 83.6,389.4 83.0,389.1 82.5,388.8 81.9,388.5 81.3,388.2 80.7,387.9 80.1,387.7 79.5,387.4 78.9,387.1 78.3,386.9 77.7,386.6 77.1,386.4 76.5,386.2 75.9,386.0 75.3,385.7 74.7,385.5 73.5,385.1 72.3,384.8 71.2,384.4 70.4,384.2 69.4,384.0 68.2,383.7 67.0,383.5Z" fill="#00f4ff"/>
<path d="M65.8,386.5 64.6,386.4 63.4,386.4 62.2,386.3 61.0,386.4 60.2,386.5 59.2,386.7 58.1,387.1 57.3,387.3 56.3,387.7 55.7,388.0 55.1,388.3 54.5,388.6 53.9,389.0 53.3,389.3 52.7,389.7 52.1,390.1 51.5,390.6 50.9,391.0 50.3,391.5 49.9,391.9 49.1,392.6 48.5,393.1 47.9,393.7 47.5,394.2 46.8,395.0 46.2,395.7 45.6,396.4 45.0,397.2 44.4,398.0 43.8,398.8 43.3,399.6 42.8,400.4 42.3,401.1 42.0,401.7 41.5,402.7 41.1,403.4 40.8,404.0 40.4,405.0 40.0,405.7 39.7,406.5 39.3,407.3 39.0,408.0 38.7,408.8 38.4,409.4 38.1,410.3 37.8,410.9 37.5,411.9 37.2,412.5 36.9,413.4 36.6,414.0 36.3,414.9 36.0,415.7 35.7,416.5 35.5,417.2 35.2,418.0 34.9,418.8 34.6,419.5 34.4,420.3 34.1,421.1 33.8,421.8 33.5,422.6 33.2,423.4 32.9,424.1 32.6,424.9 32.3,425.7 32.0,426.5 31.7,427.2 31.4,428.0 31.2,428.8 30.9,429.5 30.7,430.3 30.5,431.1 30.4,431.8 30.2,432.6 30.0,433.4 29.9,434.1 29.7,434.9 29.6,435.7 29.4,436.4 29.3,437.2 29.2,438.0 29.1,438.7 29.0,439.5 29.0,441.0 29.0,442.6 29.5,443.3 30.7,443.3 31.9,443.3 33.1,443.3 34.3,443.3 35.5,443.3 36.6,443.3 37.8,443.3 39.0,443.3 40.2,443.3 41.4,443.3 42.6,443.3 43.8,443.3 45.0,443.3 46.2,443.3 47.4,443.3 48.5,443.3 49.7,443.3 50.9,443.3 52.1,443.3 53.3,443.3 54.5,443.3 55.7,443.3 56.9,443.3 58.1,443.3 59.2,443.3 60.4,443.3 61.6,443.3 62.8,443.3 64.0,443.3 65.2,443.3 66.4,443.3 67.6,443.3 68.8,443.3 70.0,443.3 71.2,443.3 72.3,443.3 73.5,443.3 74.7,443.3 75.9,443.3 77.1,443.3 78.3,443.3 79.5,443.3 80.7,443.3 81.9,443.3 83.0,443.3 84.2,443.3 85.4,443.3 86.6,443.3 87.8,443.3 89.0,443.3 90.2,443.3 91.4,443.3 92.6,443.3 93.8,443.3 95.0,443.3 96.1,443.3 97.3,443.3 98.5,443.3 99.7,443.3 100.9,443.3 102.1,443.3 103.3,443.3 104.5,443.3 105.7,443.3 106.8,443.3 108.0,443.3 109.2,443.3 109.3,442.6 109.3,441.0 109.3,439.5 109.4,438.7 109.5,438.0 109.6,437.2 109.6,436.4 109.7,435.7 109.7,434.1 109.6,432.6 109.6,431.8 109.5,431.1 109.5,430.3 109.4,429.5 109.2,428.8 109.0,428.0 108.8,427.2 108.5,426.5 108.1,425.7 107.8,424.9 107.4,424.2 107.1,423.4 106.8,422.6 106.5,421.8 106.2,421.1 105.9,420.3 105.7,419.7 105.3,418.8 105.1,418.1 104.7,417.2 104.5,416.5 104.1,415.7 103.9,415.1 103.5,414.2 103.2,413.4 102.8,412.6 102.5,411.9 102.1,411.1 101.8,410.3 101.4,409.6 101.0,408.8 100.6,408.0 100.1,407.3 99.7,406.5 99.2,405.7 98.7,405.0 98.2,404.2 97.6,403.4 97.1,402.7 96.4,401.9 95.8,401.1 95.0,400.4 94.4,399.7 93.8,399.1 93.2,398.6 92.6,398.1 92.0,397.5 91.4,397.1 90.8,396.6 90.2,396.2 89.6,395.8 89.0,395.3 88.5,395.0 87.8,394.5 87.3,394.2 86.6,393.8 86.0,393.4 85.4,393.1 84.8,392.8 84.2,392.4 83.6,392.1 83.0,391.8 82.5,391.5 81.9,391.2 81.3,391.0 80.7,390.7 80.1,390.4 79.5,390.2 78.9,389.9 78.3,389.7 77.7,389.4 77.1,389.2 76.5,389.0 75.9,388.8 74.7,388.4 73.7,388.1 72.9,387.9 71.7,387.5 70.7,387.3 70.0,387.1 68.8,386.9 67.6,386.7 66.4,386.6Z" fill="#00fff1"/>
<path d="M69.4,389.5 68.2,389.3 67.0,389.1 65.8,389.0 64.6,388.9 63.4,388.9 62.2,388.9 61.0,388.9 59.8,389.1 58.7,389.3 57.7,389.6 56.9,389.9 56.3,390.1 55.7,390.4 55.1,390.7 54.5,391.0 53.9,391.3 53.3,391.7 52.7,392.1 52.1,392.5 51.5,392.9 50.9,393.4 50.3,393.9 49.7,394.4 49.1,394.9 48.5,395.5 47.9,396.1 47.4,396.8 46.9,397.3 46.3,398.1 45.7,398.8 45.1,399.6 44.6,400.4 44.1,401.1 43.6,401.9 43.2,402.6 42.7,403.4 42.3,404.2 42.0,404.8 41.5,405.7 41.2,406.5 40.8,407.3 40.5,408.0 40.2,408.6 39.8,409.6 39.5,410.3 39.2,411.1 38.8,411.9 38.5,412.6 38.2,413.4 37.9,414.2 37.6,414.9 37.3,415.7 37.1,416.5 36.8,417.2 36.5,418.0 36.2,418.8 35.9,419.5 35.6,420.3 35.3,421.1 35.1,421.8 34.8,422.6 34.4,423.4 34.1,424.1 33.8,424.9 33.5,425.7 33.1,426.5 32.8,427.2 32.6,428.0 32.3,428.8 32.1,429.5 31.9,430.3 31.7,431.1 31.5,431.8 31.3,432.6 31.2,433.4 31.0,434.1 30.8,434.9 30.7,435.7 30.6,436.4 30.4,437.2 30.3,438.0 30.2,438.7 30.1,439.5 30.1,441.0 30.1,442.6 30.7,443.3 31.9,443.3 33.1,443.3 34.3,443.3 35.5,443.3 36.6,443.3 37.8,443.3 39.0,443.3 40.2,443.3 41.4,443.3 42.6,443.3 43.8,443.3 45.0,443.3 46.2,443.3 47.4,443.3 48.5,443.3 49.7,443.3 50.9,443.3 52.1,443.3 53.3,443.3 54.5,443.3 55.7,443.3 56.9,443.3 58.1,443.3 59.2,443.3 60.4,443.3 61.6,443.3 62.8,443.3 64.0,443.3 65.2,443.3 66.4,443.3 67.6,443.3 68.8,443.3 70.0,443.3 71.2,443.3 72.3,443.3 73.5,443.3 74.7,443.3 75.9,443.3 77.1,443.3 78.3,443.3 79.5,443.3 80.7,443.3 81.9,443.3 83.0,443.3 84.2,443.3 85.4,443.3 86.6,443.3 87.8,443.3 89.0,443.3 90.2,443.3 91.4,443.3 92.6,443.3 93.8,443.3 95.0,443.3 96.1,443.3 97.3,443.3 98.5,443.3 99.7,443.3 100.9,443.3 102.1,443.3 103.3,443.3 104.5,443.3 105.7,443.3 106.8,443.3 107.2,442.6 107.2,441.0 107.2,439.5 107.3,438.7 107.4,438.0 107.5,437.2 107.5,436.4 107.5,434.9 107.5,433.4 107.5,432.6 107.4,431.8 107.3,431.1 107.2,430.3 107.1,429.5 107.0,428.8 106.8,428.0 106.5,427.2 106.2,426.5 105.8,425.7 105.5,424.9 105.1,424.1 104.7,423.4 104.4,422.6 104.0,421.8 103.7,421.1 103.4,420.3 103.1,419.5 102.8,418.8 102.5,418.0 102.2,417.2 101.9,416.5 101.5,415.7 101.2,414.9 100.9,414.3 100.5,413.4 100.1,412.6 99.7,411.9 99.3,411.1 98.9,410.3 98.5,409.6 98.1,408.8 97.6,408.0 97.3,407.5 96.7,406.6 96.2,405.7 95.6,405.0 95.0,404.2 94.4,403.4 93.8,402.7 93.2,402.0 92.6,401.3 92.0,400.7 91.4,400.2 90.8,399.6 90.2,399.1 89.6,398.6 89.0,398.2 88.4,397.7 87.8,397.3 87.2,396.9 86.7,396.5 86.0,396.1 85.5,395.8 84.8,395.4 84.2,395.0 83.6,394.7 83.0,394.4 82.5,394.1 81.9,393.8 81.3,393.5 80.7,393.2 80.1,392.9 79.5,392.7 78.9,392.4 78.3,392.2 77.7,391.9 77.1,391.7 76.5,391.5 75.9,391.3 74.7,390.9 73.5,390.5 72.3,390.2 71.2,389.9 70.0,389.6Z" fill="#00ffd0"/>
<path d="M64.0,391.1 62.8,391.1 61.6,391.1 60.4,391.2 59.2,391.4 58.1,391.7 57.4,391.9 56.3,392.3 55.7,392.6 55.1,392.9 54.5,393.2 53.9,393.5 53.3,393.9 52.8,394.2 52.1,394.7 51.5,395.1 50.9,395.6 50.3,396.1 49.9,396.5 49.1,397.2 48.5,397.8 47.9,398.5 47.4,399.2 46.8,399.9 46.2,400.7 45.6,401.5 45.0,402.4 44.4,403.4 43.9,404.2 43.5,405.0 43.2,405.5 42.7,406.5 42.3,407.3 42.0,407.9 41.6,408.8 41.2,409.6 40.9,410.3 40.5,411.1 40.2,411.9 39.9,412.6 39.6,413.3 39.3,414.2 39.0,414.8 38.6,415.7 38.3,416.5 38.0,417.2 37.7,418.0 37.4,418.8 37.1,419.5 36.8,420.3 36.5,421.1 36.2,421.8 35.9,422.6 35.6,423.4 35.3,424.1 34.9,424.9 34.6,425.7 34.3,426.5 34.0,427.2 33.7,428.0 33.4,428.8 33.2,429.5 33.0,430.3 32.8,431.1 32.6,431.8 32.4,432.6 32.2,433.4 32.1,434.1 31.9,434.9 31.8,435.7 31.6,436.4 31.5,437.2 31.4,438.0 31.3,438.7 31.1,439.5 31.1,441.0 31.1,442.6 31.3,443.3 32.5,443.3 33.7,443.3 34.9,443.3 36.0,443.3 37.2,443.3 38.4,443.3 39.6,443.3 40.8,443.3 42.0,443.3 43.2,443.3 44.4,443.3 45.6,443.3 46.8,443.3 47.9,443.3 49.1,443.3 50.3,443.3 51.5,443.3 52.7,443.3 53.9,443.3 55.1,443.3 56.3,443.3 57.5,443.3 58.7,443.3 59.8,443.3 61.0,443.3 62.2,443.3 63.4,443.3 64.6,443.3 65.8,443.3 67.0,443.3 68.2,443.3 69.4,443.3 70.6,443.3 71.7,443.3 72.9,443.3 74.1,443.3 75.3,443.3 76.5,443.3 77.7,443.3 78.9,443.3 80.1,443.3 81.3,443.3 82.5,443.3 83.6,443.3 84.8,443.3 86.0,443.3 87.2,443.3 88.4,443.3 89.6,443.3 90.8,443.3 92.0,443.3 93.2,443.3 94.4,443.3 95.5,443.3 96.7,443.3 97.9,443.3 99.1,443.3 100.3,443.3 101.5,443.3 102.7,443.3 103.9,443.3 105.1,443.3 105.3,442.6 105.3,441.0 105.3,439.5 105.4,438.7 105.4,438.0 105.5,437.2 105.5,436.4 105.5,434.9 105.5,433.4 105.4,432.6 105.4,431.8 105.3,431.1 105.2,430.3 105.0,429.5 104.9,428.8 104.6,428.0 104.3,427.2 104.0,426.5 103.6,425.7 103.3,425.0 102.9,424.1 102.5,423.4 102.1,422.6 101.8,421.8 101.5,421.2 101.1,420.3 100.8,419.5 100.4,418.8 100.1,418.0 99.8,417.2 99.4,416.5 99.1,415.9 98.7,414.9 98.3,414.2 97.9,413.4 97.5,412.6 97.1,411.9 96.7,411.2 96.2,410.3 95.8,409.6 95.3,408.8 95.0,408.3 94.4,407.4 93.8,406.5 93.2,405.7 92.6,405.0 92.0,404.2 91.4,403.5 90.8,402.9 90.2,402.3 89.6,401.7 89.0,401.1 88.4,400.6 87.8,400.1 87.2,399.6 86.6,399.2 86.1,398.8 85.4,398.3 84.8,398.0 84.2,397.6 83.6,397.2 83.0,396.9 82.5,396.5 81.9,396.2 81.3,395.9 80.7,395.6 80.1,395.3 79.5,395.0 78.9,394.7 78.3,394.5 77.7,394.2 77.1,394.0 76.5,393.8 75.9,393.5 75.3,393.3 74.1,392.9 73.2,392.7 72.3,392.4 71.2,392.1 70.2,391.9 69.4,391.8 68.2,391.5 67.0,391.4 65.8,391.2 64.6,391.2Z" fill="#00ffaf"/>
<path d="M66.4,393.4 65.2,393.3 64.0,393.2 62.8,393.2 61.6,393.2 60.4,393.3 59.4,393.4 58.7,393.6 57.5,394.0 56.9,394.2 56.3,394.4 55.7,394.7 55.1,395.0 54.5,395.3 53.9,395.6 53.3,396.0 52.7,396.4 52.1,396.8 51.5,397.3 50.9,397.8 50.3,398.3 49.8,398.8 49.1,399.5 48.5,400.1 47.9,400.8 47.4,401.6 46.8,402.4 46.2,403.3 45.6,404.2 45.1,405.0 44.7,405.7 44.2,406.5 43.8,407.3 43.4,408.0 43.0,408.8 42.7,409.6 42.3,410.3 42.0,411.0 41.6,411.9 41.2,412.6 40.9,413.4 40.6,414.2 40.2,414.9 39.9,415.7 39.6,416.4 39.3,417.2 39.0,417.9 38.6,418.8 38.3,419.5 38.0,420.3 37.7,421.1 37.4,421.8 37.1,422.6 36.8,423.4 36.4,424.1 36.0,424.9 35.7,425.7 35.5,426.3 35.0,427.2 34.7,428.0 34.5,428.8 34.3,429.4 34.0,430.3 33.8,431.1 33.6,431.8 33.4,432.6 33.3,433.4 33.1,434.1 32.9,434.9 32.8,435.7 32.6,436.4 32.5,437.2 32.4,438.0 32.3,438.7 32.2,439.5 32.2,441.0 32.2,442.6 32.5,443.3 33.7,443.3 34.9,443.3 36.0,443.3 37.2,443.3 38.4,443.3 39.6,443.3 40.8,443.3 42.0,443.3 43.2,443.3 44.4,443.3 45.6,443.3 46.8,443.3 47.9,443.3 49.1,443.3 50.3,443.3 51.5,443.3 52.7,443.3 53.9,443.3 55.1,443.3 56.3,443.3 57.5,443.3 58.7,443.3 59.8,443.3 61.0,443.3 62.2,443.3 63.4,443.3 64.6,443.3 65.8,443.3 67.0,443.3 68.2,443.3 69.4,443.3 70.6,443.3 71.7,443.3 72.9,443.3 74.1,443.3 75.3,443.3 76.5,443.3 77.7,443.3 78.9,443.3 80.1,443.3 81.3,443.3 82.5,443.3 83.6,443.3 84.8,443.3 86.0,443.3 87.2,443.3 88.4,443.3 89.6,443.3 90.8,443.3 92.0,443.3 93.2,443.3 94.4,443.3 95.5,443.3 96.7,443.3 97.9,443.3 99.1,443.3 100.3,443.3 101.5,443.3 102.7,443.3 103.5,442.6 103.5,441.0 103.5,439.5 103.5,438.7 103.6,438.0 103.6,437.2 103.7,435.7 103.6,434.1 103.6,433.4 103.5,432.6 103.4,431.8 103.3,431.1 103.2,430.3 103.1,429.5 102.9,428.8 102.6,428.0 102.3,427.2 102.0,426.5 101.6,425.7 101.2,424.9 100.7,424.1 100.3,423.4 99.9,422.6 99.6,421.8 99.2,421.1 98.9,420.3 98.5,419.6 98.2,418.8 97.8,418.0 97.4,417.2 97.0,416.5 96.7,415.9 96.2,414.9 95.8,414.2 95.4,413.4 95.0,412.6 94.5,411.9 94.1,411.1 93.6,410.3 93.2,409.7 92.6,408.8 92.0,408.0 91.4,407.3 90.9,406.5 90.2,405.7 89.6,405.0 89.0,404.3 88.4,403.7 87.8,403.1 87.3,402.7 86.6,402.0 86.0,401.5 85.5,401.1 84.8,400.6 84.2,400.1 83.6,399.7 83.0,399.3 82.5,399.0 81.9,398.6 81.3,398.3 80.7,397.9 80.1,397.6 79.5,397.3 78.9,397.0 78.3,396.7 77.7,396.5 77.1,396.2 76.5,396.0 75.9,395.7 75.3,395.5 74.7,395.3 73.8,395.0 72.9,394.7 71.7,394.4 71.0,394.2 70.0,394.0 68.8,393.7 67.6,393.5 66.4,393.4Z" fill="#00ff8f"/>
<path d="M68.8,395.7 67.6,395.5 66.4,395.4 65.2,395.3 64.0,395.2 62.8,395.1 61.6,395.1 60.4,395.3 59.2,395.5 58.1,395.8 57.5,396.0 56.9,396.2 56.3,396.4 55.7,396.7 55.1,397.0 54.5,397.3 53.9,397.7 53.3,398.1 52.7,398.5 52.2,398.8 51.5,399.4 50.9,400.0 50.5,400.4 49.7,401.1 49.1,401.8 48.5,402.5 47.9,403.3 47.4,404.1 46.8,405.0 46.3,405.7 45.8,406.5 45.4,407.3 45.0,407.9 44.5,408.8 44.1,409.6 43.8,410.2 43.3,411.1 42.9,411.9 42.6,412.6 42.2,413.4 41.9,414.2 41.5,414.9 41.2,415.7 40.8,416.5 40.5,417.2 40.2,417.9 39.8,418.8 39.5,419.5 39.2,420.3 38.9,421.1 38.5,421.8 38.2,422.6 37.9,423.4 37.5,424.1 37.2,424.7 36.8,425.7 36.4,426.5 36.1,427.2 35.8,428.0 35.5,428.8 35.3,429.5 35.0,430.3 34.9,431.0 34.6,431.8 34.4,432.6 34.3,433.3 34.1,434.1 33.9,434.9 33.8,435.7 33.6,436.4 33.5,437.2 33.4,438.0 33.2,438.7 33.1,439.5 33.1,441.0 33.1,442.6 33.7,443.3 34.9,443.3 36.0,443.3 37.2,443.3 38.4,443.3 39.6,443.3 40.8,443.3 42.0,443.3 43.2,443.3 44.4,443.3 45.6,443.3 46.8,443.3 47.9,443.3 49.1,443.3 50.3,443.3 51.5,443.3 52.7,443.3 53.9,443.3 55.1,443.3 56.3,443.3 57.5,443.3 58.7,443.3 59.8,443.3 61.0,443.3 62.2,443.3 63.4,443.3 64.6,443.3 65.8,443.3 67.0,443.3 68.2,443.3 69.4,443.3 70.6,443.3 71.7,443.3 72.9,443.3 74.1,443.3 75.3,443.3 76.5,443.3 77.7,443.3 78.9,443.3 80.1,443.3 81.3,443.3 82.5,443.3 83.6,443.3 84.8,443.3 86.0,443.3 87.2,443.3 88.4,443.3 89.6,443.3 90.8,443.3 92.0,443.3 93.2,443.3 94.4,443.3 95.5,443.3 96.7,443.3 97.9,443.3 99.1,443.3 100.3,443.3 101.5,443.3 101.7,442.6 101.7,441.0 101.7,439.5 101.8,438.7 101.8,438.0 101.9,437.2 101.9,435.7 101.8,434.1 101.8,433.4 101.7,432.6 101.6,431.8 101.5,431.1 101.3,430.3 101.2,429.5 101.0,428.8 100.7,428.0 100.4,427.2 100.0,426.5 99.7,425.9 99.2,424.9 98.7,424.1 98.3,423.4 97.9,422.8 97.5,421.8 97.1,421.1 96.7,420.4 96.3,419.5 95.9,418.8 95.5,418.0 95.1,417.2 94.7,416.5 94.4,415.8 93.9,414.9 93.4,414.2 93.0,413.4 92.6,412.8 92.0,411.9 91.5,411.1 91.0,410.3 90.4,409.6 89.8,408.8 89.2,408.0 88.6,407.3 88.0,406.5 87.3,405.7 86.6,405.1 86.0,404.5 85.4,403.9 84.9,403.4 84.2,402.9 83.6,402.4 83.0,401.9 82.5,401.5 81.9,401.1 81.3,400.7 80.8,400.4 80.1,400.0 79.5,399.6 78.9,399.3 78.3,399.0 77.7,398.7 77.1,398.4 76.5,398.1 75.9,397.9 75.3,397.7 74.7,397.4 74.1,397.2 73.5,397.0 72.3,396.6 71.2,396.3 70.0,396.0 68.8,395.8Z" fill="#00ff72"/>
<path d="M65.8,397.3 64.6,397.1 63.4,397.1 62.2,397.1 61.0,397.1 59.8,397.3 58.7,397.5 57.5,397.9 56.9,398.1 56.3,398.4 55.7,398.7 55.1,399.0 54.5,399.3 53.9,399.7 53.3,400.1 52.7,400.6 52.1,401.1 51.5,401.6 50.9,402.2 50.5,402.7 49.8,403.4 49.1,404.2 48.5,405.0 48.0,405.7 47.5,406.5 47.0,407.3 46.5,408.0 46.2,408.6 45.6,409.6 45.1,410.3 44.7,411.1 44.4,411.8 43.9,412.6 43.5,413.4 43.2,414.1 42.8,414.9 42.4,415.7 42.1,416.5 41.7,417.2 41.4,417.9 41.0,418.8 40.7,419.5 40.3,420.3 40.0,421.1 39.7,421.8 39.3,422.6 39.0,423.2 38.6,424.1 38.2,424.9 37.8,425.7 37.5,426.5 37.1,427.2 36.8,428.0 36.5,428.8 36.2,429.5 36.0,430.2 35.8,431.1 35.6,431.8 35.4,432.6 35.2,433.4 35.0,434.1 34.9,434.9 34.7,435.7 34.6,436.4 34.4,437.2 34.3,438.0 34.2,438.7 34.1,439.5 34.1,441.0 34.1,442.6 34.3,443.3 35.5,443.3 36.6,443.3 37.8,443.3 39.0,443.3 40.2,443.3 41.4,443.3 42.6,443.3 43.8,443.3 45.0,443.3 46.2,443.3 47.4,443.3 48.5,443.3 49.7,443.3 50.9,443.3 52.1,443.3 53.3,443.3 54.5,443.3 55.7,443.3 56.9,443.3 58.1,443.3 59.2,443.3 60.4,443.3 61.6,443.3 62.8,443.3 64.0,443.3 65.2,443.3 66.4,443.3 67.6,443.3 68.8,443.3 70.0,443.3 71.2,443.3 72.3,443.3 73.5,443.3 74.7,443.3 75.9,443.3 77.1,443.3 78.3,443.3 79.5,443.3 80.7,443.3 81.9,443.3 83.0,443.3 84.2,443.3 85.4,443.3 86.6,443.3 87.8,443.3 89.0,443.3 90.2,443.3 91.4,443.3 92.6,443.3 93.8,443.3 95.0,443.3 96.1,443.3 97.3,443.3 98.5,443.3 99.7,443.3 100.1,442.6 100.1,441.0 100.1,439.5 100.1,438.7 100.2,438.0 100.2,436.4 100.1,434.9 100.1,434.1 100.0,433.4 99.9,432.6 99.8,431.8 99.7,431.1 99.5,430.3 99.4,429.5 99.1,428.8 98.8,428.0 98.5,427.3 98.1,426.5 97.7,425.7 97.3,425.1 96.8,424.1 96.3,423.4 95.8,422.6 95.5,422.1 95.0,421.1 94.6,420.3 94.2,419.5 93.8,418.8 93.3,418.0 92.9,417.2 92.6,416.7 92.0,415.7 91.5,414.9 91.0,414.2 90.5,413.4 90.2,412.9 89.6,412.0 89.0,411.2 88.4,410.4 87.8,409.6 87.2,408.9 86.6,408.2 86.0,407.6 85.4,406.9 85.0,406.5 84.2,405.7 83.6,405.2 83.0,404.7 82.5,404.2 81.9,403.7 81.3,403.2 80.7,402.8 80.1,402.4 79.5,402.0 78.9,401.6 78.3,401.3 77.7,401.0 77.1,400.6 76.5,400.4 75.9,400.1 75.3,399.8 74.7,399.6 74.1,399.3 73.5,399.1 72.9,398.9 71.7,398.5 70.6,398.1 69.4,397.9 68.2,397.6 67.0,397.4 66.1,397.3Z" fill="#00ff55"/>
<path d="M68.2,399.6 67.0,399.4 65.8,399.2 64.6,399.1 63.4,399.0 62.2,399.0 61.0,399.0 59.8,399.2 58.7,399.5 57.5,399.9 56.9,400.1 56.3,400.4 55.7,400.7 55.1,401.0 54.5,401.4 53.9,401.8 53.3,402.3 52.8,402.7 52.1,403.3 51.5,403.9 50.9,404.5 50.5,405.0 49.8,405.7 49.2,406.5 48.7,407.3 48.1,408.0 47.6,408.8 47.1,409.6 46.8,410.1 46.2,411.1 45.7,411.9 45.3,412.6 45.0,413.3 44.5,414.2 44.1,414.9 43.8,415.6 43.3,416.5 42.9,417.2 42.6,418.0 42.2,418.8 41.9,419.5 41.5,420.3 41.1,421.1 40.8,421.8 40.4,422.6 40.0,423.4 39.6,424.1 39.2,424.9 38.9,425.7 38.5,426.5 38.1,427.2 37.8,427.9 37.5,428.8 37.2,429.5 37.0,430.3 36.8,431.1 36.6,431.8 36.4,432.6 36.2,433.4 36.0,434.1 35.8,434.9 35.6,435.7 35.5,436.4 35.3,437.2 35.2,438.0 35.1,438.7 35.0,439.5 35.0,441.0 35.0,442.6 35.5,443.3 36.6,443.3 37.8,443.3 39.0,443.3 40.2,443.3 41.4,443.3 42.6,443.3 43.8,443.3 45.0,443.3 46.2,443.3 47.4,443.3 48.5,443.3 49.7,443.3 50.9,443.3 52.1,443.3 53.3,443.3 54.5,443.3 55.7,443.3 56.9,443.3 58.1,443.3 59.2,443.3 60.4,443.3 61.6,443.3 62.8,443.3 64.0,443.3 65.2,443.3 66.4,443.3 67.6,443.3 68.8,443.3 70.0,443.3 71.2,443.3 72.3,443.3 73.5,443.3 74.7,443.3 75.9,443.3 77.1,443.3 78.3,443.3 79.5,443.3 80.7,443.3 81.9,443.3 83.0,443.3 84.2,443.3 85.4,443.3 86.6,443.3 87.8,443.3 89.0,443.3 90.2,443.3 91.4,443.3 92.6,443.3 93.8,443.3 95.0,443.3 96.1,443.3 97.3,443.3 98.5,443.3 98.5,441.8 98.5,440.3 98.5,439.1 98.6,438.0 98.6,436.4 98.5,435.2 98.4,434.1 98.3,433.4 98.2,432.6 98.1,431.8 98.0,431.1 97.8,430.3 97.6,429.5 97.4,428.8 97.1,428.0 96.7,427.3 96.3,426.5 95.8,425.7 95.3,424.9 95.0,424.3 94.4,423.4 93.9,422.6 93.4,421.8 93.0,421.1 92.6,420.3 92.1,419.5 91.7,418.8 91.2,418.0 90.8,417.3 90.2,416.5 89.7,415.7 89.2,414.9 88.7,414.2 88.1,413.4 87.6,412.6 87.2,412.2 86.6,411.4 86.0,410.7 85.4,410.0 85.0,409.6 84.3,408.8 83.6,408.1 83.0,407.5 82.5,406.9 82.0,406.5 81.3,405.9 80.7,405.4 80.1,405.0 79.5,404.5 79.0,404.2 78.3,403.7 77.7,403.3 77.1,403.0 76.5,402.7 75.9,402.3 75.3,402.0 74.7,401.7 74.1,401.5 73.5,401.2 72.9,401.0 72.3,400.8 71.7,400.5 70.6,400.2 69.4,399.9 68.2,399.6Z" fill="#00ff38"/>
<path d="M65.2,401.1 64.0,401.0 62.8,400.9 61.6,400.9 60.4,401.1 59.2,401.3 58.1,401.6 57.5,401.9 56.9,402.1 56.3,402.4 55.7,402.8 55.1,403.1 54.5,403.5 53.9,404.0 53.3,404.4 52.7,405.0 52.1,405.5 51.5,406.1 50.9,406.8 50.5,407.3 49.9,408.0 49.3,408.8 48.7,409.6 48.2,410.3 47.7,411.1 47.4,411.7 46.8,412.6 46.3,413.4 45.9,414.2 45.6,414.7 45.0,415.7 44.6,416.5 44.2,417.2 43.8,418.0 43.4,418.8 43.0,419.5 42.6,420.3 42.3,421.1 42.0,421.7 41.5,422.6 41.1,423.4 40.8,424.0 40.3,424.9 39.9,425.7 39.5,426.5 39.1,427.2 38.8,428.0 38.5,428.8 38.2,429.5 37.9,430.3 37.7,431.1 37.5,431.8 37.3,432.6 37.1,433.4 36.9,434.1 36.7,434.9 36.6,435.7 36.4,436.4 36.2,437.2 36.1,438.0 36.0,438.7 35.9,439.5 35.9,441.0 35.9,442.6 36.0,443.3 37.2,443.3 38.4,443.3 39.6,443.3 40.8,443.3 42.0,443.3 43.2,443.3 44.4,443.3 45.6,443.3 46.8,443.3 47.9,443.3 49.1,443.3 50.3,443.3 51.5,443.3 52.7,443.3 53.9,443.3 55.1,443.3 56.3,443.3 57.5,443.3 58.7,443.3 59.8,443.3 61.0,443.3 62.2,443.3 63.4,443.3 64.6,443.3 65.8,443.3 67.0,443.3 68.2,443.3 69.4,443.3 70.6,443.3 71.7,443.3 72.9,443.3 74.1,443.3 75.3,443.3 76.5,443.3 77.7,443.3 78.9,443.3 80.1,443.3 81.3,443.3 82.5,443.3 83.6,443.3 84.8,443.3 86.0,443.3 87.2,443.3 88.4,443.3 89.6,443.3 90.8,443.3 92.0,443.3 93.2,443.3 94.4,443.3 95.5,443.3 96.7,443.3 97.0,442.6 97.0,441.0 97.0,439.5 97.0,438.7 97.0,437.2 97.0,435.7 96.9,434.9 96.8,434.1 96.7,433.4 96.6,432.6 96.5,431.8 96.3,431.1 96.1,430.3 95.9,429.5 95.7,428.8 95.3,428.0 95.0,427.2 94.5,426.5 94.0,425.7 93.5,424.9 93.2,424.4 92.6,423.5 92.0,422.7 91.5,421.8 91.0,421.1 90.5,420.3 90.2,419.8 89.6,418.8 89.1,418.0 88.5,417.2 88.0,416.5 87.5,415.7 86.9,414.9 86.3,414.2 85.7,413.4 85.1,412.6 84.4,411.9 83.7,411.1 83.0,410.4 82.5,409.8 81.9,409.2 81.4,408.8 80.7,408.1 80.1,407.6 79.5,407.1 78.9,406.7 78.3,406.2 77.7,405.8 77.1,405.4 76.5,405.0 75.9,404.7 75.3,404.3 74.7,404.0 74.1,403.7 73.5,403.4 72.9,403.2 72.3,402.9 71.7,402.7 71.2,402.5 70.0,402.1 68.8,401.7 67.6,401.5 66.4,401.3 65.5,401.1Z" fill="#00ff1b"/>
<path d="M67.0,403.4 65.8,403.2 64.6,403.1 63.4,403.0 62.2,402.9 61.0,403.0 59.8,403.2 58.9,403.4 58.1,403.7 57.5,403.9 56.9,404.2 56.3,404.5 55.7,404.9 55.1,405.3 54.5,405.7 53.9,406.2 53.3,406.7 52.7,407.2 52.1,407.8 51.5,408.4 50.9,409.1 50.5,409.6 49.9,410.3 49.3,411.1 48.8,411.9 48.3,412.6 47.9,413.1 47.4,414.1 46.8,414.9 46.4,415.7 45.9,416.5 45.6,417.1 45.0,418.0 44.6,418.8 44.2,419.5 43.8,420.3 43.4,421.1 43.0,421.8 42.6,422.6 42.2,423.4 41.8,424.1 41.4,424.8 40.9,425.7 40.5,426.5 40.2,427.0 39.7,428.0 39.4,428.8 39.1,429.5 38.9,430.3 38.6,431.1 38.4,431.8 38.2,432.6 38.0,433.4 37.8,434.0 37.6,434.9 37.4,435.7 37.3,436.4 37.1,437.2 37.0,438.0 36.9,438.7 36.8,439.5 36.8,441.0 36.8,442.6 37.2,443.3 38.4,443.3 39.6,443.3 40.8,443.3 42.0,443.3 43.2,443.3 44.4,443.3 45.6,443.3 46.8,443.3 47.9,443.3 49.1,443.3 50.3,443.3 51.5,443.3 52.7,443.3 53.9,443.3 55.1,443.3 56.3,443.3 57.5,443.3 58.7,443.3 59.8,443.3 61.0,443.3 62.2,443.3 63.4,443.3 64.6,443.3 65.8,443.3 67.0,443.3 68.2,443.3 69.4,443.3 70.6,443.3 71.7,443.3 72.9,443.3 74.1,443.3 75.3,443.3 76.5,443.3 77.7,443.3 78.9,443.3 80.1,443.3 81.3,443.3 82.5,443.3 83.6,443.3 84.8,443.3 86.0,443.3 87.2,443.3 88.4,443.3 89.6,443.3 90.8,443.3 92.0,443.3 93.2,443.3 94.4,443.3 95.5,443.3 95.5,441.8 95.5,440.3 95.5,438.7 95.5,437.2 95.5,435.7 95.4,434.9 95.3,434.1 95.2,433.4 95.0,432.6 94.9,431.8 94.7,431.1 94.5,430.3 94.3,429.5 94.0,428.8 93.7,428.0 93.2,427.2 92.8,426.5 92.3,425.7 91.7,424.9 91.2,424.1 90.8,423.6 90.2,422.8 89.6,422.0 89.0,421.1 88.5,420.3 88.0,419.5 87.5,418.8 86.9,418.0 86.4,417.2 85.8,416.5 85.2,415.7 84.6,414.9 83.9,414.2 83.2,413.4 82.5,412.6 81.9,411.9 81.3,411.4 80.7,410.8 80.2,410.3 79.5,409.7 78.9,409.2 78.3,408.8 77.7,408.3 77.1,407.9 76.5,407.5 75.9,407.1 75.3,406.7 74.7,406.4 74.1,406.0 73.6,405.7 72.9,405.4 72.3,405.2 71.7,404.9 71.2,404.7 70.6,404.4 70.0,404.2 68.8,403.9 67.6,403.5Z" fill="#02ff00"/>
<path d="M67.6,405.7 66.4,405.4 65.2,405.2 64.0,405.1 62.8,405.0 61.6,405.0 60.4,405.1 59.2,405.4 58.2,405.7 57.5,406.0 56.9,406.3 56.3,406.7 55.7,407.0 55.1,407.4 54.5,407.9 53.9,408.3 53.4,408.8 52.7,409.4 52.1,410.0 51.5,410.7 50.9,411.4 50.5,411.9 49.9,412.6 49.3,413.4 48.8,414.2 48.3,414.9 47.9,415.4 47.4,416.4 46.8,417.2 46.3,418.0 45.9,418.8 45.6,419.3 45.0,420.3 44.6,421.1 44.2,421.8 43.8,422.5 43.3,423.4 42.8,424.1 42.4,424.9 42.0,425.5 41.5,426.5 41.1,427.2 40.8,427.8 40.4,428.8 40.1,429.5 39.8,430.3 39.6,430.9 39.3,431.8 39.1,432.6 38.9,433.4 38.7,434.1 38.5,434.9 38.3,435.7 38.2,436.4 38.0,437.2 37.9,438.0 37.7,438.7 37.6,439.5 37.6,441.0 37.6,442.6 37.8,443.3 39.0,443.3 40.2,443.3 41.4,443.3 42.6,443.3 43.8,443.3 45.0,443.3 46.2,443.3 47.4,443.3 48.5,443.3 49.7,443.3 50.9,443.3 52.1,443.3 53.3,443.3 54.5,443.3 55.7,443.3 56.9,443.3 58.1,443.3 59.2,443.3 60.4,443.3 61.6,443.3 62.8,443.3 64.0,443.3 65.2,443.3 66.4,443.3 67.6,443.3 68.8,443.3 70.0,443.3 71.2,443.3 72.3,443.3 73.5,443.3 74.7,443.3 75.9,443.3 77.1,443.3 78.3,443.3 79.5,443.3 80.7,443.3 81.9,443.3 83.0,443.3 84.2,443.3 85.4,443.3 86.6,443.3 87.8,443.3 89.0,443.3 90.2,443.3 91.4,443.3 92.6,443.3 93.8,443.3 94.1,442.6 94.1,441.0 94.1,439.5 94.1,438.0 94.0,436.4 94.0,435.7 93.9,434.9 93.8,434.1 93.6,433.4 93.5,432.6 93.3,431.8 93.1,431.1 92.9,430.3 92.7,429.5 92.4,428.8 92.0,428.0 91.6,427.2 91.1,426.5 90.5,425.7 89.9,424.9 89.3,424.1 88.7,423.4 88.2,422.6 87.8,422.1 87.2,421.3 86.6,420.5 86.0,419.7 85.4,418.9 84.8,418.1 84.2,417.4 83.6,416.6 83.0,415.9 82.5,415.3 81.9,414.6 81.4,414.2 80.7,413.4 80.1,412.9 79.5,412.3 79.0,411.9 78.3,411.3 77.7,410.8 77.1,410.3 76.5,409.9 76.0,409.6 75.3,409.1 74.7,408.7 74.1,408.4 73.5,408.0 72.9,407.7 72.3,407.4 71.7,407.1 71.2,406.9 70.6,406.6 70.0,406.4 69.4,406.2 68.2,405.8Z" fill="#1bff00"/>
<path d="M64.6,407.2 63.4,407.1 62.2,407.1 61.0,407.1 60.2,407.3 59.2,407.5 58.1,407.9 57.5,408.2 56.9,408.4 56.3,408.8 55.7,409.2 55.1,409.6 54.5,410.0 53.9,410.5 53.3,411.0 52.7,411.6 52.1,412.2 51.5,412.9 51.1,413.4 50.4,414.2 49.8,414.9 49.3,415.7 48.7,416.5 48.2,417.2 47.7,418.0 47.4,418.5 46.8,419.5 46.2,420.3 45.8,421.1 45.3,421.8 45.0,422.5 44.4,423.4 43.9,424.1 43.4,424.9 42.9,425.7 42.6,426.3 42.1,427.2 41.7,428.0 41.4,428.6 41.0,429.5 40.7,430.3 40.5,431.1 40.2,431.8 40.0,432.6 39.8,433.4 39.6,434.0 39.4,434.9 39.2,435.7 39.0,436.4 38.9,437.2 38.7,438.0 38.6,438.7 38.5,439.5 38.5,441.0 38.5,442.6 39.0,443.3 40.2,443.3 41.4,443.3 42.6,443.3 43.8,443.3 45.0,443.3 46.2,443.3 47.4,443.3 48.5,443.3 49.7,443.3 50.9,443.3 52.1,443.3 53.3,443.3 54.5,443.3 55.7,443.3 56.9,443.3 58.1,443.3 59.2,443.3 60.4,443.3 61.6,443.3 62.8,443.3 64.0,443.3 65.2,443.3 66.4,443.3 67.6,443.3 68.8,443.3 70.0,443.3 71.2,443.3 72.3,443.3 73.5,443.3 74.7,443.3 75.9,443.3 77.1,443.3 78.3,443.3 79.5,443.3 80.7,443.3 81.9,443.3 83.0,443.3 84.2,443.3 85.4,443.3 86.6,443.3 87.8,443.3 89.0,443.3 90.2,443.3 91.4,443.3 92.6,443.3 92.7,442.6 92.7,441.0 92.7,439.5 92.7,438.0 92.7,437.2 92.6,436.4 92.5,435.7 92.4,434.9 92.3,434.1 92.1,433.4 92.0,432.6 91.8,431.8 91.6,431.1 91.4,430.4 91.1,429.5 90.8,428.8 90.4,428.0 89.9,427.2 89.4,426.5 89.0,425.9 88.4,425.2 87.8,424.5 87.2,423.8 86.6,423.0 86.0,422.3 85.7,421.8 85.1,421.1 84.5,420.3 83.9,419.5 83.2,418.8 82.6,418.0 81.9,417.2 81.3,416.6 80.7,416.0 80.1,415.4 79.6,414.9 78.9,414.3 78.3,413.7 77.7,413.2 77.1,412.8 76.5,412.3 75.9,411.9 75.3,411.4 74.8,411.1 74.1,410.7 73.6,410.3 72.9,410.0 72.3,409.7 71.7,409.4 71.2,409.1 70.6,408.8 70.0,408.6 69.4,408.4 68.4,408.0 67.6,407.8 66.4,407.5 65.2,407.3Z" fill="#35ff00"/>
<path d="M65.8,409.5 64.6,409.3 63.4,409.2 62.2,409.1 61.0,409.2 59.8,409.4 58.7,409.7 58.1,410.0 57.5,410.2 56.9,410.5 56.3,410.9 55.7,411.3 55.1,411.7 54.5,412.1 53.9,412.6 53.3,413.2 52.7,413.7 52.3,414.2 51.6,414.9 50.9,415.7 50.3,416.4 49.7,417.2 49.1,418.0 48.6,418.8 48.0,419.5 47.5,420.3 47.0,421.1 46.5,421.8 46.2,422.4 45.6,423.3 45.0,424.1 44.5,424.9 44.0,425.7 43.5,426.5 43.2,427.0 42.6,428.0 42.3,428.8 42.0,429.4 41.7,430.3 41.4,431.1 41.2,431.8 40.9,432.6 40.7,433.4 40.5,434.1 40.3,434.9 40.1,435.7 39.9,436.4 39.7,437.2 39.6,438.0 39.4,438.7 39.3,439.5 39.3,441.0 39.3,442.6 39.6,443.3 40.8,443.3 42.0,443.3 43.2,443.3 44.4,443.3 45.6,443.3 46.8,443.3 47.9,443.3 49.1,443.3 50.3,443.3 51.5,443.3 52.7,443.3 53.9,443.3 55.1,443.3 56.3,443.3 57.5,443.3 58.7,443.3 59.8,443.3 61.0,443.3 62.2,443.3 63.4,443.3 64.6,443.3 65.8,443.3 67.0,443.3 68.2,443.3 69.4,443.3 70.6,443.3 71.7,443.3 72.9,443.3 74.1,443.3 75.3,443.3 76.5,443.3 77.7,443.3 78.9,443.3 80.1,443.3 81.3,443.3 82.5,443.3 83.6,443.3 84.8,443.3 86.0,443.3 87.2,443.3 88.4,443.3 89.6,443.3 90.8,443.3 91.3,442.6 91.3,441.0 91.3,439.5 91.3,438.0 91.3,437.2 91.2,436.4 91.1,435.7 91.0,434.9 90.8,434.1 90.7,433.4 90.5,432.6 90.3,431.8 90.1,431.1 89.8,430.3 89.6,429.7 89.2,428.8 88.8,428.0 88.4,427.4 87.8,426.6 87.2,425.8 86.6,425.1 86.0,424.5 85.4,423.8 85.0,423.4 84.4,422.6 83.7,421.8 83.1,421.1 82.5,420.4 81.9,419.7 81.3,419.0 80.7,418.4 80.3,418.0 79.5,417.2 78.9,416.7 78.3,416.1 77.8,415.7 77.1,415.1 76.5,414.6 75.9,414.2 75.3,413.7 74.8,413.4 74.1,412.9 73.5,412.6 72.9,412.2 72.3,411.9 71.7,411.6 71.2,411.3 70.6,411.0 70.0,410.8 69.4,410.5 68.8,410.3 67.6,409.9 66.4,409.6Z" fill="#4fff00"/>
<path d="M67.0,411.8 65.8,411.6 64.6,411.4 63.4,411.2 62.2,411.2 61.0,411.2 59.8,411.4 58.7,411.8 58.1,412.0 57.5,412.3 56.9,412.6 56.3,412.9 55.7,413.3 55.1,413.7 54.5,414.2 53.9,414.7 53.3,415.2 52.8,415.7 52.1,416.4 51.5,417.0 50.9,417.7 50.3,418.4 49.7,419.2 49.1,420.0 48.5,420.8 47.9,421.6 47.4,422.5 46.8,423.3 46.2,424.1 45.6,424.9 45.0,425.7 44.5,426.5 44.1,427.2 43.6,428.0 43.2,428.8 42.9,429.5 42.6,430.3 42.3,431.1 42.1,431.8 41.8,432.6 41.6,433.4 41.4,434.0 41.1,434.9 40.9,435.7 40.8,436.4 40.6,437.2 40.4,438.0 40.3,438.7 40.2,439.5 40.2,441.0 40.2,442.6 40.2,443.3 41.4,443.3 42.6,443.3 43.8,443.3 45.0,443.3 46.2,443.3 47.4,443.3 48.5,443.3 49.7,443.3 50.9,443.3 52.1,443.3 53.3,443.3 54.5,443.3 55.7,443.3 56.9,443.3 58.1,443.3 59.2,443.3 60.4,443.3 61.6,443.3 62.8,443.3 64.0,443.3 65.2,443.3 66.4,443.3 67.6,443.3 68.8,443.3 70.0,443.3 71.2,443.3 72.3,443.3 73.5,443.3 74.7,443.3 75.9,443.3 77.1,443.3 78.3,443.3 79.5,443.3 80.7,443.3 81.9,443.3 83.0,443.3 84.2,443.3 85.4,443.3 86.6,443.3 87.8,443.3 89.0,443.3 90.0,443.3 90.0,441.8 90.0,440.3 90.0,438.7 89.9,437.2 89.8,436.4 89.7,435.7 89.6,434.9 89.4,434.1 89.2,433.4 89.0,432.6 88.8,431.8 88.6,431.1 88.3,430.3 88.0,429.5 87.6,428.8 87.2,428.1 86.6,427.2 86.0,426.5 85.4,425.8 84.8,425.1 84.2,424.5 83.6,423.9 83.2,423.4 82.5,422.7 81.9,422.0 81.3,421.4 80.7,420.7 80.3,420.3 79.5,419.5 78.9,419.0 78.3,418.4 77.8,418.0 77.1,417.4 76.5,416.9 76.0,416.5 75.3,416.0 74.7,415.5 74.1,415.1 73.5,414.8 72.9,414.4 72.3,414.1 71.7,413.7 71.2,413.4 70.6,413.1 70.0,412.9 69.4,412.6 68.8,412.4 68.2,412.2 67.1,411.9Z" fill="#68ff00"/>
<path d="M64.6,413.4 63.4,413.2 62.2,413.2 61.0,413.2 60.0,413.4 59.2,413.6 58.1,414.0 57.5,414.3 56.9,414.6 56.3,414.9 55.7,415.3 55.1,415.7 54.5,416.2 53.9,416.6 53.3,417.2 52.7,417.7 52.1,418.3 51.7,418.8 51.0,419.5 50.4,420.3 49.7,421.1 49.1,421.8 48.5,422.6 47.9,423.4 47.4,424.1 46.8,424.9 46.2,425.7 45.6,426.5 45.1,427.2 44.6,428.0 44.2,428.8 43.9,429.5 43.6,430.3 43.3,431.1 43.0,431.8 42.7,432.6 42.5,433.4 42.2,434.1 42.0,434.9 41.8,435.7 41.6,436.4 41.5,437.2 41.3,438.0 41.1,438.7 41.0,439.5 41.0,441.0 41.0,442.6 41.4,443.3 42.6,443.3 43.8,443.3 45.0,443.3 46.2,443.3 47.4,443.3 48.5,443.3 49.7,443.3 50.9,443.3 52.1,443.3 53.3,443.3 54.5,443.3 55.7,443.3 56.9,443.3 58.1,443.3 59.2,443.3 60.4,443.3 61.6,443.3 62.8,443.3 64.0,443.3 65.2,443.3 66.4,443.3 67.6,443.3 68.8,443.3 70.0,443.3 71.2,443.3 72.3,443.3 73.5,443.3 74.7,443.3 75.9,443.3 77.1,443.3 78.3,443.3 79.5,443.3 80.7,443.3 81.9,443.3 83.0,443.3 84.2,443.3 85.4,443.3 86.6,443.3 87.8,443.3 88.7,443.3 88.7,441.8 88.7,440.3 88.6,438.7 88.6,438.0 88.5,437.2 88.4,436.4 88.3,435.7 88.2,434.9 88.0,434.1 87.8,433.4 87.6,432.6 87.3,431.8 87.1,431.1 86.8,430.3 86.5,429.5 86.1,428.8 85.6,428.0 85.0,427.2 84.3,426.5 83.6,425.7 83.0,425.1 82.5,424.5 81.9,424.0 81.3,423.4 80.7,422.8 80.1,422.3 79.6,421.8 78.9,421.1 78.3,420.6 77.7,420.0 77.1,419.5 76.5,419.0 75.9,418.6 75.3,418.1 74.7,417.7 74.1,417.3 73.5,416.9 72.9,416.5 72.3,416.1 71.7,415.8 71.2,415.5 70.6,415.2 70.0,414.9 69.4,414.7 68.8,414.4 68.2,414.2 67.0,413.9 65.8,413.6 64.9,413.4Z" fill="#82ff00"/>
<path d="M66.4,415.7 65.2,415.4 64.0,415.2 62.8,415.1 61.6,415.1 60.4,415.2 59.2,415.5 58.6,415.7 57.5,416.2 56.9,416.5 56.3,416.8 55.7,417.2 55.1,417.6 54.5,418.0 53.9,418.5 53.3,419.0 52.8,419.5 52.1,420.2 51.5,420.8 50.9,421.5 50.3,422.1 49.9,422.6 49.2,423.4 48.6,424.1 47.9,424.9 47.4,425.6 46.8,426.4 46.2,427.2 45.7,428.0 45.2,428.8 44.8,429.5 44.5,430.3 44.2,431.1 43.9,431.8 43.7,432.6 43.4,433.4 43.2,434.0 42.9,434.9 42.7,435.7 42.5,436.4 42.3,437.2 42.2,438.0 42.0,438.7 41.9,439.5 41.9,441.0 41.9,442.6 42.0,443.3 43.2,443.3 44.4,443.3 45.6,443.3 46.8,443.3 47.9,443.3 49.1,443.3 50.3,443.3 51.5,443.3 52.7,443.3 53.9,443.3 55.1,443.3 56.3,443.3 57.5,443.3 58.7,443.3 59.8,443.3 61.0,443.3 62.2,443.3 63.4,443.3 64.6,443.3 65.8,443.3 67.0,443.3 68.2,443.3 69.4,443.3 70.6,443.3 71.7,443.3 72.9,443.3 74.1,443.3 75.3,443.3 76.5,443.3 77.7,443.3 78.9,443.3 80.1,443.3 81.3,443.3 82.5,443.3 83.6,443.3 84.8,443.3 86.0,443.3 87.2,443.3 87.4,442.6 87.4,441.0 87.4,439.5 87.3,438.0 87.2,437.2 87.1,436.4 86.9,435.7 86.8,434.9 86.6,434.2 86.4,433.4 86.1,432.6 85.9,431.8 85.6,431.1 85.3,430.3 84.9,429.5 84.5,428.8 83.9,428.0 83.3,427.2 82.6,426.5 81.9,425.7 81.3,425.1 80.7,424.6 80.1,424.1 79.5,423.6 78.9,423.1 78.3,422.6 77.7,422.1 77.1,421.6 76.5,421.1 75.9,420.6 75.3,420.1 74.7,419.7 74.1,419.3 73.5,418.9 72.9,418.5 72.3,418.1 71.7,417.8 71.2,417.5 70.6,417.2 70.0,416.9 69.4,416.6 68.8,416.4 68.2,416.2 67.0,415.8Z" fill="#9cff00"/>
<path d="M64.6,417.2 63.4,417.0 62.2,417.0 61.0,417.0 59.8,417.2 58.7,417.5 58.1,417.8 57.5,418.0 56.9,418.3 56.3,418.6 55.7,419.0 55.1,419.4 54.5,419.8 53.9,420.3 53.3,420.8 52.7,421.4 52.2,421.8 51.5,422.5 50.9,423.1 50.3,423.7 49.9,424.1 49.2,424.9 48.5,425.6 47.9,426.3 47.4,427.1 46.8,427.9 46.3,428.8 45.8,429.5 45.6,430.2 45.2,431.1 44.9,431.8 44.6,432.6 44.4,433.2 44.1,434.1 43.8,434.9 43.6,435.7 43.4,436.4 43.2,437.2 43.0,438.0 42.9,438.7 42.7,439.5 42.7,441.0 42.7,442.6 43.2,443.3 44.4,443.3 45.6,443.3 46.8,443.3 47.9,443.3 49.1,443.3 50.3,443.3 51.5,443.3 52.7,443.3 53.9,443.3 55.1,443.3 56.3,443.3 57.5,443.3 58.7,443.3 59.8,443.3 61.0,443.3 62.2,443.3 63.4,443.3 64.6,443.3 65.8,443.3 67.0,443.3 68.2,443.3 69.4,443.3 70.6,443.3 71.7,443.3 72.9,443.3 74.1,443.3 75.3,443.3 76.5,443.3 77.7,443.3 78.9,443.3 80.1,443.3 81.3,443.3 82.5,443.3 83.6,443.3 84.8,443.3 86.0,443.3 86.1,442.6 86.1,441.0 86.1,439.5 86.0,438.7 85.9,438.0 85.9,437.2 85.7,436.4 85.6,435.7 85.4,434.9 85.2,434.1 84.9,433.4 84.7,432.6 84.4,431.8 84.1,431.1 83.7,430.3 83.4,429.5 82.9,428.8 82.5,428.2 81.9,427.5 81.3,426.8 80.7,426.3 80.1,425.7 79.5,425.2 78.9,424.7 78.3,424.3 77.7,423.8 77.1,423.4 76.5,422.9 75.9,422.5 75.3,422.1 74.7,421.6 74.1,421.2 73.5,420.8 72.9,420.4 72.3,420.1 71.7,419.7 71.2,419.4 70.6,419.1 70.0,418.8 69.4,418.5 68.8,418.3 68.2,418.1 67.0,417.7 65.8,417.4 65.1,417.2Z" fill="#b5ff00"/>
<path d="M62.8,418.8 61.6,418.7 60.4,418.9 59.2,419.1 58.1,419.5 57.5,419.8 56.9,420.0 56.3,420.4 55.7,420.7 55.2,421.1 54.5,421.6 53.9,422.0 53.3,422.5 52.7,423.0 52.2,423.4 51.5,424.0 50.9,424.5 50.3,425.1 49.7,425.7 49.1,426.3 48.5,427.0 47.9,427.8 47.4,428.7 46.9,429.5 46.5,430.3 46.2,431.1 45.9,431.8 45.6,432.5 45.3,433.4 45.0,434.1 44.7,434.9 44.5,435.7 44.3,436.4 44.1,437.2 43.9,438.0 43.7,438.7 43.6,439.5 43.6,441.0 43.6,442.6 43.8,443.3 45.0,443.3 46.2,443.3 47.4,443.3 48.5,443.3 49.7,443.3 50.9,443.3 52.1,443.3 53.3,443.3 54.5,443.3 55.7,443.3 56.9,443.3 58.1,443.3 59.2,443.3 60.4,443.3 61.6,443.3 62.8,443.3 64.0,443.3 65.2,443.3 66.4,443.3 67.6,443.3 68.8,443.3 70.0,443.3 71.2,443.3 72.3,443.3 73.5,443.3 74.7,443.3 75.9,443.3 77.1,443.3 78.3,443.3 79.5,443.3 80.7,443.3 81.9,443.3 83.0,443.3 84.2,443.3 84.8,442.6 84.8,441.0 84.8,439.5 84.7,438.7 84.6,438.0 84.5,437.2 84.4,436.4 84.2,435.7 84.0,434.9 83.8,434.1 83.5,433.4 83.2,432.6 82.9,431.8 82.6,431.1 82.2,430.3 81.9,429.7 81.3,428.8 80.7,428.0 80.1,427.4 79.5,426.8 79.1,426.5 78.3,425.8 77.7,425.4 77.1,424.9 76.5,424.5 76.0,424.1 75.3,423.7 74.8,423.4 74.1,422.9 73.6,422.6 72.9,422.2 72.3,421.9 71.7,421.5 71.2,421.2 70.6,420.9 70.0,420.6 69.4,420.3 68.8,420.1 68.2,419.9 67.2,419.5 66.4,419.3 65.2,419.0 64.0,418.9 63.1,418.8Z" fill="#cfff00"/>
<path d="M66.4,421.0 65.2,420.8 64.0,420.6 62.8,420.5 61.6,420.4 60.4,420.6 59.2,420.8 58.4,421.1 57.5,421.4 56.9,421.7 56.3,422.0 55.7,422.4 55.1,422.7 54.5,423.1 53.9,423.5 53.3,423.9 52.7,424.4 52.1,424.8 51.5,425.3 50.9,425.9 50.3,426.5 49.7,427.1 49.1,427.8 48.5,428.6 48.0,429.5 47.6,430.3 47.2,431.1 46.9,431.8 46.5,432.6 46.2,433.4 45.9,434.1 45.7,434.9 45.4,435.7 45.2,436.4 45.0,437.2 44.8,438.0 44.6,438.7 44.5,439.5 44.5,441.0 44.5,442.6 45.0,443.3 46.2,443.3 47.4,443.3 48.5,443.3 49.7,443.3 50.9,443.3 52.1,443.3 53.3,443.3 54.5,443.3 55.7,443.3 56.9,443.3 58.1,443.3 59.2,443.3 60.4,443.3 61.6,443.3 62.8,443.3 64.0,443.3 65.2,443.3 66.4,443.3 67.6,443.3 68.8,443.3 70.0,443.3 71.2,443.3 72.3,443.3 73.5,443.3 74.7,443.3 75.9,443.3 77.1,443.3 78.3,443.3 79.5,443.3 80.7,443.3 81.9,443.3 83.0,443.3 83.5,442.6 83.5,441.0 83.5,439.5 83.4,438.7 83.3,438.0 83.2,437.2 83.0,436.4 82.8,435.7 82.6,434.9 82.3,434.1 82.1,433.4 81.7,432.6 81.4,431.8 81.0,431.1 80.7,430.4 80.1,429.5 79.6,428.8 78.9,428.0 78.3,427.4 77.7,426.9 77.1,426.5 76.5,426.0 75.9,425.6 75.3,425.2 74.7,424.8 74.1,424.4 73.5,424.1 72.9,423.8 72.3,423.5 71.7,423.1 71.2,422.9 70.6,422.6 70.0,422.3 69.4,422.1 68.8,421.8 68.2,421.6 67.6,421.4 66.6,421.1Z" fill="#e8ff00"/>
<path d="M65.8,422.5 64.6,422.3 63.4,422.1 62.2,422.0 61.0,422.1 59.8,422.2 58.7,422.5 57.5,422.9 56.9,423.2 56.3,423.5 55.7,423.8 55.1,424.1 54.5,424.4 53.9,424.8 53.3,425.2 52.7,425.7 52.1,426.2 51.5,426.7 51.0,427.2 50.3,427.9 49.7,428.6 49.1,429.5 48.7,430.3 48.3,431.1 47.9,431.8 47.6,432.6 47.2,433.4 46.9,434.1 46.6,434.9 46.4,435.7 46.2,436.4 45.9,437.2 45.7,438.0 45.5,438.7 45.4,439.5 45.4,441.0 45.4,442.6 45.6,443.3 46.8,443.3 47.9,443.3 49.1,443.3 50.3,443.3 51.5,443.3 52.7,443.3 53.9,443.3 55.1,443.3 56.3,443.3 57.5,443.3 58.7,443.3 59.8,443.3 61.0,443.3 62.2,443.3 63.4,443.3 64.6,443.3 65.8,443.3 67.0,443.3 68.2,443.3 69.4,443.3 70.6,443.3 71.7,443.3 72.9,443.3 74.1,443.3 75.3,443.3 76.5,443.3 77.7,443.3 78.9,443.3 80.1,443.3 81.3,443.3 82.2,443.3 82.2,441.8 82.2,440.3 82.1,438.7 82.0,438.0 81.8,437.2 81.6,436.4 81.4,435.7 81.2,434.9 80.9,434.1 80.6,433.4 80.2,432.6 79.8,431.8 79.5,431.2 79.0,430.3 78.5,429.5 77.8,428.8 77.1,428.0 76.5,427.5 75.9,427.0 75.3,426.6 74.7,426.2 74.1,425.8 73.5,425.5 72.9,425.2 72.3,424.8 71.7,424.5 71.2,424.3 70.6,424.0 70.0,423.8 69.4,423.5 68.8,423.3 67.6,422.9 66.4,422.6Z" fill="#fffc00"/>
<path d="M67.0,424.1 65.8,423.8 64.6,423.6 63.4,423.5 62.2,423.5 61.0,423.5 59.8,423.6 58.7,423.9 57.8,424.1 56.9,424.5 56.3,424.7 55.7,425.0 55.1,425.4 54.5,425.7 53.9,426.1 53.4,426.5 52.7,427.0 52.1,427.5 51.6,428.0 50.9,428.8 50.3,429.5 49.9,430.3 49.4,431.1 49.1,431.6 48.6,432.6 48.3,433.4 48.0,434.1 47.7,434.9 47.4,435.7 47.1,436.4 46.9,437.2 46.7,438.0 46.5,438.7 46.3,439.5 46.3,441.0 46.3,442.6 46.8,443.3 47.9,443.3 49.1,443.3 50.3,443.3 51.5,443.3 52.7,443.3 53.9,443.3 55.1,443.3 56.3,443.3 57.5,443.3 58.7,443.3 59.8,443.3 61.0,443.3 62.2,443.3 63.4,443.3 64.6,443.3 65.8,443.3 67.0,443.3 68.2,443.3 69.4,443.3 70.6,443.3 71.7,443.3 72.9,443.3 74.1,443.3 75.3,443.3 76.5,443.3 77.7,443.3 78.9,443.3 80.1,443.3 80.8,442.6 80.8,441.0 80.8,439.5 80.7,438.7 80.6,438.0 80.4,437.2 80.2,436.4 80.0,435.7 79.7,434.9 79.5,434.3 79.1,433.4 78.7,432.6 78.3,431.9 77.8,431.1 77.3,430.3 76.7,429.5 76.0,428.8 75.3,428.2 74.7,427.7 74.1,427.3 73.5,426.9 72.9,426.5 72.3,426.2 71.7,425.9 71.2,425.6 70.6,425.3 70.0,425.1 69.4,424.9 68.8,424.6 67.6,424.3Z" fill="#ffe300"/>
<path d="M64.6,424.9 63.4,424.8 62.2,424.7 61.0,424.7 59.8,424.9 58.7,425.1 57.5,425.5 56.9,425.7 56.3,426.0 55.7,426.3 55.1,426.6 54.5,427.0 53.9,427.4 53.3,427.9 52.7,428.4 52.1,429.0 51.7,429.5 51.2,430.3 50.7,431.1 50.3,431.6 49.8,432.6 49.4,433.4 49.1,433.9 48.7,434.9 48.4,435.7 48.1,436.4 47.9,437.2 47.7,438.0 47.4,438.7 47.3,439.5 47.3,441.0 47.3,442.6 47.4,443.3 48.5,443.3 49.7,443.3 50.9,443.3 52.1,443.3 53.3,443.3 54.5,443.3 55.7,443.3 56.9,443.3 58.1,443.3 59.2,443.3 60.4,443.3 61.6,443.3 62.8,443.3 64.0,443.3 65.2,443.3 66.4,443.3 67.6,443.3 68.8,443.3 70.0,443.3 71.2,443.3 72.3,443.3 73.5,443.3 74.7,443.3 75.9,443.3 77.1,443.3 78.3,443.3 79.5,443.3 79.5,441.8 79.5,440.3 79.5,439.5 79.4,438.7 79.2,438.0 79.0,437.2 78.8,436.4 78.5,435.7 78.2,434.9 77.9,434.1 77.5,433.4 77.1,432.7 76.6,431.8 76.0,431.1 75.5,430.3 74.8,429.5 74.1,428.9 73.5,428.4 72.9,428.0 72.3,427.6 71.7,427.3 71.2,426.9 70.6,426.7 70.0,426.4 69.4,426.1 68.8,425.9 68.0,425.7 67.0,425.4 65.8,425.1 64.7,424.9Z" fill="#ffc900"/>
<path d="M65.8,426.3 64.6,426.1 63.4,426.0 62.2,425.9 61.0,426.0 59.8,426.1 58.7,426.4 57.5,426.7 56.9,427.0 56.3,427.3 55.7,427.6 55.1,427.9 54.5,428.4 54.0,428.8 53.3,429.4 52.7,430.1 52.1,430.9 51.5,431.8 51.0,432.6 50.6,433.4 50.3,433.9 49.8,434.9 49.5,435.7 49.2,436.4 48.9,437.2 48.7,438.0 48.5,438.7 48.3,439.5 48.3,441.0 48.3,442.6 48.5,443.3 49.7,443.3 50.9,443.3 52.1,443.3 53.3,443.3 54.5,443.3 55.7,443.3 56.9,443.3 58.1,443.3 59.2,443.3 60.4,443.3 61.6,443.3 62.8,443.3 64.0,443.3 65.2,443.3 66.4,443.3 67.6,443.3 68.8,443.3 70.0,443.3 71.2,443.3 72.3,443.3 73.5,443.3 74.7,443.3 75.9,443.3 77.1,443.3 78.1,443.3 78.1,441.8 78.1,440.3 78.0,438.7 77.8,438.0 77.6,437.2 77.3,436.4 77.0,435.7 76.6,434.9 76.2,434.1 75.9,433.5 75.3,432.6 74.8,431.8 74.2,431.1 73.5,430.3 72.9,429.7 72.3,429.2 71.7,428.8 71.2,428.4 70.6,428.1 70.0,427.8 69.4,427.5 68.8,427.2 68.2,427.0 67.0,426.6 66.3,426.5Z" fill="#ffb000"/>
<path d="M62.8,427.2 61.6,427.2 60.8,427.2 59.8,427.3 58.7,427.6 57.6,428.0 56.9,428.3 56.3,428.6 55.7,429.0 55.1,429.5 54.5,430.0 53.9,430.7 53.3,431.4 52.7,432.2 52.1,433.0 51.5,434.0 51.1,434.9 50.7,435.7 50.4,436.4 50.1,437.2 49.8,438.0 49.5,438.7 49.3,439.5 49.3,441.0 49.3,442.6 49.7,443.3 50.9,443.3 52.1,443.3 53.3,443.3 54.5,443.3 55.7,443.3 56.9,443.3 58.1,443.3 59.2,443.3 60.4,443.3 61.6,443.3 62.8,443.3 64.0,443.3 65.2,443.3 66.4,443.3 67.6,443.3 68.8,443.3 70.0,443.3 71.2,443.3 72.3,443.3 73.5,443.3 74.7,443.3 75.9,443.3 76.7,442.6 76.7,441.0 76.7,439.5 76.5,438.8 76.3,438.0 76.0,437.2 75.7,436.4 75.4,435.7 75.0,434.9 74.5,434.1 74.1,433.5 73.5,432.7 72.9,432.0 72.3,431.3 71.7,430.7 71.2,430.3 70.6,429.7 70.0,429.3 69.4,429.0 68.8,428.7 68.2,428.4 67.6,428.2 67.0,428.0 65.8,427.6 64.6,427.4 63.4,427.2Z" fill="#ff9700"/>
<path d="M64.0,428.7 62.8,428.6 61.6,428.5 60.4,428.6 59.7,428.8 58.7,429.1 58.1,429.3 57.5,429.6 56.9,429.9 56.4,430.3 55.7,430.8 55.1,431.4 54.7,431.8 54.0,432.6 53.4,433.4 52.9,434.1 52.4,434.9 52.1,435.4 51.6,436.4 51.3,437.2 51.0,438.0 50.7,438.7 50.5,439.5 50.5,441.0 50.5,442.6 50.9,443.3 52.1,443.3 53.3,443.3 54.5,443.3 55.7,443.3 56.9,443.3 58.1,443.3 59.2,443.3 60.4,443.3 61.6,443.3 62.8,443.3 64.0,443.3 65.2,443.3 66.4,443.3 67.6,443.3 68.8,443.3 70.0,443.3 71.2,443.3 72.3,443.3 73.5,443.3 74.7,443.3 75.1,442.6 75.1,441.0 75.1,439.5 74.9,438.7 74.7,438.0 74.4,437.2 74.1,436.6 73.6,435.7 73.2,434.9 72.6,434.1 72.0,433.4 71.3,432.6 70.6,431.8 70.0,431.3 69.4,430.9 68.8,430.5 68.2,430.1 67.6,429.8 67.0,429.5 66.4,429.3 65.2,428.9 64.5,428.8Z" fill="#ff7d00"/>
<path d="M63.4,430.3 62.2,430.2 61.0,430.2 59.8,430.4 58.7,430.8 58.1,431.1 57.5,431.5 56.9,431.8 56.3,432.3 55.7,432.9 55.2,433.4 54.5,434.1 54.0,434.9 53.5,435.7 53.0,436.4 52.7,437.0 52.3,438.0 52.0,438.7 51.7,439.5 51.7,441.0 51.7,442.6 52.1,443.3 53.3,443.3 54.5,443.3 55.7,443.3 56.9,443.3 58.1,443.3 59.2,443.3 60.4,443.3 61.6,443.3 62.8,443.3 64.0,443.3 65.2,443.3 66.4,443.3 67.6,443.3 68.8,443.3 70.0,443.3 71.2,443.3 72.3,443.3 73.5,443.3 73.5,441.8 73.5,440.3 73.3,438.7 73.0,438.0 72.6,437.2 72.3,436.7 71.7,435.7 71.2,434.9 70.6,434.2 70.0,433.6 69.4,433.1 68.8,432.6 68.2,432.2 67.6,431.8 67.0,431.5 66.4,431.2 65.8,430.9 65.2,430.7 64.0,430.4Z" fill="#ff6300"/>
<path d="M64.6,432.5 63.4,432.2 62.2,432.1 61.0,432.1 59.8,432.4 59.2,432.6 58.1,433.1 57.5,433.5 56.9,434.0 56.3,434.5 55.7,435.1 55.2,435.7 54.7,436.4 54.2,437.2 53.9,437.7 53.4,438.7 53.1,439.5 53.1,441.0 53.1,442.6 53.3,443.3 54.5,443.3 55.7,443.3 56.9,443.3 58.1,443.3 59.2,443.3 60.4,443.3 61.6,443.3 62.8,443.3 64.0,443.3 65.2,443.3 66.4,443.3 67.6,443.3 68.8,443.3 70.0,443.3 71.2,443.3 71.7,442.6 71.7,441.0 71.7,439.5 71.4,438.7 71.2,438.1 70.6,437.2 70.1,436.4 69.5,435.7 68.8,435.0 68.2,434.4 67.6,434.0 67.0,433.6 66.4,433.3 65.8,433.0 65.2,432.7Z" fill="#ff4a00"/>
<path d="M64.6,434.7 63.4,434.4 62.2,434.2 61.0,434.2 59.8,434.5 59.2,434.7 58.7,435.0 58.1,435.4 57.5,435.8 56.9,436.4 56.3,437.1 55.7,437.9 55.2,438.7 54.8,439.5 54.8,441.0 54.8,442.6 55.1,443.3 56.3,443.3 57.5,443.3 58.7,443.3 59.8,443.3 61.0,443.3 62.2,443.3 63.4,443.3 64.6,443.3 65.8,443.3 67.0,443.3 68.2,443.3 69.4,443.3 69.7,442.6 69.7,441.0 69.7,439.5 69.4,438.9 68.8,438.0 68.2,437.2 67.6,436.6 67.0,436.1 66.4,435.7 65.8,435.3 65.2,435.0 64.6,434.7Z" fill="#ff3000"/>
<path d="M64.0,437.1 62.8,436.8 61.6,436.7 60.4,436.8 59.5,437.2 58.7,437.7 58.1,438.2 57.5,438.7 57.0,439.5 57.0,441.0 57.0,442.6 57.5,443.3 58.7,443.3 59.8,443.3 61.0,443.3 62.2,443.3 63.4,443.3 64.6,443.3 65.8,443.3 67.0,443.3 67.0,442.6 67.0,441.0 67.0,439.5 66.4,438.7 65.8,438.2 65.2,437.7 64.6,437.4 64.0,437.1Z" fill="#ff1600"/>
</g>
<rect x="29.5" y="286" width="178.5" height="153.5" fill="none" stroke="#111" stroke-width="1.35"/>
<linearGradient id="cbg" x1="0" y1="1" x2="0" y2="0"><stop offset="0.0" stop-color="#0000ff"/><stop offset="0.125" stop-color="#0070ff"/><stop offset="0.25" stop-color="#00e0ff"/><stop offset="0.29" stop-color="#00ffff"/><stop offset="0.375" stop-color="#00ff90"/><stop offset="0.5" stop-color="#00ff00"/><stop offset="0.625" stop-color="#80ff00"/><stop offset="0.75" stop-color="#ffff00"/><stop offset="0.875" stop-color="#ff8000"/><stop offset="1.0" stop-color="#ff0000"/></linearGradient>
<rect x="209.3" y="286" width="5.6" height="153.5" fill="url(#cbg)" stroke="#333" stroke-width="0.8"/>
<line x1="214.9" y1="439.5" x2="216.5" y2="439.5" stroke="#111" stroke-width="0.6"/>
<text x="216.6" y="441.3" font-size="5" fill="#000" stroke="#000" stroke-width="0.12">20</text>
<line x1="214.9" y1="420.3125" x2="216.5" y2="420.3125" stroke="#111" stroke-width="0.6"/>
<text x="216.6" y="422.1" font-size="5" fill="#000" stroke="#000" stroke-width="0.12">765</text>
<line x1="214.9" y1="401.125" x2="216.5" y2="401.125" stroke="#111" stroke-width="0.6"/>
<text x="216.6" y="402.9" font-size="5" fill="#000" stroke="#000" stroke-width="0.12">2k</text>
<line x1="214.9" y1="381.9375" x2="216.5" y2="381.9375" stroke="#111" stroke-width="0.6"/>
<text x="216.6" y="383.7" font-size="5" fill="#000" stroke="#000" stroke-width="0.12">2k</text>
<line x1="214.9" y1="362.75" x2="216.5" y2="362.75" stroke="#111" stroke-width="0.6"/>
<text x="216.6" y="364.6" font-size="5" fill="#000" stroke="#000" stroke-width="0.12">3k</text>
<line x1="214.9" y1="343.5625" x2="216.5" y2="343.5625" stroke="#111" stroke-width="0.6"/>
<text x="216.6" y="345.4" font-size="5" fill="#000" stroke="#000" stroke-width="0.12">4k</text>
<line x1="214.9" y1="324.375" x2="216.5" y2="324.375" stroke="#111" stroke-width="0.6"/>
<text x="216.6" y="326.2" font-size="5" fill="#000" stroke="#000" stroke-width="0.12">4k</text>
<line x1="214.9" y1="305.1875" x2="216.5" y2="305.1875" stroke="#111" stroke-width="0.6"/>
<text x="216.6" y="307.0" font-size="5" fill="#000" stroke="#000" stroke-width="0.12">5k</text>
<line x1="214.9" y1="286.0" x2="216.5" y2="286.0" stroke="#111" stroke-width="0.6"/>
<text x="216.6" y="287.8" font-size="5" fill="#000" stroke="#000" stroke-width="0.12">6k</text>
<text x="196" y="282" font-size="7.2" fill="#000" stroke="#000" stroke-width="0.18">Intensity</text>
<line x1="26.5" y1="439.5" x2="29.5" y2="439.5" stroke="#111" stroke-width="1.2"/>
<text x="24.5" y="443.0" font-size="10" font-weight="bold" fill="#000" stroke="#000" stroke-width="0.35" text-anchor="end" >0</text>
<line x1="27.5" y1="429.90625" x2="29.5" y2="429.90625" stroke="#111" stroke-width="1.2"/>
<line x1="26.5" y1="420.3125" x2="29.5" y2="420.3125" stroke="#111" stroke-width="1.2"/>
<text x="24.5" y="423.8" font-size="10" font-weight="bold" fill="#000" stroke="#000" stroke-width="0.35" text-anchor="end" >5</text>
<line x1="27.5" y1="410.71875" x2="29.5" y2="410.71875" stroke="#111" stroke-width="1.2"/>
<line x1="26.5" y1="401.125" x2="29.5" y2="401.125" stroke="#111" stroke-width="1.2"/>
<text x="24.5" y="404.6" font-size="10" font-weight="bold" fill="#000" stroke="#000" stroke-width="0.35" text-anchor="end" >10</text>
<line x1="27.5" y1="391.53125" x2="29.5" y2="391.53125" stroke="#111" stroke-width="1.2"/>
<line x1="26.5" y1="381.9375" x2="29.5" y2="381.9375" stroke="#111" stroke-width="1.2"/>
<text x="24.5" y="385.4" font-size="10" font-weight="bold" fill="#000" stroke="#000" stroke-width="0.35" text-anchor="end" >15</text>
<line x1="27.5" y1="372.34375" x2="29.5" y2="372.34375" stroke="#111" stroke-width="1.2"/>
<line x1="26.5" y1="362.75" x2="29.5" y2="362.75" stroke="#111" stroke-width="1.2"/>
<text x="24.5" y="366.2" font-size="10" font-weight="bold" fill="#000" stroke="#000" stroke-width="0.35" text-anchor="end" >20</text>
<line x1="27.5" y1="353.15625" x2="29.5" y2="353.15625" stroke="#111" stroke-width="1.2"/>
<line x1="26.5" y1="343.5625" x2="29.5" y2="343.5625" stroke="#111" stroke-width="1.2"/>
<text x="24.5" y="347.1" font-size="10" font-weight="bold" fill="#000" stroke="#000" stroke-width="0.35" text-anchor="end" >25</text>
<line x1="27.5" y1="333.96875" x2="29.5" y2="333.96875" stroke="#111" stroke-width="1.2"/>
<line x1="26.5" y1="324.375" x2="29.5" y2="324.375" stroke="#111" stroke-width="1.2"/>
<text x="24.5" y="327.9" font-size="10" font-weight="bold" fill="#000" stroke="#000" stroke-width="0.35" text-anchor="end" >30</text>
<line x1="27.5" y1="314.78125" x2="29.5" y2="314.78125" stroke="#111" stroke-width="1.2"/>
<line x1="26.5" y1="305.1875" x2="29.5" y2="305.1875" stroke="#111" stroke-width="1.2"/>
<text x="24.5" y="308.7" font-size="10" font-weight="bold" fill="#000" stroke="#000" stroke-width="0.35" text-anchor="end" >35</text>
<line x1="27.5" y1="295.59375" x2="29.5" y2="295.59375" stroke="#111" stroke-width="1.2"/>
<line x1="26.5" y1="286.0" x2="29.5" y2="286.0" stroke="#111" stroke-width="1.2"/>
<text x="24.5" y="289.5" font-size="10" font-weight="bold" fill="#000" stroke="#000" stroke-width="0.35" text-anchor="end" >40</text>
<line x1="29.5" y1="439.5" x2="29.5" y2="443.0" stroke="#111" stroke-width="1.2"/>
<text x="29.5" y="452.6" font-size="10" font-weight="bold" fill="#000" stroke="#000" stroke-width="0.35" text-anchor="middle" >400</text>
<line x1="44.375" y1="439.5" x2="44.375" y2="441.5" stroke="#111" stroke-width="1.2"/>
<line x1="59.25" y1="439.5" x2="59.25" y2="443.0" stroke="#111" stroke-width="1.2"/>
<text x="59.2" y="452.6" font-size="10" font-weight="bold" fill="#000" stroke="#000" stroke-width="0.35" text-anchor="middle" >450</text>
<line x1="74.125" y1="439.5" x2="74.125" y2="441.5" stroke="#111" stroke-width="1.2"/>
<line x1="89.0" y1="439.5" x2="89.0" y2="443.0" stroke="#111" stroke-width="1.2"/>
<text x="89.0" y="452.6" font-size="10" font-weight="bold" fill="#000" stroke="#000" stroke-width="0.35" text-anchor="middle" >500</text>
<line x1="103.875" y1="439.5" x2="103.875" y2="441.5" stroke="#111" stroke-width="1.2"/>
<line x1="118.75" y1="439.5" x2="118.75" y2="443.0" stroke="#111" stroke-width="1.2"/>
<text x="118.8" y="452.6" font-size="10" font-weight="bold" fill="#000" stroke="#000" stroke-width="0.35" text-anchor="middle" >550</text>
<line x1="133.625" y1="439.5" x2="133.625" y2="441.5" stroke="#111" stroke-width="1.2"/>
<line x1="148.5" y1="439.5" x2="148.5" y2="443.0" stroke="#111" stroke-width="1.2"/>
<text x="148.5" y="452.6" font-size="10" font-weight="bold" fill="#000" stroke="#000" stroke-width="0.35" text-anchor="middle" >600</text>
<line x1="163.375" y1="439.5" x2="163.375" y2="441.5" stroke="#111" stroke-width="1.2"/>
<line x1="178.25" y1="439.5" x2="178.25" y2="443.0" stroke="#111" stroke-width="1.2"/>
<text x="178.2" y="452.6" font-size="10" font-weight="bold" fill="#000" stroke="#000" stroke-width="0.35" text-anchor="middle" >650</text>
<line x1="193.125" y1="439.5" x2="193.125" y2="441.5" stroke="#111" stroke-width="1.2"/>
<line x1="208.0" y1="439.5" x2="208.0" y2="443.0" stroke="#111" stroke-width="1.2"/>
<text x="208.0" y="452.6" font-size="10" font-weight="bold" fill="#000" stroke="#000" stroke-width="0.35" text-anchor="middle" >700</text>
<text x="32.5" y="276.8" font-size="14.5" font-weight="bold" fill="#000" stroke="#000" stroke-width="0.35" text-anchor="start" >e</text>
<text x="0" y="0" transform="translate(11.6,362.5) rotate(-90)" font-size="15.8" font-weight="bold" fill="#000" stroke="#000" stroke-width="0.35" text-anchor="middle">Time (s)</text>
<text x="118.5" y="467.7" font-size="14.8" font-weight="bold" fill="#000" stroke="#000" stroke-width="0.35" text-anchor="middle" >Wavelength (nm)</text>
<rect x="229" y="287.6" width="456" height="190" fill="#fbfbfb"/>
<g fill="#d8b4f8" stroke="#b886f0" stroke-width="0.6">
<circle cx="266.2" cy="382.2" r="1.55"/>
<circle cx="266.6" cy="391.7" r="1.55"/>
<circle cx="266.7" cy="391.8" r="1.55"/>
<circle cx="267.0" cy="389.4" r="1.55"/>
<circle cx="267.3" cy="398.5" r="1.55"/>
<circle cx="267.6" cy="389.6" r="1.55"/>
<circle cx="267.8" cy="389.8" r="1.55"/>
<circle cx="267.9" cy="386.8" r="1.55"/>
<circle cx="268.3" cy="390.2" r="1.55"/>
<circle cx="268.4" cy="385.7" r="1.55"/>
<circle cx="268.6" cy="396.8" r="1.55"/>
<circle cx="269.0" cy="392.6" r="1.55"/>
<circle cx="269.0" cy="393.3" r="1.55"/>
<circle cx="269.4" cy="395.2" r="1.55"/>
<circle cx="269.5" cy="389.0" r="1.55"/>
<circle cx="270.0" cy="390.3" r="1.55"/>
<circle cx="270.1" cy="387.2" r="1.55"/>
<circle cx="270.5" cy="390.7" r="1.55"/>
<circle cx="270.7" cy="383.9" r="1.55"/>
<circle cx="270.9" cy="393.3" r="1.55"/>
<circle cx="271.2" cy="387.9" r="1.55"/>
<circle cx="271.5" cy="395.7" r="1.55"/>
<circle cx="271.6" cy="393.4" r="1.55"/>
<circle cx="271.7" cy="388.5" r="1.55"/>
<circle cx="272.2" cy="392.9" r="1.55"/>
<circle cx="272.5" cy="385.0" r="1.55"/>
<circle cx="272.7" cy="387.1" r="1.55"/>
<circle cx="273.0" cy="395.9" r="1.55"/>
<circle cx="273.2" cy="386.1" r="1.55"/>
<circle cx="273.2" cy="387.4" r="1.55"/>
<circle cx="273.6" cy="385.2" r="1.55"/>
<circle cx="273.8" cy="389.2" r="1.55"/>
<circle cx="274.1" cy="393.6" r="1.55"/>
<circle cx="266.0" cy="429.8" r="1.55"/>
<circle cx="266.0" cy="419.6" r="1.55"/>
<circle cx="266.1" cy="413.5" r="1.55"/>
<circle cx="266.2" cy="408.5" r="1.55"/>
<circle cx="274.1" cy="385.8" r="1.55"/>
<circle cx="274.0" cy="382.4" r="1.55"/>
<circle cx="274.1" cy="379.0" r="1.55"/>
<circle cx="274.0" cy="375.6" r="1.55"/>
<circle cx="274.2" cy="372.2" r="1.55"/>
<circle cx="274.2" cy="368.8" r="1.55"/>
<circle cx="274.1" cy="365.4" r="1.55"/>
<circle cx="274.2" cy="362.0" r="1.55"/>
<circle cx="274.3" cy="358.7" r="1.55"/>
<circle cx="274.5" cy="355.3" r="1.55"/>
<circle cx="274.1" cy="351.9" r="1.55"/>
<circle cx="274.5" cy="348.5" r="1.55"/>
<circle cx="274.5" cy="345.1" r="1.55"/>
<circle cx="274.5" cy="341.7" r="1.55"/>
<circle cx="274.4" cy="338.3" r="1.55"/>
<circle cx="274.8" cy="334.9" r="1.55"/>
<circle cx="274.6" cy="331.6" r="1.55"/>
<circle cx="275.1" cy="328.2" r="1.55"/>
<circle cx="275.4" cy="324.8" r="1.55"/>
<circle cx="275.3" cy="321.4" r="1.55"/>
<circle cx="275.8" cy="318.0" r="1.55"/>
<circle cx="275.9" cy="314.6" r="1.55"/>
<circle cx="276.5" cy="311.2" r="1.55"/>
<circle cx="277.1" cy="307.8" r="1.55"/>
<circle cx="277.6" cy="304.5" r="1.55"/>
<circle cx="278.1" cy="302.1" r="1.55"/>
<circle cx="278.3" cy="302.8" r="1.55"/>
<circle cx="278.5" cy="303.3" r="1.55"/>
<circle cx="278.7" cy="304.8" r="1.55"/>
<circle cx="278.8" cy="305.8" r="1.55"/>
<circle cx="279.0" cy="305.5" r="1.55"/>
<circle cx="279.2" cy="307.0" r="1.55"/>
<circle cx="279.4" cy="308.0" r="1.55"/>
<circle cx="279.6" cy="308.1" r="1.55"/>
<circle cx="279.8" cy="309.3" r="1.55"/>
<circle cx="279.9" cy="309.6" r="1.55"/>
<circle cx="280.1" cy="310.4" r="1.55"/>
<circle cx="280.3" cy="311.2" r="1.55"/>
<circle cx="280.5" cy="311.6" r="1.55"/>
<circle cx="280.7" cy="312.9" r="1.55"/>
<circle cx="280.9" cy="312.4" r="1.55"/>
<circle cx="281.1" cy="313.2" r="1.55"/>
<circle cx="281.2" cy="314.3" r="1.55"/>
<circle cx="281.4" cy="314.6" r="1.55"/>
<circle cx="281.6" cy="314.8" r="1.55"/>
<circle cx="281.8" cy="315.7" r="1.55"/>
<circle cx="282.0" cy="314.9" r="1.55"/>
<circle cx="282.2" cy="316.6" r="1.55"/>
<circle cx="282.3" cy="316.3" r="1.55"/>
<circle cx="282.5" cy="317.7" r="1.55"/>
<circle cx="282.7" cy="317.9" r="1.55"/>
<circle cx="282.9" cy="317.6" r="1.55"/>
<circle cx="283.1" cy="318.6" r="1.55"/>
<circle cx="283.3" cy="319.0" r="1.55"/>
<circle cx="283.5" cy="320.0" r="1.55"/>
<circle cx="283.6" cy="320.1" r="1.55"/>
<circle cx="283.8" cy="319.9" r="1.55"/>
<circle cx="284.0" cy="320.7" r="1.55"/>
<circle cx="284.2" cy="320.8" r="1.55"/>
<circle cx="284.4" cy="321.2" r="1.55"/>
<circle cx="284.6" cy="321.7" r="1.55"/>
<circle cx="284.7" cy="321.8" r="1.55"/>
<circle cx="284.9" cy="322.1" r="1.55"/>
<circle cx="285.1" cy="323.6" r="1.55"/>
<circle cx="285.3" cy="323.7" r="1.55"/>
<circle cx="285.5" cy="323.6" r="1.55"/>
<circle cx="285.7" cy="323.4" r="1.55"/>
<circle cx="285.9" cy="323.5" r="1.55"/>
<circle cx="286.0" cy="324.8" r="1.55"/>
<circle cx="286.2" cy="325.0" r="1.55"/>
<circle cx="286.4" cy="326.2" r="1.55"/>
<circle cx="286.6" cy="325.2" r="1.55"/>
<circle cx="286.8" cy="325.9" r="1.55"/>
<circle cx="287.0" cy="326.4" r="1.55"/>
<circle cx="287.1" cy="327.6" r="1.55"/>
<circle cx="287.3" cy="327.0" r="1.55"/>
<circle cx="287.5" cy="327.2" r="1.55"/>
<circle cx="287.7" cy="327.7" r="1.55"/>
<circle cx="287.9" cy="328.7" r="1.55"/>
<circle cx="288.1" cy="329.8" r="1.55"/>
<circle cx="288.3" cy="329.3" r="1.55"/>
<circle cx="288.4" cy="329.4" r="1.55"/>
<circle cx="288.6" cy="330.5" r="1.55"/>
<circle cx="288.8" cy="330.6" r="1.55"/>
<circle cx="289.0" cy="331.5" r="1.55"/>
<circle cx="289.2" cy="330.7" r="1.55"/>
<circle cx="289.4" cy="332.9" r="1.55"/>
<circle cx="289.5" cy="332.7" r="1.55"/>
<circle cx="289.7" cy="332.3" r="1.55"/>
<circle cx="289.9" cy="331.9" r="1.55"/>
<circle cx="290.1" cy="333.8" r="1.55"/>
<circle cx="290.3" cy="333.5" r="1.55"/>
<circle cx="290.5" cy="334.0" r="1.55"/>
<circle cx="290.7" cy="333.9" r="1.55"/>
<circle cx="290.8" cy="334.1" r="1.55"/>
<circle cx="291.0" cy="334.5" r="1.55"/>
<circle cx="291.2" cy="335.0" r="1.55"/>
<circle cx="291.4" cy="336.2" r="1.55"/>
<circle cx="291.6" cy="336.4" r="1.55"/>
<circle cx="291.8" cy="337.2" r="1.55"/>
<circle cx="291.9" cy="336.1" r="1.55"/>
<circle cx="292.1" cy="337.2" r="1.55"/>
<circle cx="292.3" cy="337.7" r="1.55"/>
<circle cx="292.5" cy="335.8" r="1.55"/>
<circle cx="292.7" cy="337.0" r="1.55"/>
<circle cx="292.9" cy="337.2" r="1.55"/>
<circle cx="293.0" cy="337.9" r="1.55"/>
<circle cx="293.2" cy="338.8" r="1.55"/>
<circle cx="293.4" cy="339.1" r="1.55"/>
<circle cx="293.6" cy="337.6" r="1.55"/>
<circle cx="293.8" cy="340.0" r="1.55"/>
<circle cx="294.0" cy="338.1" r="1.55"/>
<circle cx="294.2" cy="338.7" r="1.55"/>
<circle cx="294.3" cy="339.9" r="1.55"/>
<circle cx="294.5" cy="341.2" r="1.55"/>
<circle cx="294.7" cy="340.5" r="1.55"/>
<circle cx="294.9" cy="340.5" r="1.55"/>
<circle cx="295.1" cy="340.3" r="1.55"/>
<circle cx="295.3" cy="342.0" r="1.55"/>
<circle cx="295.4" cy="341.4" r="1.55"/>
<circle cx="295.6" cy="342.2" r="1.55"/>
<circle cx="295.8" cy="342.6" r="1.55"/>
<circle cx="296.0" cy="343.3" r="1.55"/>
<circle cx="296.2" cy="343.8" r="1.55"/>
<circle cx="296.4" cy="342.7" r="1.55"/>
<circle cx="296.6" cy="341.6" r="1.55"/>
<circle cx="296.7" cy="341.9" r="1.55"/>
<circle cx="296.9" cy="343.6" r="1.55"/>
<circle cx="297.1" cy="344.3" r="1.55"/>
<circle cx="297.3" cy="344.4" r="1.55"/>
<circle cx="297.5" cy="345.8" r="1.55"/>
<circle cx="297.7" cy="344.2" r="1.55"/>
<circle cx="297.8" cy="345.2" r="1.55"/>
<circle cx="298.0" cy="345.4" r="1.55"/>
<circle cx="298.2" cy="346.1" r="1.55"/>
<circle cx="298.4" cy="344.7" r="1.55"/>
<circle cx="298.6" cy="345.3" r="1.55"/>
<circle cx="298.8" cy="348.0" r="1.55"/>
<circle cx="299.0" cy="346.6" r="1.55"/>
<circle cx="299.1" cy="348.1" r="1.55"/>
<circle cx="299.3" cy="347.3" r="1.55"/>
<circle cx="299.5" cy="345.9" r="1.55"/>
<circle cx="299.7" cy="348.0" r="1.55"/>
<circle cx="299.9" cy="348.2" r="1.55"/>
<circle cx="300.1" cy="348.1" r="1.55"/>
<circle cx="300.2" cy="348.9" r="1.55"/>
<circle cx="300.4" cy="347.5" r="1.55"/>
<circle cx="300.6" cy="346.6" r="1.55"/>
<circle cx="300.8" cy="348.3" r="1.55"/>
<circle cx="301.0" cy="349.3" r="1.55"/>
<circle cx="301.2" cy="347.3" r="1.55"/>
<circle cx="301.4" cy="347.2" r="1.55"/>
<circle cx="301.5" cy="349.0" r="1.55"/>
<circle cx="301.7" cy="351.1" r="1.55"/>
<circle cx="301.9" cy="349.3" r="1.55"/>
<circle cx="302.1" cy="349.8" r="1.55"/>
<circle cx="302.3" cy="350.2" r="1.55"/>
<circle cx="302.5" cy="350.7" r="1.55"/>
<circle cx="302.6" cy="350.3" r="1.55"/>
<circle cx="302.8" cy="350.2" r="1.55"/>
<circle cx="303.0" cy="350.3" r="1.55"/>
<circle cx="303.2" cy="352.4" r="1.55"/>
<circle cx="303.4" cy="352.7" r="1.55"/>
<circle cx="303.6" cy="351.3" r="1.55"/>
<circle cx="303.8" cy="350.9" r="1.55"/>
<circle cx="303.9" cy="351.7" r="1.55"/>
<circle cx="304.1" cy="352.4" r="1.55"/>
<circle cx="304.3" cy="353.1" r="1.55"/>
<circle cx="304.5" cy="353.8" r="1.55"/>
<circle cx="304.7" cy="351.7" r="1.55"/>
<circle cx="304.9" cy="352.5" r="1.55"/>
<circle cx="305.0" cy="352.1" r="1.55"/>
<circle cx="305.2" cy="352.5" r="1.55"/>
<circle cx="305.4" cy="351.8" r="1.55"/>
<circle cx="305.6" cy="354.6" r="1.55"/>
<circle cx="305.8" cy="352.0" r="1.55"/>
<circle cx="306.0" cy="351.6" r="1.55"/>
<circle cx="306.1" cy="354.6" r="1.55"/>
<circle cx="306.3" cy="352.2" r="1.55"/>
<circle cx="306.5" cy="353.2" r="1.55"/>
<circle cx="306.7" cy="354.7" r="1.55"/>
<circle cx="306.9" cy="354.0" r="1.55"/>
<circle cx="307.1" cy="352.6" r="1.55"/>
<circle cx="307.3" cy="353.8" r="1.55"/>
<circle cx="307.4" cy="353.8" r="1.55"/>
<circle cx="307.6" cy="354.3" r="1.55"/>
<circle cx="307.8" cy="356.1" r="1.55"/>
<circle cx="308.0" cy="354.2" r="1.55"/>
<circle cx="308.2" cy="355.1" r="1.55"/>
<circle cx="308.4" cy="354.7" r="1.55"/>
<circle cx="308.5" cy="355.6" r="1.55"/>
<circle cx="308.7" cy="354.3" r="1.55"/>
<circle cx="308.9" cy="356.6" r="1.55"/>
<circle cx="309.1" cy="356.1" r="1.55"/>
<circle cx="309.3" cy="355.8" r="1.55"/>
<circle cx="309.5" cy="356.7" r="1.55"/>
<circle cx="309.7" cy="355.7" r="1.55"/>
<circle cx="309.8" cy="356.7" r="1.55"/>
<circle cx="310.0" cy="358.1" r="1.55"/>
<circle cx="310.2" cy="356.1" r="1.55"/>
<circle cx="310.4" cy="355.7" r="1.55"/>
<circle cx="310.6" cy="356.7" r="1.55"/>
<circle cx="310.8" cy="355.3" r="1.55"/>
<circle cx="310.9" cy="356.6" r="1.55"/>
<circle cx="311.1" cy="357.1" r="1.55"/>
<circle cx="311.3" cy="358.1" r="1.55"/>
<circle cx="311.5" cy="358.7" r="1.55"/>
<circle cx="311.7" cy="356.9" r="1.55"/>
<circle cx="311.9" cy="357.9" r="1.55"/>
<circle cx="312.1" cy="355.7" r="1.55"/>
<circle cx="312.2" cy="358.0" r="1.55"/>
<circle cx="312.4" cy="360.3" r="1.55"/>
<circle cx="312.6" cy="360.2" r="1.55"/>
<circle cx="312.8" cy="361.3" r="1.55"/>
<circle cx="313.0" cy="358.1" r="1.55"/>
<circle cx="313.2" cy="358.8" r="1.55"/>
<circle cx="313.3" cy="357.6" r="1.55"/>
<circle cx="313.5" cy="359.6" r="1.55"/>
<circle cx="313.7" cy="361.4" r="1.55"/>
<circle cx="313.9" cy="361.1" r="1.55"/>
<circle cx="314.1" cy="360.1" r="1.55"/>
<circle cx="314.3" cy="360.9" r="1.55"/>
<circle cx="314.5" cy="360.5" r="1.55"/>
<circle cx="314.6" cy="363.1" r="1.55"/>
<circle cx="314.8" cy="358.7" r="1.55"/>
<circle cx="315.0" cy="358.2" r="1.55"/>
<circle cx="315.2" cy="360.1" r="1.55"/>
<circle cx="315.4" cy="361.4" r="1.55"/>
<circle cx="315.6" cy="359.2" r="1.55"/>
<circle cx="315.7" cy="361.8" r="1.55"/>
<circle cx="315.9" cy="363.2" r="1.55"/>
<circle cx="316.1" cy="358.2" r="1.55"/>
<circle cx="316.3" cy="360.1" r="1.55"/>
<circle cx="316.5" cy="360.6" r="1.55"/>
<circle cx="316.7" cy="360.1" r="1.55"/>
<circle cx="316.8" cy="362.7" r="1.55"/>
<circle cx="317.0" cy="360.8" r="1.55"/>
<circle cx="317.2" cy="362.9" r="1.55"/>
<circle cx="317.4" cy="360.1" r="1.55"/>
<circle cx="317.6" cy="359.9" r="1.55"/>
<circle cx="317.8" cy="361.2" r="1.55"/>
<circle cx="318.0" cy="362.3" r="1.55"/>
<circle cx="318.1" cy="361.4" r="1.55"/>
<circle cx="318.3" cy="362.8" r="1.55"/>
<circle cx="318.5" cy="360.8" r="1.55"/>
<circle cx="318.7" cy="360.8" r="1.55"/>
<circle cx="318.9" cy="365.9" r="1.55"/>
<circle cx="319.1" cy="361.3" r="1.55"/>
<circle cx="319.2" cy="363.2" r="1.55"/>
<circle cx="319.4" cy="365.0" r="1.55"/>
<circle cx="319.6" cy="363.6" r="1.55"/>
<circle cx="319.8" cy="364.0" r="1.55"/>
<circle cx="320.0" cy="363.1" r="1.55"/>
<circle cx="320.2" cy="365.8" r="1.55"/>
<circle cx="320.4" cy="363.5" r="1.55"/>
<circle cx="320.5" cy="363.2" r="1.55"/>
<circle cx="320.7" cy="363.4" r="1.55"/>
<circle cx="320.9" cy="364.5" r="1.55"/>
<circle cx="321.1" cy="366.6" r="1.55"/>
<circle cx="321.3" cy="361.7" r="1.55"/>
<circle cx="321.5" cy="361.8" r="1.55"/>
<circle cx="321.6" cy="361.2" r="1.55"/>
<circle cx="321.8" cy="366.0" r="1.55"/>
<circle cx="322.0" cy="364.0" r="1.55"/>
<circle cx="322.2" cy="365.8" r="1.55"/>
<circle cx="322.4" cy="368.9" r="1.55"/>
<circle cx="322.6" cy="365.8" r="1.55"/>
<circle cx="322.8" cy="362.5" r="1.55"/>
<circle cx="322.9" cy="362.4" r="1.55"/>
<circle cx="323.1" cy="364.1" r="1.55"/>
<circle cx="323.3" cy="367.0" r="1.55"/>
<circle cx="323.5" cy="366.5" r="1.55"/>
<circle cx="323.7" cy="365.9" r="1.55"/>
<circle cx="323.9" cy="368.2" r="1.55"/>
<circle cx="324.0" cy="366.1" r="1.55"/>
<circle cx="324.2" cy="369.0" r="1.55"/>
<circle cx="324.4" cy="367.8" r="1.55"/>
<circle cx="324.6" cy="367.0" r="1.55"/>
<circle cx="324.8" cy="366.4" r="1.55"/>
<circle cx="325.0" cy="366.4" r="1.55"/>
<circle cx="325.2" cy="369.9" r="1.55"/>
<circle cx="325.3" cy="369.5" r="1.55"/>
<circle cx="325.5" cy="370.1" r="1.55"/>
<circle cx="325.7" cy="368.4" r="1.55"/>
<circle cx="325.9" cy="367.2" r="1.55"/>
<circle cx="326.1" cy="370.5" r="1.55"/>
<circle cx="326.3" cy="369.9" r="1.55"/>
<circle cx="326.4" cy="366.0" r="1.55"/>
<circle cx="326.6" cy="368.0" r="1.55"/>
<circle cx="326.8" cy="371.7" r="1.55"/>
<circle cx="327.0" cy="368.8" r="1.55"/>
<circle cx="327.2" cy="369.0" r="1.55"/>
<circle cx="327.4" cy="368.4" r="1.55"/>
<circle cx="327.6" cy="367.8" r="1.55"/>
<circle cx="327.7" cy="368.3" r="1.55"/>
<circle cx="327.9" cy="369.5" r="1.55"/>
<circle cx="328.1" cy="366.1" r="1.55"/>
<circle cx="328.3" cy="366.1" r="1.55"/>
<circle cx="328.5" cy="366.7" r="1.55"/>
<circle cx="328.7" cy="370.1" r="1.55"/>
<circle cx="328.8" cy="370.6" r="1.55"/>
<circle cx="329.0" cy="373.0" r="1.55"/>
<circle cx="329.2" cy="366.6" r="1.55"/>
<circle cx="329.4" cy="369.2" r="1.55"/>
<circle cx="329.6" cy="371.4" r="1.55"/>
<circle cx="329.8" cy="367.5" r="1.55"/>
<circle cx="329.9" cy="366.3" r="1.55"/>
<circle cx="330.1" cy="370.0" r="1.55"/>
<circle cx="330.3" cy="371.6" r="1.55"/>
<circle cx="330.5" cy="371.7" r="1.55"/>
<circle cx="330.7" cy="370.7" r="1.55"/>
<circle cx="330.9" cy="370.0" r="1.55"/>
<circle cx="331.1" cy="370.9" r="1.55"/>
<circle cx="331.2" cy="373.5" r="1.55"/>
<circle cx="331.4" cy="366.6" r="1.55"/>
<circle cx="331.6" cy="369.6" r="1.55"/>
<circle cx="331.8" cy="370.4" r="1.55"/>
<circle cx="332.0" cy="371.1" r="1.55"/>
<circle cx="332.2" cy="369.8" r="1.55"/>
<circle cx="332.3" cy="370.7" r="1.55"/>
<circle cx="332.5" cy="371.7" r="1.55"/>
<circle cx="332.7" cy="370.5" r="1.55"/>
<circle cx="332.9" cy="375.8" r="1.55"/>
<circle cx="333.1" cy="371.3" r="1.55"/>
<circle cx="333.3" cy="371.2" r="1.55"/>
<circle cx="333.5" cy="371.3" r="1.55"/>
<circle cx="333.6" cy="375.6" r="1.55"/>
<circle cx="333.8" cy="374.2" r="1.55"/>
<circle cx="334.0" cy="373.6" r="1.55"/>
<circle cx="334.2" cy="370.1" r="1.55"/>
<circle cx="334.4" cy="372.5" r="1.55"/>
<circle cx="334.6" cy="371.0" r="1.55"/>
<circle cx="334.7" cy="369.3" r="1.55"/>
<circle cx="334.9" cy="372.6" r="1.55"/>
<circle cx="335.1" cy="372.0" r="1.55"/>
<circle cx="335.3" cy="370.1" r="1.55"/>
<circle cx="335.5" cy="375.0" r="1.55"/>
<circle cx="335.7" cy="372.6" r="1.55"/>
<circle cx="335.9" cy="371.5" r="1.55"/>
<circle cx="336.0" cy="375.7" r="1.55"/>
<circle cx="336.2" cy="375.0" r="1.55"/>
<circle cx="336.4" cy="375.1" r="1.55"/>
<circle cx="336.6" cy="373.5" r="1.55"/>
<circle cx="336.8" cy="375.4" r="1.55"/>
<circle cx="337.0" cy="372.0" r="1.55"/>
<circle cx="337.1" cy="374.0" r="1.55"/>
<circle cx="337.3" cy="372.6" r="1.55"/>
<circle cx="337.5" cy="374.9" r="1.55"/>
<circle cx="337.7" cy="377.3" r="1.55"/>
<circle cx="337.9" cy="379.3" r="1.55"/>
<circle cx="338.1" cy="378.0" r="1.55"/>
<circle cx="338.3" cy="373.6" r="1.55"/>
<circle cx="338.4" cy="372.6" r="1.55"/>
<circle cx="338.6" cy="378.0" r="1.55"/>
<circle cx="338.8" cy="378.0" r="1.55"/>
<circle cx="339.0" cy="380.2" r="1.55"/>
<circle cx="339.2" cy="378.3" r="1.55"/>
<circle cx="339.4" cy="375.2" r="1.55"/>
<circle cx="339.5" cy="375.8" r="1.55"/>
<circle cx="339.7" cy="377.1" r="1.55"/>
<circle cx="339.9" cy="378.6" r="1.55"/>
<circle cx="340.1" cy="373.5" r="1.55"/>
<circle cx="340.3" cy="376.9" r="1.55"/>
<circle cx="340.5" cy="375.3" r="1.55"/>
<circle cx="340.7" cy="376.6" r="1.55"/>
<circle cx="340.8" cy="377.4" r="1.55"/>
<circle cx="341.0" cy="373.8" r="1.55"/>
<circle cx="341.2" cy="373.0" r="1.55"/>
<circle cx="341.4" cy="377.3" r="1.55"/>
<circle cx="341.6" cy="376.2" r="1.55"/>
<circle cx="341.8" cy="375.8" r="1.55"/>
<circle cx="341.9" cy="377.1" r="1.55"/>
<circle cx="342.1" cy="379.7" r="1.55"/>
<circle cx="342.3" cy="379.2" r="1.55"/>
<circle cx="342.5" cy="375.8" r="1.55"/>
<circle cx="342.7" cy="380.9" r="1.55"/>
<circle cx="342.9" cy="379.5" r="1.55"/>
<circle cx="343.0" cy="381.8" r="1.55"/>
<circle cx="343.2" cy="378.2" r="1.55"/>
<circle cx="343.4" cy="377.8" r="1.55"/>
<circle cx="343.6" cy="378.8" r="1.55"/>
<circle cx="343.8" cy="379.0" r="1.55"/>
<circle cx="344.0" cy="380.0" r="1.55"/>
<circle cx="344.2" cy="377.7" r="1.55"/>
<circle cx="344.3" cy="376.3" r="1.55"/>
<circle cx="344.5" cy="382.3" r="1.55"/>
<circle cx="344.7" cy="381.0" r="1.55"/>
<circle cx="344.9" cy="378.3" r="1.55"/>
<circle cx="345.1" cy="382.3" r="1.55"/>
<circle cx="345.3" cy="380.5" r="1.55"/>
<circle cx="345.4" cy="377.3" r="1.55"/>
<circle cx="345.6" cy="380.1" r="1.55"/>
<circle cx="345.8" cy="376.9" r="1.55"/>
<circle cx="346.0" cy="380.4" r="1.55"/>
<circle cx="346.2" cy="378.7" r="1.55"/>
<circle cx="346.4" cy="382.2" r="1.55"/>
<circle cx="346.6" cy="382.0" r="1.55"/>
<circle cx="346.7" cy="374.9" r="1.55"/>
<circle cx="346.9" cy="379.9" r="1.55"/>
<circle cx="347.1" cy="376.0" r="1.55"/>
<circle cx="347.3" cy="383.8" r="1.55"/>
<circle cx="347.5" cy="378.2" r="1.55"/>
<circle cx="347.7" cy="378.6" r="1.55"/>
<circle cx="347.8" cy="381.9" r="1.55"/>
<circle cx="348.0" cy="382.9" r="1.55"/>
<circle cx="348.2" cy="379.3" r="1.55"/>
<circle cx="348.4" cy="382.7" r="1.55"/>
<circle cx="348.6" cy="381.5" r="1.55"/>
<circle cx="348.8" cy="377.7" r="1.55"/>
<circle cx="349.0" cy="381.9" r="1.55"/>
<circle cx="349.1" cy="377.2" r="1.55"/>
<circle cx="349.3" cy="376.5" r="1.55"/>
<circle cx="349.5" cy="375.8" r="1.55"/>
<circle cx="349.7" cy="379.6" r="1.55"/>
<circle cx="349.9" cy="381.2" r="1.55"/>
<circle cx="350.1" cy="376.3" r="1.55"/>
<circle cx="350.2" cy="379.2" r="1.55"/>
<circle cx="350.4" cy="379.5" r="1.55"/>
<circle cx="350.6" cy="380.4" r="1.55"/>
<circle cx="350.8" cy="378.5" r="1.55"/>
<circle cx="351.0" cy="376.3" r="1.55"/>
<circle cx="351.2" cy="386.9" r="1.55"/>
<circle cx="351.4" cy="379.6" r="1.55"/>
<circle cx="351.5" cy="379.4" r="1.55"/>
<circle cx="351.7" cy="376.4" r="1.55"/>
<circle cx="351.9" cy="379.9" r="1.55"/>
<circle cx="352.1" cy="384.1" r="1.55"/>
<circle cx="352.3" cy="387.0" r="1.55"/>
<circle cx="352.5" cy="384.4" r="1.55"/>
<circle cx="352.6" cy="383.5" r="1.55"/>
<circle cx="352.8" cy="382.4" r="1.55"/>
<circle cx="353.0" cy="385.3" r="1.55"/>
<circle cx="353.2" cy="378.7" r="1.55"/>
<circle cx="353.4" cy="378.0" r="1.55"/>
<circle cx="353.6" cy="380.1" r="1.55"/>
<circle cx="353.7" cy="385.3" r="1.55"/>
<circle cx="353.9" cy="379.8" r="1.55"/>
<circle cx="354.1" cy="384.0" r="1.55"/>
<circle cx="354.3" cy="385.9" r="1.55"/>
<circle cx="354.5" cy="381.4" r="1.55"/>
<circle cx="354.7" cy="381.9" r="1.55"/>
<circle cx="354.9" cy="385.8" r="1.55"/>
<circle cx="355.0" cy="382.8" r="1.55"/>
<circle cx="355.2" cy="382.8" r="1.55"/>
<circle cx="355.4" cy="377.1" r="1.55"/>
<circle cx="355.6" cy="386.0" r="1.55"/>
<circle cx="355.8" cy="383.1" r="1.55"/>
<circle cx="356.0" cy="383.9" r="1.55"/>
<circle cx="356.1" cy="379.8" r="1.55"/>
<circle cx="356.3" cy="386.9" r="1.55"/>
<circle cx="356.5" cy="380.2" r="1.55"/>
<circle cx="356.7" cy="383.2" r="1.55"/>
<circle cx="356.9" cy="382.4" r="1.55"/>
<circle cx="357.1" cy="385.3" r="1.55"/>
<circle cx="357.3" cy="376.9" r="1.55"/>
<circle cx="357.4" cy="383.7" r="1.55"/>
<circle cx="357.6" cy="381.8" r="1.55"/>
<circle cx="357.8" cy="376.8" r="1.55"/>
<circle cx="358.0" cy="379.9" r="1.55"/>
<circle cx="358.2" cy="381.3" r="1.55"/>
<circle cx="358.4" cy="384.9" r="1.55"/>
<circle cx="358.5" cy="381.4" r="1.55"/>
<circle cx="358.7" cy="382.0" r="1.55"/>
<circle cx="358.9" cy="381.3" r="1.55"/>
<circle cx="359.1" cy="384.9" r="1.55"/>
<circle cx="359.3" cy="383.0" r="1.55"/>
<circle cx="359.5" cy="389.8" r="1.55"/>
<circle cx="359.7" cy="384.8" r="1.55"/>
<circle cx="359.8" cy="387.3" r="1.55"/>
<circle cx="360.0" cy="382.5" r="1.55"/>
<circle cx="360.2" cy="382.7" r="1.55"/>
<circle cx="360.4" cy="383.4" r="1.55"/>
<circle cx="360.6" cy="379.8" r="1.55"/>
<circle cx="360.8" cy="385.7" r="1.55"/>
<circle cx="360.9" cy="383.0" r="1.55"/>
<circle cx="361.1" cy="379.2" r="1.55"/>
<circle cx="361.3" cy="391.0" r="1.55"/>
<circle cx="361.5" cy="378.1" r="1.55"/>
<circle cx="361.7" cy="381.3" r="1.55"/>
<circle cx="361.9" cy="385.3" r="1.55"/>
<circle cx="362.1" cy="387.1" r="1.55"/>
<circle cx="362.2" cy="381.3" r="1.55"/>
<circle cx="362.4" cy="386.8" r="1.55"/>
<circle cx="362.6" cy="381.9" r="1.55"/>
<circle cx="362.8" cy="384.2" r="1.55"/>
<circle cx="363.0" cy="382.9" r="1.55"/>
<circle cx="363.2" cy="383.5" r="1.55"/>
<circle cx="363.3" cy="387.3" r="1.55"/>
<circle cx="363.5" cy="384.2" r="1.55"/>
<circle cx="363.7" cy="385.4" r="1.55"/>
<circle cx="363.9" cy="380.5" r="1.55"/>
<circle cx="364.1" cy="385.1" r="1.55"/>
<circle cx="364.3" cy="383.5" r="1.55"/>
<circle cx="364.5" cy="385.1" r="1.55"/>
<circle cx="364.6" cy="389.7" r="1.55"/>
<circle cx="364.8" cy="387.1" r="1.55"/>
<circle cx="365.0" cy="383.1" r="1.55"/>
<circle cx="365.2" cy="389.8" r="1.55"/>
<circle cx="365.4" cy="383.5" r="1.55"/>
<circle cx="365.6" cy="386.7" r="1.55"/>
<circle cx="365.7" cy="378.9" r="1.55"/>
<circle cx="365.9" cy="382.3" r="1.55"/>
<circle cx="366.1" cy="388.3" r="1.55"/>
<circle cx="366.3" cy="386.7" r="1.55"/>
<circle cx="366.5" cy="389.7" r="1.55"/>
<circle cx="366.7" cy="384.3" r="1.55"/>
<circle cx="366.8" cy="386.0" r="1.55"/>
<circle cx="367.0" cy="384.6" r="1.55"/>
<circle cx="367.2" cy="381.7" r="1.55"/>
<circle cx="367.4" cy="385.6" r="1.55"/>
<circle cx="367.6" cy="380.2" r="1.55"/>
<circle cx="367.8" cy="388.4" r="1.55"/>
<circle cx="368.0" cy="388.3" r="1.55"/>
<circle cx="368.1" cy="388.6" r="1.55"/>
<circle cx="368.3" cy="381.6" r="1.55"/>
<circle cx="368.5" cy="392.6" r="1.55"/>
<circle cx="368.7" cy="389.9" r="1.55"/>
<circle cx="368.9" cy="383.4" r="1.55"/>
<circle cx="369.1" cy="391.9" r="1.55"/>
<circle cx="369.2" cy="386.1" r="1.55"/>
<circle cx="369.4" cy="388.7" r="1.55"/>
<circle cx="369.6" cy="391.8" r="1.55"/>
<circle cx="369.8" cy="383.9" r="1.55"/>
<circle cx="370.0" cy="383.6" r="1.55"/>
<circle cx="370.2" cy="388.9" r="1.55"/>
<circle cx="370.4" cy="383.9" r="1.55"/>
<circle cx="370.5" cy="389.0" r="1.55"/>
<circle cx="370.7" cy="385.1" r="1.55"/>
<circle cx="370.9" cy="390.8" r="1.55"/>
<circle cx="371.1" cy="381.3" r="1.55"/>
<circle cx="371.3" cy="381.5" r="1.55"/>
<circle cx="371.5" cy="387.0" r="1.55"/>
<circle cx="371.6" cy="384.8" r="1.55"/>
<circle cx="371.8" cy="384.4" r="1.55"/>
<circle cx="372.0" cy="388.0" r="1.55"/>
<circle cx="372.2" cy="385.1" r="1.55"/>
<circle cx="372.4" cy="388.3" r="1.55"/>
<circle cx="372.6" cy="381.4" r="1.55"/>
<circle cx="372.8" cy="384.7" r="1.55"/>
<circle cx="372.9" cy="378.5" r="1.55"/>
<circle cx="373.1" cy="392.2" r="1.55"/>
<circle cx="373.3" cy="391.3" r="1.55"/>
<circle cx="373.5" cy="381.3" r="1.55"/>
<circle cx="373.7" cy="393.2" r="1.55"/>
<circle cx="373.9" cy="386.4" r="1.55"/>
<circle cx="374.0" cy="384.5" r="1.55"/>
<circle cx="374.2" cy="381.8" r="1.55"/>
<circle cx="374.4" cy="386.6" r="1.55"/>
<circle cx="374.6" cy="382.4" r="1.55"/>
<circle cx="374.8" cy="383.9" r="1.55"/>
<circle cx="375.0" cy="389.9" r="1.55"/>
<circle cx="375.2" cy="388.7" r="1.55"/>
<circle cx="375.3" cy="382.8" r="1.55"/>
<circle cx="375.5" cy="383.9" r="1.55"/>
<circle cx="375.7" cy="393.7" r="1.55"/>
<circle cx="375.9" cy="384.7" r="1.55"/>
<circle cx="376.1" cy="383.1" r="1.55"/>
<circle cx="376.3" cy="383.4" r="1.55"/>
<circle cx="376.4" cy="380.8" r="1.55"/>
<circle cx="376.6" cy="379.8" r="1.55"/>
<circle cx="376.8" cy="382.2" r="1.55"/>
<circle cx="377.0" cy="394.6" r="1.55"/>
<circle cx="377.2" cy="385.6" r="1.55"/>
<circle cx="377.4" cy="391.9" r="1.55"/>
<circle cx="377.6" cy="390.0" r="1.55"/>
<circle cx="377.7" cy="386.3" r="1.55"/>
<circle cx="377.9" cy="381.5" r="1.55"/>
<circle cx="378.1" cy="386.2" r="1.55"/>
<circle cx="378.3" cy="383.0" r="1.55"/>
<circle cx="378.5" cy="387.5" r="1.55"/>
<circle cx="378.7" cy="388.2" r="1.55"/>
<circle cx="378.8" cy="389.9" r="1.55"/>
<circle cx="379.0" cy="386.1" r="1.55"/>
<circle cx="379.2" cy="385.8" r="1.55"/>
<circle cx="379.4" cy="392.6" r="1.55"/>
<circle cx="379.6" cy="390.4" r="1.55"/>
<circle cx="379.8" cy="382.7" r="1.55"/>
<circle cx="379.9" cy="391.6" r="1.55"/>
<circle cx="380.1" cy="389.1" r="1.55"/>
<circle cx="380.3" cy="387.9" r="1.55"/>
<circle cx="380.5" cy="389.7" r="1.55"/>
<circle cx="380.7" cy="387.2" r="1.55"/>
<circle cx="380.9" cy="385.3" r="1.55"/>
<circle cx="381.1" cy="388.8" r="1.55"/>
<circle cx="381.2" cy="390.5" r="1.55"/>
<circle cx="381.4" cy="388.9" r="1.55"/>
<circle cx="381.6" cy="388.6" r="1.55"/>
<circle cx="381.8" cy="389.3" r="1.55"/>
<circle cx="382.0" cy="387.2" r="1.55"/>
<circle cx="382.2" cy="384.8" r="1.55"/>
<circle cx="382.3" cy="389.5" r="1.55"/>
<circle cx="382.5" cy="386.1" r="1.55"/>
<circle cx="382.7" cy="385.6" r="1.55"/>
<circle cx="382.9" cy="386.4" r="1.55"/>
<circle cx="383.1" cy="386.9" r="1.55"/>
<circle cx="383.3" cy="386.2" r="1.55"/>
<circle cx="383.5" cy="382.3" r="1.55"/>
<circle cx="383.6" cy="390.0" r="1.55"/>
<circle cx="383.8" cy="383.4" r="1.55"/>
<circle cx="384.0" cy="386.9" r="1.55"/>
<circle cx="384.2" cy="386.1" r="1.55"/>
<circle cx="384.4" cy="384.5" r="1.55"/>
<circle cx="384.6" cy="387.1" r="1.55"/>
<circle cx="384.7" cy="381.8" r="1.55"/>
<circle cx="384.9" cy="388.0" r="1.55"/>
<circle cx="385.1" cy="382.8" r="1.55"/>
<circle cx="385.3" cy="391.9" r="1.55"/>
<circle cx="385.5" cy="389.9" r="1.55"/>
<circle cx="385.7" cy="388.4" r="1.55"/>
<circle cx="385.9" cy="384.1" r="1.55"/>
<circle cx="386.0" cy="384.5" r="1.55"/>
<circle cx="386.2" cy="391.8" r="1.55"/>
<circle cx="386.4" cy="390.0" r="1.55"/>
<circle cx="386.6" cy="389.2" r="1.55"/>
<circle cx="386.8" cy="392.8" r="1.55"/>
<circle cx="387.0" cy="387.2" r="1.55"/>
<circle cx="387.1" cy="391.6" r="1.55"/>
<circle cx="387.3" cy="390.1" r="1.55"/>
<circle cx="387.5" cy="387.9" r="1.55"/>
<circle cx="387.7" cy="388.3" r="1.55"/>
<circle cx="387.9" cy="391.1" r="1.55"/>
<circle cx="388.1" cy="387.0" r="1.55"/>
<circle cx="388.3" cy="386.5" r="1.55"/>
<circle cx="388.4" cy="391.6" r="1.55"/>
<circle cx="388.6" cy="389.7" r="1.55"/>
<circle cx="388.8" cy="391.4" r="1.55"/>
<circle cx="389.0" cy="387.4" r="1.55"/>
<circle cx="389.2" cy="395.1" r="1.55"/>
<circle cx="389.4" cy="389.3" r="1.55"/>
<circle cx="389.5" cy="386.9" r="1.55"/>
<circle cx="389.7" cy="387.1" r="1.55"/>
<circle cx="389.9" cy="388.4" r="1.55"/>
<circle cx="390.1" cy="390.1" r="1.55"/>
<circle cx="390.3" cy="390.7" r="1.55"/>
<circle cx="390.5" cy="390.3" r="1.55"/>
<circle cx="390.6" cy="386.7" r="1.55"/>
<circle cx="390.8" cy="388.8" r="1.55"/>
<circle cx="391.0" cy="391.3" r="1.55"/>
<circle cx="391.2" cy="391.6" r="1.55"/>
<circle cx="391.4" cy="386.5" r="1.55"/>
<circle cx="391.6" cy="395.8" r="1.55"/>
<circle cx="391.8" cy="385.8" r="1.55"/>
<circle cx="391.9" cy="386.7" r="1.55"/>
<circle cx="392.1" cy="394.3" r="1.55"/>
<circle cx="392.3" cy="393.8" r="1.55"/>
<circle cx="392.5" cy="386.0" r="1.55"/>
<circle cx="392.7" cy="391.0" r="1.55"/>
<circle cx="392.9" cy="393.3" r="1.55"/>
<circle cx="393.0" cy="380.7" r="1.55"/>
<circle cx="393.2" cy="388.0" r="1.55"/>
<circle cx="393.4" cy="387.7" r="1.55"/>
<circle cx="393.6" cy="385.5" r="1.55"/>
<circle cx="393.8" cy="392.5" r="1.55"/>
<circle cx="394.0" cy="386.8" r="1.55"/>
<circle cx="394.2" cy="387.2" r="1.55"/>
<circle cx="394.3" cy="383.0" r="1.55"/>
<circle cx="394.5" cy="388.8" r="1.55"/>
<circle cx="394.7" cy="396.0" r="1.55"/>
<circle cx="394.9" cy="393.1" r="1.55"/>
<circle cx="395.1" cy="391.9" r="1.55"/>
<circle cx="395.3" cy="385.8" r="1.55"/>
<circle cx="395.4" cy="386.5" r="1.55"/>
<circle cx="395.6" cy="384.1" r="1.55"/>
<circle cx="395.8" cy="383.4" r="1.55"/>
<circle cx="396.0" cy="386.7" r="1.55"/>
<circle cx="396.2" cy="389.8" r="1.55"/>
<circle cx="396.4" cy="391.3" r="1.55"/>
<circle cx="396.6" cy="390.2" r="1.55"/>
<circle cx="396.7" cy="383.3" r="1.55"/>
<circle cx="396.9" cy="389.4" r="1.55"/>
<circle cx="397.1" cy="393.5" r="1.55"/>
<circle cx="397.3" cy="391.1" r="1.55"/>
<circle cx="397.5" cy="393.2" r="1.55"/>
<circle cx="397.7" cy="382.4" r="1.55"/>
<circle cx="397.8" cy="387.8" r="1.55"/>
<circle cx="398.0" cy="390.2" r="1.55"/>
<circle cx="398.2" cy="392.0" r="1.55"/>
<circle cx="398.4" cy="389.6" r="1.55"/>
<circle cx="398.6" cy="391.2" r="1.55"/>
<circle cx="398.8" cy="382.3" r="1.55"/>
<circle cx="399.0" cy="393.0" r="1.55"/>
<circle cx="399.1" cy="395.7" r="1.55"/>
<circle cx="399.3" cy="395.8" r="1.55"/>
<circle cx="399.5" cy="390.8" r="1.55"/>
<circle cx="399.7" cy="389.9" r="1.55"/>
<circle cx="399.9" cy="391.9" r="1.55"/>
<circle cx="400.1" cy="390.5" r="1.55"/>
<circle cx="400.2" cy="392.2" r="1.55"/>
<circle cx="400.4" cy="390.2" r="1.55"/>
<circle cx="400.6" cy="392.4" r="1.55"/>
<circle cx="400.8" cy="393.3" r="1.55"/>
<circle cx="401.0" cy="386.9" r="1.55"/>
<circle cx="401.2" cy="384.7" r="1.55"/>
<circle cx="401.4" cy="395.7" r="1.55"/>
<circle cx="401.5" cy="393.0" r="1.55"/>
<circle cx="401.7" cy="389.9" r="1.55"/>
<circle cx="401.9" cy="397.9" r="1.55"/>
<circle cx="402.1" cy="394.5" r="1.55"/>
<circle cx="402.3" cy="383.0" r="1.55"/>
<circle cx="402.5" cy="385.0" r="1.55"/>
<circle cx="402.6" cy="384.9" r="1.55"/>
<circle cx="402.8" cy="390.1" r="1.55"/>
<circle cx="403.0" cy="391.8" r="1.55"/>
<circle cx="403.2" cy="389.3" r="1.55"/>
<circle cx="403.4" cy="389.4" r="1.55"/>
<circle cx="403.6" cy="392.9" r="1.55"/>
<circle cx="403.7" cy="393.3" r="1.55"/>
<circle cx="403.9" cy="386.4" r="1.55"/>
<circle cx="404.1" cy="386.3" r="1.55"/>
<circle cx="404.3" cy="382.1" r="1.55"/>
<circle cx="404.5" cy="386.6" r="1.55"/>
<circle cx="404.7" cy="395.1" r="1.55"/>
<circle cx="404.9" cy="392.8" r="1.55"/>
<circle cx="405.0" cy="389.0" r="1.55"/>
<circle cx="405.2" cy="383.9" r="1.55"/>
<circle cx="405.4" cy="389.2" r="1.55"/>
<circle cx="405.6" cy="388.8" r="1.55"/>
<circle cx="405.8" cy="387.1" r="1.55"/>
<circle cx="406.0" cy="396.0" r="1.55"/>
<circle cx="406.1" cy="385.5" r="1.55"/>
<circle cx="406.3" cy="391.3" r="1.55"/>
<circle cx="406.5" cy="391.4" r="1.55"/>
<circle cx="406.7" cy="386.3" r="1.55"/>
<circle cx="406.9" cy="387.7" r="1.55"/>
<circle cx="407.1" cy="393.5" r="1.55"/>
<circle cx="407.3" cy="389.4" r="1.55"/>
<circle cx="407.4" cy="387.8" r="1.55"/>
<circle cx="407.6" cy="384.6" r="1.55"/>
<circle cx="407.8" cy="390.8" r="1.55"/>
<circle cx="408.0" cy="389.6" r="1.55"/>
<circle cx="408.2" cy="393.8" r="1.55"/>
<circle cx="408.4" cy="384.3" r="1.55"/>
<circle cx="408.5" cy="396.2" r="1.55"/>
<circle cx="408.7" cy="384.1" r="1.55"/>
<circle cx="408.9" cy="397.5" r="1.55"/>
<circle cx="409.1" cy="387.3" r="1.55"/>
<circle cx="409.3" cy="390.0" r="1.55"/>
<circle cx="409.5" cy="387.5" r="1.55"/>
<circle cx="409.7" cy="392.1" r="1.55"/>
<circle cx="409.8" cy="391.6" r="1.55"/>
<circle cx="410.0" cy="391.7" r="1.55"/>
<circle cx="410.2" cy="385.6" r="1.55"/>
<circle cx="410.4" cy="388.3" r="1.55"/>
<circle cx="410.6" cy="390.2" r="1.55"/>
<circle cx="410.8" cy="384.5" r="1.55"/>
<circle cx="410.9" cy="385.9" r="1.55"/>
<circle cx="411.1" cy="389.5" r="1.55"/>
<circle cx="411.3" cy="391.4" r="1.55"/>
<circle cx="411.5" cy="391.6" r="1.55"/>
<circle cx="411.7" cy="395.6" r="1.55"/>
<circle cx="411.9" cy="388.0" r="1.55"/>
<circle cx="412.1" cy="391.9" r="1.55"/>
<circle cx="412.2" cy="387.4" r="1.55"/>
<circle cx="412.4" cy="390.6" r="1.55"/>
<circle cx="412.6" cy="392.9" r="1.55"/>
<circle cx="412.8" cy="390.6" r="1.55"/>
<circle cx="413.0" cy="393.6" r="1.55"/>
<circle cx="413.2" cy="394.3" r="1.55"/>
<circle cx="413.3" cy="382.6" r="1.55"/>
<circle cx="413.5" cy="386.8" r="1.55"/>
<circle cx="413.7" cy="387.9" r="1.55"/>
<circle cx="413.9" cy="393.6" r="1.55"/>
<circle cx="414.1" cy="387.2" r="1.55"/>
<circle cx="414.3" cy="388.5" r="1.55"/>
<circle cx="414.5" cy="388.8" r="1.55"/>
<circle cx="414.6" cy="389.8" r="1.55"/>
<circle cx="414.8" cy="393.9" r="1.55"/>
<circle cx="415.0" cy="389.3" r="1.55"/>
<circle cx="415.2" cy="394.9" r="1.55"/>
<circle cx="415.4" cy="391.0" r="1.55"/>
<circle cx="415.6" cy="390.3" r="1.55"/>
<circle cx="415.7" cy="395.7" r="1.55"/>
<circle cx="415.9" cy="387.5" r="1.55"/>
<circle cx="416.1" cy="385.2" r="1.55"/>
<circle cx="416.3" cy="397.3" r="1.55"/>
<circle cx="416.5" cy="388.4" r="1.55"/>
<circle cx="416.7" cy="387.4" r="1.55"/>
<circle cx="416.8" cy="389.8" r="1.55"/>
<circle cx="417.0" cy="388.0" r="1.55"/>
<circle cx="417.2" cy="393.8" r="1.55"/>
<circle cx="417.4" cy="388.6" r="1.55"/>
<circle cx="417.6" cy="397.7" r="1.55"/>
<circle cx="417.8" cy="395.1" r="1.55"/>
<circle cx="418.0" cy="391.6" r="1.55"/>
<circle cx="418.1" cy="392.3" r="1.55"/>
<circle cx="418.3" cy="391.2" r="1.55"/>
<circle cx="418.5" cy="392.9" r="1.55"/>
<circle cx="418.7" cy="387.7" r="1.55"/>
<circle cx="418.9" cy="387.7" r="1.55"/>
<circle cx="419.1" cy="391.8" r="1.55"/>
<circle cx="419.2" cy="385.6" r="1.55"/>
<circle cx="419.4" cy="394.4" r="1.55"/>
<circle cx="419.6" cy="396.8" r="1.55"/>
<circle cx="419.8" cy="393.9" r="1.55"/>
<circle cx="420.0" cy="385.3" r="1.55"/>
<circle cx="420.2" cy="394.6" r="1.55"/>
<circle cx="420.4" cy="395.0" r="1.55"/>
<circle cx="420.5" cy="390.8" r="1.55"/>
<circle cx="420.7" cy="387.5" r="1.55"/>
<circle cx="420.9" cy="387.3" r="1.55"/>
<circle cx="421.1" cy="393.0" r="1.55"/>
<circle cx="421.3" cy="394.2" r="1.55"/>
<circle cx="421.5" cy="390.5" r="1.55"/>
<circle cx="421.6" cy="390.9" r="1.55"/>
<circle cx="421.8" cy="395.7" r="1.55"/>
<circle cx="422.0" cy="385.0" r="1.55"/>
<circle cx="422.2" cy="388.5" r="1.55"/>
<circle cx="422.4" cy="389.6" r="1.55"/>
<circle cx="422.6" cy="386.6" r="1.55"/>
<circle cx="422.8" cy="391.7" r="1.55"/>
<circle cx="422.9" cy="385.2" r="1.55"/>
<circle cx="423.1" cy="383.5" r="1.55"/>
<circle cx="423.3" cy="388.3" r="1.55"/>
<circle cx="423.5" cy="387.7" r="1.55"/>
<circle cx="423.7" cy="393.4" r="1.55"/>
<circle cx="423.9" cy="396.8" r="1.55"/>
<circle cx="424.0" cy="390.4" r="1.55"/>
<circle cx="424.2" cy="389.4" r="1.55"/>
<circle cx="424.4" cy="396.1" r="1.55"/>
<circle cx="424.6" cy="397.1" r="1.55"/>
<circle cx="424.8" cy="390.2" r="1.55"/>
<circle cx="425.0" cy="393.1" r="1.55"/>
<circle cx="425.2" cy="391.6" r="1.55"/>
<circle cx="425.3" cy="396.1" r="1.55"/>
<circle cx="425.5" cy="390.2" r="1.55"/>
<circle cx="425.7" cy="392.3" r="1.55"/>
<circle cx="425.9" cy="391.9" r="1.55"/>
<circle cx="426.1" cy="395.7" r="1.55"/>
<circle cx="426.3" cy="395.2" r="1.55"/>
<circle cx="426.4" cy="383.4" r="1.55"/>
<circle cx="426.6" cy="387.8" r="1.55"/>
<circle cx="426.8" cy="387.9" r="1.55"/>
<circle cx="427.0" cy="384.2" r="1.55"/>
<circle cx="427.2" cy="392.7" r="1.55"/>
<circle cx="427.4" cy="390.9" r="1.55"/>
<circle cx="427.5" cy="390.9" r="1.55"/>
<circle cx="427.7" cy="391.7" r="1.55"/>
<circle cx="427.9" cy="390.1" r="1.55"/>
<circle cx="428.1" cy="390.5" r="1.55"/>
<circle cx="428.3" cy="388.5" r="1.55"/>
<circle cx="428.5" cy="384.9" r="1.55"/>
<circle cx="428.7" cy="387.0" r="1.55"/>
<circle cx="428.8" cy="385.9" r="1.55"/>
<circle cx="429.0" cy="393.0" r="1.55"/>
<circle cx="429.2" cy="385.1" r="1.55"/>
<circle cx="429.4" cy="386.3" r="1.55"/>
<circle cx="429.6" cy="391.8" r="1.55"/>
<circle cx="429.8" cy="394.4" r="1.55"/>
<circle cx="429.9" cy="396.3" r="1.55"/>
<circle cx="430.1" cy="391.9" r="1.55"/>
<circle cx="430.3" cy="391.5" r="1.55"/>
<circle cx="430.5" cy="391.4" r="1.55"/>
<circle cx="430.7" cy="393.8" r="1.55"/>
<circle cx="430.9" cy="390.4" r="1.55"/>
<circle cx="431.1" cy="390.3" r="1.55"/>
<circle cx="431.2" cy="394.0" r="1.55"/>
<circle cx="431.4" cy="388.9" r="1.55"/>
<circle cx="431.6" cy="398.8" r="1.55"/>
<circle cx="431.8" cy="383.7" r="1.55"/>
<circle cx="432.0" cy="389.5" r="1.55"/>
<circle cx="432.2" cy="387.6" r="1.55"/>
<circle cx="432.3" cy="396.0" r="1.55"/>
<circle cx="432.5" cy="390.3" r="1.55"/>
<circle cx="432.7" cy="391.4" r="1.55"/>
<circle cx="432.9" cy="387.5" r="1.55"/>
<circle cx="433.1" cy="389.7" r="1.55"/>
<circle cx="433.3" cy="394.4" r="1.55"/>
<circle cx="433.5" cy="393.5" r="1.55"/>
<circle cx="433.6" cy="387.1" r="1.55"/>
<circle cx="433.8" cy="394.5" r="1.55"/>
<circle cx="434.0" cy="387.8" r="1.55"/>
<circle cx="434.2" cy="388.0" r="1.55"/>
<circle cx="434.4" cy="389.9" r="1.55"/>
<circle cx="434.6" cy="385.1" r="1.55"/>
<circle cx="434.7" cy="393.9" r="1.55"/>
<circle cx="434.9" cy="393.9" r="1.55"/>
<circle cx="435.1" cy="395.8" r="1.55"/>
<circle cx="435.3" cy="389.5" r="1.55"/>
<circle cx="435.5" cy="392.8" r="1.55"/>
<circle cx="435.7" cy="393.3" r="1.55"/>
<circle cx="435.9" cy="387.8" r="1.55"/>
<circle cx="436.0" cy="385.6" r="1.55"/>
<circle cx="436.2" cy="387.8" r="1.55"/>
<circle cx="436.4" cy="398.2" r="1.55"/>
<circle cx="436.6" cy="392.4" r="1.55"/>
<circle cx="436.8" cy="393.1" r="1.55"/>
<circle cx="437.0" cy="392.9" r="1.55"/>
<circle cx="437.1" cy="390.6" r="1.55"/>
<circle cx="437.3" cy="396.1" r="1.55"/>
<circle cx="437.5" cy="386.5" r="1.55"/>
<circle cx="437.7" cy="396.3" r="1.55"/>
<circle cx="437.9" cy="396.6" r="1.55"/>
<circle cx="438.1" cy="390.4" r="1.55"/>
<circle cx="438.3" cy="383.7" r="1.55"/>
<circle cx="438.4" cy="391.9" r="1.55"/>
<circle cx="438.6" cy="392.2" r="1.55"/>
<circle cx="438.8" cy="385.2" r="1.55"/>
<circle cx="439.0" cy="392.3" r="1.55"/>
<circle cx="439.2" cy="387.6" r="1.55"/>
<circle cx="439.4" cy="388.8" r="1.55"/>
<circle cx="439.5" cy="393.9" r="1.55"/>
<circle cx="439.7" cy="387.9" r="1.55"/>
<circle cx="439.9" cy="394.2" r="1.55"/>
<circle cx="440.1" cy="392.7" r="1.55"/>
<circle cx="440.3" cy="392.7" r="1.55"/>
<circle cx="440.5" cy="389.2" r="1.55"/>
<circle cx="440.6" cy="388.9" r="1.55"/>
<circle cx="440.8" cy="385.2" r="1.55"/>
<circle cx="441.0" cy="390.8" r="1.55"/>
<circle cx="441.2" cy="398.5" r="1.55"/>
<circle cx="441.4" cy="396.2" r="1.55"/>
<circle cx="441.6" cy="393.8" r="1.55"/>
<circle cx="441.8" cy="387.5" r="1.55"/>
<circle cx="441.9" cy="397.5" r="1.55"/>
<circle cx="442.1" cy="395.4" r="1.55"/>
<circle cx="442.3" cy="393.8" r="1.55"/>
<circle cx="442.5" cy="388.3" r="1.55"/>
<circle cx="442.7" cy="388.1" r="1.55"/>
<circle cx="442.9" cy="393.7" r="1.55"/>
<circle cx="443.0" cy="386.8" r="1.55"/>
<circle cx="443.2" cy="389.6" r="1.55"/>
<circle cx="443.4" cy="393.1" r="1.55"/>
<circle cx="443.6" cy="398.6" r="1.55"/>
<circle cx="443.8" cy="390.5" r="1.55"/>
<circle cx="444.0" cy="390.1" r="1.55"/>
<circle cx="444.2" cy="393.6" r="1.55"/>
<circle cx="444.3" cy="389.9" r="1.55"/>
<circle cx="444.5" cy="393.6" r="1.55"/>
<circle cx="444.7" cy="389.9" r="1.55"/>
<circle cx="444.9" cy="393.6" r="1.55"/>
<circle cx="445.1" cy="398.1" r="1.55"/>
<circle cx="445.3" cy="392.2" r="1.55"/>
<circle cx="445.4" cy="387.7" r="1.55"/>
<circle cx="445.6" cy="390.5" r="1.55"/>
<circle cx="445.8" cy="392.6" r="1.55"/>
<circle cx="446.0" cy="394.7" r="1.55"/>
<circle cx="446.2" cy="392.8" r="1.55"/>
<circle cx="446.4" cy="394.4" r="1.55"/>
<circle cx="446.6" cy="392.5" r="1.55"/>
<circle cx="446.7" cy="385.8" r="1.55"/>
<circle cx="446.9" cy="391.8" r="1.55"/>
<circle cx="447.1" cy="385.7" r="1.55"/>
</g>
<path d="M277.9,301.4 L278.4,303.6 L278.9,305.7 L279.4,307.7 L279.9,309.5 L280.5,311.3 L281.0,312.9 L281.5,314.5 L282.0,315.9 L282.5,317.3 L283.0,318.5 L283.5,319.6 L284.1,320.7 L284.6,321.7 L285.1,322.7 L285.6,323.8 L286.1,324.9 L286.6,326.0 L287.1,327.1 L287.6,328.1 L288.1,329.2 L288.7,330.3 L289.2,331.3 L289.7,332.3 L290.2,333.3 L290.7,334.2 L291.2,335.1 L291.7,336.0 L292.2,336.8 L292.8,337.6 L293.3,338.4 L293.8,339.2 L294.3,340.0 L294.8,340.7 L295.3,341.4 L295.8,342.2 L296.4,342.9 L296.9,343.6 L297.4,344.2 L297.9,344.9 L298.4,345.5 L298.9,346.2 L299.4,346.8 L299.9,347.4 L300.4,347.9 L301.0,348.5 L301.5,349.0 L302.0,349.6 L302.5,350.1 L303.0,350.6 L303.5,351.1 L304.0,351.6 L304.6,352.1 L305.1,352.5 L305.6,353.0 L306.1,353.5 L306.6,353.9 L307.1,354.3 L307.6,354.8 L308.1,355.2 L308.6,355.6 L309.2,356.0 L309.7,356.4 L310.2,356.8 L310.7,357.2 L311.2,357.6 L311.7,358.0 L312.2,358.4 L312.8,358.8 L313.3,359.2 L313.8,359.5 L314.3,359.9 L314.8,360.3 L315.3,360.6 L315.8,361.0 L316.3,361.3 L316.9,361.7 L317.4,362.0 L317.9,362.3 L318.4,362.7 L318.9,363.0 L319.4,363.3 L319.9,363.6 L320.4,364.0 L320.9,364.3 L321.5,364.6 L322.0,364.9 L322.5,365.2 L323.0,365.5 L323.5,365.8 L324.0,366.1 L324.5,366.4 L325.1,366.7 L325.6,367.0 L326.1,367.3 L326.6,367.6 L327.1,368.0 L327.6,368.3 L328.1,368.6 L328.6,368.9 L329.1,369.2 L329.7,369.5 L330.2,369.9 L330.7,370.2 L331.2,370.5 L331.7,370.8 L332.2,371.1 L332.7,371.5 L333.2,371.8 L333.8,372.1 L334.3,372.4 L334.8,372.8 L335.3,373.1 L335.8,373.4 L336.3,373.7 L336.8,374.0 L337.4,374.3 L337.9,374.6 L338.4,374.9 L338.9,375.2 L339.4,375.5 L339.9,375.8 L340.4,376.1 L340.9,376.4 L341.4,376.7 L342.0,377.0 L342.5,377.2 L343.0,377.5 L343.5,377.7 L344.0,378.0 L344.5,378.2 L345.0,378.5 L345.6,378.7 L346.1,378.9 L346.6,379.1 L347.1,379.4 L347.6,379.6 L348.1,379.8 L348.6,380.0 L349.1,380.1 L349.6,380.3 L350.2,380.5 L350.7,380.7 L351.2,380.9 L351.7,381.1 L352.2,381.3 L352.7,381.4 L353.2,381.6 L353.8,381.8 L354.3,381.9 L354.8,382.1 L355.3,382.3 L355.8,382.4 L356.3,382.6 L356.8,382.7 L357.3,382.9 L357.9,383.0 L358.4,383.2 L358.9,383.3 L359.4,383.5 L359.9,383.6 L360.4,383.7 L360.9,383.9 L361.4,384.0 L361.9,384.1 L362.5,384.3 L363.0,384.4 L363.5,384.5 L364.0,384.6 L364.5,384.7 L365.0,384.8 L365.5,384.9 L366.1,385.1 L366.6,385.2 L367.1,385.3 L367.6,385.4 L368.1,385.5 L368.6,385.6 L369.1,385.7 L369.6,385.8 L370.1,385.9 L370.7,385.9 L371.2,386.0 L371.7,386.1 L372.2,386.2 L372.7,386.3 L373.2,386.4 L373.7,386.5 L374.2,386.6 L374.8,386.6 L375.3,386.7 L375.8,386.8 L376.3,386.9 L376.8,387.0 L377.3,387.0 L377.8,387.1 L378.4,387.2 L378.9,387.3 L379.4,387.3 L379.9,387.4 L380.4,387.5 L380.9,387.5 L381.4,387.6 L381.9,387.7 L382.4,387.7 L383.0,387.8 L383.5,387.8 L384.0,387.9 L384.5,388.0 L385.0,388.0 L385.5,388.1 L386.0,388.1 L386.5,388.2 L387.1,388.2 L387.6,388.3 L388.1,388.4 L388.6,388.4 L389.1,388.5 L389.6,388.5 L390.1,388.6 L390.6,388.6 L391.2,388.7 L391.7,388.7 L392.2,388.8 L392.7,388.8 L393.2,388.9 L393.7,388.9 L394.2,388.9 L394.8,389.0 L395.3,389.0 L395.8,389.1 L396.3,389.1 L396.8,389.2 L397.3,389.2 L397.8,389.2 L398.3,389.3 L398.9,389.3 L399.4,389.4 L399.9,389.4 L400.4,389.4 L400.9,389.5 L401.4,389.5 L401.9,389.6 L402.4,389.6 L402.9,389.6 L403.5,389.7 L404.0,389.7 L404.5,389.8 L405.0,389.8 L405.5,389.8 L406.0,389.9 L406.5,389.9 L407.0,389.9 L407.6,390.0 L408.1,390.0 L408.6,390.0 L409.1,390.1 L409.6,390.1 L410.1,390.1 L410.6,390.2 L411.1,390.2 L411.7,390.2 L412.2,390.3 L412.7,390.3 L413.2,390.3 L413.7,390.4 L414.2,390.4 L414.7,390.4 L415.2,390.4 L415.8,390.4 L416.3,390.5 L416.8,390.5 L417.3,390.5 L417.8,390.5 L418.3,390.5 L418.8,390.6 L419.4,390.6 L419.9,390.6 L420.4,390.6 L420.9,390.6 L421.4,390.6 L421.9,390.7 L422.4,390.7 L422.9,390.7 L423.4,390.7 L424.0,390.7 L424.5,390.7 L425.0,390.8 L425.5,390.8 L426.0,390.8 L426.5,390.8 L427.0,390.8 L427.5,390.8 L428.1,390.9 L428.6,390.9 L429.1,390.9 L429.6,390.9 L430.1,390.9 L430.6,390.9 L431.1,390.9 L431.6,391.0 L432.2,391.0 L432.7,391.0 L433.2,391.0 L433.7,391.0 L434.2,391.0 L434.7,391.0 L435.2,391.0 L435.8,391.1 L436.3,391.1 L436.8,391.1 L437.3,391.1 L437.8,391.1 L438.3,391.1 L438.8,391.1 L439.3,391.1 L439.9,391.1 L440.4,391.1 L440.9,391.1 L441.4,391.1 L441.9,391.2 L442.4,391.2 L442.9,391.2 L443.4,391.2 L443.9,391.2 L444.5,391.2 L445.0,391.2 L445.5,391.2 L446.0,391.2 L446.5,391.2" fill="none" stroke="#f6a5c8" stroke-width="2.0" stroke-linejoin="round"/>
<rect x="261.5" y="290.5" width="187.0" height="150.0" fill="none" stroke="#111" stroke-width="1.35"/>
<line x1="258.5" y1="429.8" x2="261.5" y2="429.8" stroke="#111" stroke-width="1.2"/>
<text x="256.1" y="432.7" font-size="9.6" font-weight="bold" stroke="#000" stroke-width="0.3" text-anchor="end">10<tspan font-size="7" dy="-4.2" stroke-width="0.15">0</tspan></text>
<line x1="258.5" y1="395.925" x2="261.5" y2="395.925" stroke="#111" stroke-width="1.2"/>
<text x="256.1" y="398.8" font-size="9.6" font-weight="bold" stroke="#000" stroke-width="0.3" text-anchor="end">10<tspan font-size="7" dy="-4.2" stroke-width="0.15">1</tspan></text>
<line x1="258.5" y1="362.05" x2="261.5" y2="362.05" stroke="#111" stroke-width="1.2"/>
<text x="256.1" y="364.9" font-size="9.6" font-weight="bold" stroke="#000" stroke-width="0.3" text-anchor="end">10<tspan font-size="7" dy="-4.2" stroke-width="0.15">2</tspan></text>
<line x1="258.5" y1="328.175" x2="261.5" y2="328.175" stroke="#111" stroke-width="1.2"/>
<text x="256.1" y="331.1" font-size="9.6" font-weight="bold" stroke="#000" stroke-width="0.3" text-anchor="end">10<tspan font-size="7" dy="-4.2" stroke-width="0.15">3</tspan></text>
<line x1="258.5" y1="294.3" x2="261.5" y2="294.3" stroke="#111" stroke-width="1.2"/>
<text x="256.1" y="297.2" font-size="9.6" font-weight="bold" stroke="#000" stroke-width="0.3" text-anchor="end">10<tspan font-size="7" dy="-4.2" stroke-width="0.15">4</tspan></text>
<line x1="282.0" y1="440.5" x2="282.0" y2="444.0" stroke="#111" stroke-width="1.2"/>
<text x="282.0" y="453.8" font-size="10" font-weight="bold" fill="#000" stroke="#000" stroke-width="0.35" text-anchor="middle" >20</text>
<line x1="261.5" y1="440.5" x2="261.5" y2="442.5" stroke="#111" stroke-width="1.2"/>
<line x1="323.0" y1="440.5" x2="323.0" y2="444.0" stroke="#111" stroke-width="1.2"/>
<text x="323.0" y="453.8" font-size="10" font-weight="bold" fill="#000" stroke="#000" stroke-width="0.35" text-anchor="middle" >40</text>
<line x1="302.5" y1="440.5" x2="302.5" y2="442.5" stroke="#111" stroke-width="1.2"/>
<line x1="364.0" y1="440.5" x2="364.0" y2="444.0" stroke="#111" stroke-width="1.2"/>
<text x="364.0" y="453.8" font-size="10" font-weight="bold" fill="#000" stroke="#000" stroke-width="0.35" text-anchor="middle" >60</text>
<line x1="343.5" y1="440.5" x2="343.5" y2="442.5" stroke="#111" stroke-width="1.2"/>
<line x1="405.0" y1="440.5" x2="405.0" y2="444.0" stroke="#111" stroke-width="1.2"/>
<text x="405.0" y="453.8" font-size="10" font-weight="bold" fill="#000" stroke="#000" stroke-width="0.35" text-anchor="middle" >80</text>
<line x1="384.5" y1="440.5" x2="384.5" y2="442.5" stroke="#111" stroke-width="1.2"/>
<line x1="446.0" y1="440.5" x2="446.0" y2="444.0" stroke="#111" stroke-width="1.2"/>
<text x="446.0" y="453.8" font-size="10" font-weight="bold" fill="#000" stroke="#000" stroke-width="0.35" text-anchor="middle" >100</text>
<line x1="425.5" y1="440.5" x2="425.5" y2="442.5" stroke="#111" stroke-width="1.2"/>
<circle cx="378" cy="296.8" r="1.6" fill="#d8b4f8" stroke="#b886f0" stroke-width="0.6"/>
<circle cx="378" cy="307.3" r="1.1" fill="#f6a5c8"/>
<text x="386.7" y="299.5" font-size="7.2" font-weight="bold" fill="#000"  text-anchor="start" >3Abf-Ofn-469 nm</text>
<text x="386.7" y="309.9" font-size="7.2" font-weight="bold" fill="#000"  text-anchor="start" >Fitting</text>
<text x="385.5" y="320.1" font-size="7.2" font-weight="bold">τ=4.80 ns</text>
<text x="0" y="0" transform="translate(241.3,365.3) rotate(-90)" font-size="15.3" font-weight="bold" fill="#000" stroke="#000" stroke-width="0.35" text-anchor="middle">Counts</text>
<text x="352.8" y="471.8" font-size="15.8" font-weight="bold" fill="#000" stroke="#000" stroke-width="0.35" text-anchor="middle" >Time (ns)</text>
<text x="230.4" y="281" font-size="14.5" font-weight="bold" fill="#000" stroke="#000" stroke-width="0.35" text-anchor="start" >f</text>
<g fill="#b0bcf8" stroke="#8a9cf2" stroke-width="0.6">
<circle cx="495.0" cy="381.6" r="1.55"/>
<circle cx="495.3" cy="383.3" r="1.55"/>
<circle cx="495.7" cy="393.1" r="1.55"/>
<circle cx="495.7" cy="393.7" r="1.55"/>
<circle cx="496.0" cy="381.9" r="1.55"/>
<circle cx="496.2" cy="384.4" r="1.55"/>
<circle cx="496.3" cy="386.2" r="1.55"/>
<circle cx="496.6" cy="377.9" r="1.55"/>
<circle cx="497.1" cy="382.1" r="1.55"/>
<circle cx="497.2" cy="383.8" r="1.55"/>
<circle cx="497.5" cy="388.7" r="1.55"/>
<circle cx="497.7" cy="387.5" r="1.55"/>
<circle cx="497.9" cy="390.0" r="1.55"/>
<circle cx="498.2" cy="390.6" r="1.55"/>
<circle cx="498.5" cy="395.1" r="1.55"/>
<circle cx="498.8" cy="390.1" r="1.55"/>
<circle cx="498.9" cy="393.8" r="1.55"/>
<circle cx="499.2" cy="388.2" r="1.55"/>
<circle cx="499.5" cy="389.7" r="1.55"/>
<circle cx="499.7" cy="377.7" r="1.55"/>
<circle cx="500.0" cy="389.9" r="1.55"/>
<circle cx="500.3" cy="387.6" r="1.55"/>
<circle cx="500.5" cy="383.8" r="1.55"/>
<circle cx="500.6" cy="396.7" r="1.55"/>
<circle cx="500.9" cy="384.1" r="1.55"/>
<circle cx="501.1" cy="384.7" r="1.55"/>
<circle cx="501.5" cy="389.7" r="1.55"/>
<circle cx="501.8" cy="378.7" r="1.55"/>
<circle cx="502.0" cy="381.0" r="1.55"/>
<circle cx="502.3" cy="375.5" r="1.55"/>
<circle cx="502.4" cy="386.9" r="1.55"/>
<circle cx="495.8" cy="430.3" r="1.55"/>
<circle cx="495.8" cy="418.4" r="1.55"/>
<circle cx="495.9" cy="406.6" r="1.55"/>
<circle cx="502.8" cy="379.5" r="1.55"/>
<circle cx="502.6" cy="376.1" r="1.55"/>
<circle cx="502.5" cy="372.7" r="1.55"/>
<circle cx="502.6" cy="369.3" r="1.55"/>
<circle cx="502.8" cy="365.9" r="1.55"/>
<circle cx="502.8" cy="362.6" r="1.55"/>
<circle cx="502.6" cy="359.2" r="1.55"/>
<circle cx="502.6" cy="355.8" r="1.55"/>
<circle cx="502.8" cy="352.4" r="1.55"/>
<circle cx="502.9" cy="349.0" r="1.55"/>
<circle cx="502.9" cy="345.6" r="1.55"/>
<circle cx="503.1" cy="342.2" r="1.55"/>
<circle cx="503.2" cy="338.8" r="1.55"/>
<circle cx="503.1" cy="335.4" r="1.55"/>
<circle cx="503.2" cy="332.1" r="1.55"/>
<circle cx="503.1" cy="328.7" r="1.55"/>
<circle cx="503.2" cy="325.3" r="1.55"/>
<circle cx="503.6" cy="321.9" r="1.55"/>
<circle cx="503.9" cy="318.5" r="1.55"/>
<circle cx="504.2" cy="315.1" r="1.55"/>
<circle cx="504.5" cy="311.7" r="1.55"/>
<circle cx="505.0" cy="308.3" r="1.55"/>
<circle cx="505.7" cy="305.0" r="1.55"/>
<circle cx="507.1" cy="303.3" r="1.55"/>
<circle cx="507.3" cy="304.1" r="1.55"/>
<circle cx="507.5" cy="305.5" r="1.55"/>
<circle cx="507.7" cy="305.8" r="1.55"/>
<circle cx="507.8" cy="306.9" r="1.55"/>
<circle cx="508.0" cy="307.4" r="1.55"/>
<circle cx="508.2" cy="307.7" r="1.55"/>
<circle cx="508.4" cy="308.2" r="1.55"/>
<circle cx="508.6" cy="309.3" r="1.55"/>
<circle cx="508.8" cy="310.9" r="1.55"/>
<circle cx="508.9" cy="312.0" r="1.55"/>
<circle cx="509.1" cy="312.2" r="1.55"/>
<circle cx="509.3" cy="312.9" r="1.55"/>
<circle cx="509.5" cy="313.2" r="1.55"/>
<circle cx="509.7" cy="314.4" r="1.55"/>
<circle cx="509.9" cy="315.2" r="1.55"/>
<circle cx="510.1" cy="316.2" r="1.55"/>
<circle cx="510.2" cy="317.7" r="1.55"/>
<circle cx="510.4" cy="317.7" r="1.55"/>
<circle cx="510.6" cy="319.3" r="1.55"/>
<circle cx="510.8" cy="320.2" r="1.55"/>
<circle cx="511.0" cy="319.4" r="1.55"/>
<circle cx="511.2" cy="321.5" r="1.55"/>
<circle cx="511.3" cy="321.3" r="1.55"/>
<circle cx="511.5" cy="322.0" r="1.55"/>
<circle cx="511.7" cy="324.2" r="1.55"/>
<circle cx="511.9" cy="324.0" r="1.55"/>
<circle cx="512.1" cy="325.2" r="1.55"/>
<circle cx="512.3" cy="326.0" r="1.55"/>
<circle cx="512.5" cy="325.9" r="1.55"/>
<circle cx="512.6" cy="326.7" r="1.55"/>
<circle cx="512.8" cy="327.3" r="1.55"/>
<circle cx="513.0" cy="327.9" r="1.55"/>
<circle cx="513.2" cy="329.0" r="1.55"/>
<circle cx="513.4" cy="329.1" r="1.55"/>
<circle cx="513.6" cy="329.7" r="1.55"/>
<circle cx="513.7" cy="331.5" r="1.55"/>
<circle cx="513.9" cy="331.9" r="1.55"/>
<circle cx="514.1" cy="331.1" r="1.55"/>
<circle cx="514.3" cy="332.3" r="1.55"/>
<circle cx="514.5" cy="333.2" r="1.55"/>
<circle cx="514.7" cy="333.1" r="1.55"/>
<circle cx="514.9" cy="333.0" r="1.55"/>
<circle cx="515.0" cy="334.5" r="1.55"/>
<circle cx="515.2" cy="334.7" r="1.55"/>
<circle cx="515.4" cy="335.5" r="1.55"/>
<circle cx="515.6" cy="335.9" r="1.55"/>
<circle cx="515.8" cy="334.9" r="1.55"/>
<circle cx="516.0" cy="336.2" r="1.55"/>
<circle cx="516.1" cy="335.8" r="1.55"/>
<circle cx="516.3" cy="337.8" r="1.55"/>
<circle cx="516.5" cy="338.5" r="1.55"/>
<circle cx="516.7" cy="338.1" r="1.55"/>
<circle cx="516.9" cy="338.1" r="1.55"/>
<circle cx="517.1" cy="338.5" r="1.55"/>
<circle cx="517.3" cy="338.3" r="1.55"/>
<circle cx="517.4" cy="339.1" r="1.55"/>
<circle cx="517.6" cy="339.6" r="1.55"/>
<circle cx="517.8" cy="340.9" r="1.55"/>
<circle cx="518.0" cy="339.9" r="1.55"/>
<circle cx="518.2" cy="340.4" r="1.55"/>
<circle cx="518.4" cy="340.1" r="1.55"/>
<circle cx="518.5" cy="341.5" r="1.55"/>
<circle cx="518.7" cy="341.0" r="1.55"/>
<circle cx="518.9" cy="341.2" r="1.55"/>
<circle cx="519.1" cy="341.8" r="1.55"/>
<circle cx="519.3" cy="343.3" r="1.55"/>
<circle cx="519.5" cy="344.3" r="1.55"/>
<circle cx="519.7" cy="344.3" r="1.55"/>
<circle cx="519.8" cy="342.9" r="1.55"/>
<circle cx="520.0" cy="343.5" r="1.55"/>
<circle cx="520.2" cy="344.8" r="1.55"/>
<circle cx="520.4" cy="344.7" r="1.55"/>
<circle cx="520.6" cy="345.4" r="1.55"/>
<circle cx="520.8" cy="345.6" r="1.55"/>
<circle cx="520.9" cy="344.9" r="1.55"/>
<circle cx="521.1" cy="347.1" r="1.55"/>
<circle cx="521.3" cy="346.2" r="1.55"/>
<circle cx="521.5" cy="348.2" r="1.55"/>
<circle cx="521.7" cy="347.8" r="1.55"/>
<circle cx="521.9" cy="348.9" r="1.55"/>
<circle cx="522.0" cy="346.4" r="1.55"/>
<circle cx="522.2" cy="348.6" r="1.55"/>
<circle cx="522.4" cy="348.8" r="1.55"/>
<circle cx="522.6" cy="347.5" r="1.55"/>
<circle cx="522.8" cy="348.6" r="1.55"/>
<circle cx="523.0" cy="348.1" r="1.55"/>
<circle cx="523.2" cy="350.4" r="1.55"/>
<circle cx="523.3" cy="348.9" r="1.55"/>
<circle cx="523.5" cy="349.4" r="1.55"/>
<circle cx="523.7" cy="349.5" r="1.55"/>
<circle cx="523.9" cy="349.4" r="1.55"/>
<circle cx="524.1" cy="349.6" r="1.55"/>
<circle cx="524.3" cy="350.0" r="1.55"/>
<circle cx="524.4" cy="351.6" r="1.55"/>
<circle cx="524.6" cy="350.2" r="1.55"/>
<circle cx="524.8" cy="352.3" r="1.55"/>
<circle cx="525.0" cy="351.8" r="1.55"/>
<circle cx="525.2" cy="352.8" r="1.55"/>
<circle cx="525.4" cy="353.6" r="1.55"/>
<circle cx="525.6" cy="352.3" r="1.55"/>
<circle cx="525.7" cy="352.4" r="1.55"/>
<circle cx="525.9" cy="351.9" r="1.55"/>
<circle cx="526.1" cy="354.1" r="1.55"/>
<circle cx="526.3" cy="354.8" r="1.55"/>
<circle cx="526.5" cy="355.2" r="1.55"/>
<circle cx="526.7" cy="354.3" r="1.55"/>
<circle cx="526.8" cy="353.4" r="1.55"/>
<circle cx="527.0" cy="355.5" r="1.55"/>
<circle cx="527.2" cy="355.3" r="1.55"/>
<circle cx="527.4" cy="356.5" r="1.55"/>
<circle cx="527.6" cy="355.7" r="1.55"/>
<circle cx="527.8" cy="354.2" r="1.55"/>
<circle cx="528.0" cy="357.4" r="1.55"/>
<circle cx="528.1" cy="356.5" r="1.55"/>
<circle cx="528.3" cy="356.1" r="1.55"/>
<circle cx="528.5" cy="356.4" r="1.55"/>
<circle cx="528.7" cy="357.2" r="1.55"/>
<circle cx="528.9" cy="355.9" r="1.55"/>
<circle cx="529.1" cy="358.0" r="1.55"/>
<circle cx="529.2" cy="359.0" r="1.55"/>
<circle cx="529.4" cy="358.6" r="1.55"/>
<circle cx="529.6" cy="358.4" r="1.55"/>
<circle cx="529.8" cy="358.5" r="1.55"/>
<circle cx="530.0" cy="357.5" r="1.55"/>
<circle cx="530.2" cy="360.5" r="1.55"/>
<circle cx="530.4" cy="358.1" r="1.55"/>
<circle cx="530.5" cy="358.7" r="1.55"/>
<circle cx="530.7" cy="359.9" r="1.55"/>
<circle cx="530.9" cy="360.0" r="1.55"/>
<circle cx="531.1" cy="360.6" r="1.55"/>
<circle cx="531.3" cy="361.0" r="1.55"/>
<circle cx="531.5" cy="359.1" r="1.55"/>
<circle cx="531.6" cy="361.8" r="1.55"/>
<circle cx="531.8" cy="362.4" r="1.55"/>
<circle cx="532.0" cy="361.0" r="1.55"/>
<circle cx="532.2" cy="361.7" r="1.55"/>
<circle cx="532.4" cy="362.5" r="1.55"/>
<circle cx="532.6" cy="361.8" r="1.55"/>
<circle cx="532.8" cy="361.2" r="1.55"/>
<circle cx="532.9" cy="364.0" r="1.55"/>
<circle cx="533.1" cy="362.6" r="1.55"/>
<circle cx="533.3" cy="363.3" r="1.55"/>
<circle cx="533.5" cy="363.8" r="1.55"/>
<circle cx="533.7" cy="365.4" r="1.55"/>
<circle cx="533.9" cy="363.6" r="1.55"/>
<circle cx="534.0" cy="362.4" r="1.55"/>
<circle cx="534.2" cy="363.8" r="1.55"/>
<circle cx="534.4" cy="364.0" r="1.55"/>
<circle cx="534.6" cy="366.3" r="1.55"/>
<circle cx="534.8" cy="366.6" r="1.55"/>
<circle cx="535.0" cy="365.7" r="1.55"/>
<circle cx="535.1" cy="366.0" r="1.55"/>
<circle cx="535.3" cy="365.4" r="1.55"/>
<circle cx="535.5" cy="367.1" r="1.55"/>
<circle cx="535.7" cy="366.5" r="1.55"/>
<circle cx="535.9" cy="365.7" r="1.55"/>
<circle cx="536.1" cy="366.7" r="1.55"/>
<circle cx="536.3" cy="365.3" r="1.55"/>
<circle cx="536.4" cy="366.9" r="1.55"/>
<circle cx="536.6" cy="367.4" r="1.55"/>
<circle cx="536.8" cy="367.7" r="1.55"/>
<circle cx="537.0" cy="366.6" r="1.55"/>
<circle cx="537.2" cy="368.0" r="1.55"/>
<circle cx="537.4" cy="366.0" r="1.55"/>
<circle cx="537.5" cy="369.7" r="1.55"/>
<circle cx="537.7" cy="368.7" r="1.55"/>
<circle cx="537.9" cy="367.4" r="1.55"/>
<circle cx="538.1" cy="370.4" r="1.55"/>
<circle cx="538.3" cy="370.1" r="1.55"/>
<circle cx="538.5" cy="369.5" r="1.55"/>
<circle cx="538.7" cy="369.0" r="1.55"/>
<circle cx="538.8" cy="369.0" r="1.55"/>
<circle cx="539.0" cy="370.7" r="1.55"/>
<circle cx="539.2" cy="370.5" r="1.55"/>
<circle cx="539.4" cy="369.6" r="1.55"/>
<circle cx="539.6" cy="369.0" r="1.55"/>
<circle cx="539.8" cy="369.6" r="1.55"/>
<circle cx="539.9" cy="371.7" r="1.55"/>
<circle cx="540.1" cy="371.0" r="1.55"/>
<circle cx="540.3" cy="371.8" r="1.55"/>
<circle cx="540.5" cy="370.3" r="1.55"/>
<circle cx="540.7" cy="369.5" r="1.55"/>
<circle cx="540.9" cy="371.0" r="1.55"/>
<circle cx="541.1" cy="371.9" r="1.55"/>
<circle cx="541.2" cy="371.3" r="1.55"/>
<circle cx="541.4" cy="371.7" r="1.55"/>
<circle cx="541.6" cy="369.9" r="1.55"/>
<circle cx="541.8" cy="371.4" r="1.55"/>
<circle cx="542.0" cy="370.2" r="1.55"/>
<circle cx="542.2" cy="372.8" r="1.55"/>
<circle cx="542.3" cy="370.5" r="1.55"/>
<circle cx="542.5" cy="370.9" r="1.55"/>
<circle cx="542.7" cy="375.1" r="1.55"/>
<circle cx="542.9" cy="371.2" r="1.55"/>
<circle cx="543.1" cy="370.0" r="1.55"/>
<circle cx="543.3" cy="371.8" r="1.55"/>
<circle cx="543.5" cy="372.8" r="1.55"/>
<circle cx="543.6" cy="372.7" r="1.55"/>
<circle cx="543.8" cy="373.9" r="1.55"/>
<circle cx="544.0" cy="374.7" r="1.55"/>
<circle cx="544.2" cy="373.1" r="1.55"/>
<circle cx="544.4" cy="373.8" r="1.55"/>
<circle cx="544.6" cy="376.0" r="1.55"/>
<circle cx="544.7" cy="372.8" r="1.55"/>
<circle cx="544.9" cy="372.1" r="1.55"/>
<circle cx="545.1" cy="372.0" r="1.55"/>
<circle cx="545.3" cy="373.3" r="1.55"/>
<circle cx="545.5" cy="375.5" r="1.55"/>
<circle cx="545.7" cy="371.5" r="1.55"/>
<circle cx="545.8" cy="371.7" r="1.55"/>
<circle cx="546.0" cy="377.1" r="1.55"/>
<circle cx="546.2" cy="376.1" r="1.55"/>
<circle cx="546.4" cy="375.3" r="1.55"/>
<circle cx="546.6" cy="375.7" r="1.55"/>
<circle cx="546.8" cy="373.0" r="1.55"/>
<circle cx="547.0" cy="374.3" r="1.55"/>
<circle cx="547.1" cy="376.0" r="1.55"/>
<circle cx="547.3" cy="374.8" r="1.55"/>
<circle cx="547.5" cy="375.9" r="1.55"/>
<circle cx="547.7" cy="378.3" r="1.55"/>
<circle cx="547.9" cy="376.3" r="1.55"/>
<circle cx="548.1" cy="378.1" r="1.55"/>
<circle cx="548.2" cy="374.0" r="1.55"/>
<circle cx="548.4" cy="374.7" r="1.55"/>
<circle cx="548.6" cy="375.5" r="1.55"/>
<circle cx="548.8" cy="376.2" r="1.55"/>
<circle cx="549.0" cy="374.9" r="1.55"/>
<circle cx="549.2" cy="377.4" r="1.55"/>
<circle cx="549.4" cy="376.0" r="1.55"/>
<circle cx="549.5" cy="375.2" r="1.55"/>
<circle cx="549.7" cy="376.9" r="1.55"/>
<circle cx="549.9" cy="376.1" r="1.55"/>
<circle cx="550.1" cy="373.5" r="1.55"/>
<circle cx="550.3" cy="375.6" r="1.55"/>
<circle cx="550.5" cy="377.8" r="1.55"/>
<circle cx="550.6" cy="374.8" r="1.55"/>
<circle cx="550.8" cy="379.6" r="1.55"/>
<circle cx="551.0" cy="375.4" r="1.55"/>
<circle cx="551.2" cy="378.1" r="1.55"/>
<circle cx="551.4" cy="378.6" r="1.55"/>
<circle cx="551.6" cy="375.0" r="1.55"/>
<circle cx="551.8" cy="375.9" r="1.55"/>
<circle cx="551.9" cy="373.5" r="1.55"/>
<circle cx="552.1" cy="381.2" r="1.55"/>
<circle cx="552.3" cy="376.0" r="1.55"/>
<circle cx="552.5" cy="377.1" r="1.55"/>
<circle cx="552.7" cy="375.4" r="1.55"/>
<circle cx="552.9" cy="377.7" r="1.55"/>
<circle cx="553.0" cy="381.7" r="1.55"/>
<circle cx="553.2" cy="376.1" r="1.55"/>
<circle cx="553.4" cy="377.8" r="1.55"/>
<circle cx="553.6" cy="380.3" r="1.55"/>
<circle cx="553.8" cy="376.9" r="1.55"/>
<circle cx="554.0" cy="379.2" r="1.55"/>
<circle cx="554.2" cy="378.6" r="1.55"/>
<circle cx="554.3" cy="381.8" r="1.55"/>
<circle cx="554.5" cy="381.0" r="1.55"/>
<circle cx="554.7" cy="377.9" r="1.55"/>
<circle cx="554.9" cy="377.7" r="1.55"/>
<circle cx="555.1" cy="378.0" r="1.55"/>
<circle cx="555.3" cy="377.5" r="1.55"/>
<circle cx="555.4" cy="380.6" r="1.55"/>
<circle cx="555.6" cy="377.5" r="1.55"/>
<circle cx="555.8" cy="379.5" r="1.55"/>
<circle cx="556.0" cy="380.2" r="1.55"/>
<circle cx="556.2" cy="375.7" r="1.55"/>
<circle cx="556.4" cy="376.6" r="1.55"/>
<circle cx="556.6" cy="378.4" r="1.55"/>
<circle cx="556.7" cy="381.2" r="1.55"/>
<circle cx="556.9" cy="376.8" r="1.55"/>
<circle cx="557.1" cy="381.4" r="1.55"/>
<circle cx="557.3" cy="379.8" r="1.55"/>
<circle cx="557.5" cy="382.1" r="1.55"/>
<circle cx="557.7" cy="378.6" r="1.55"/>
<circle cx="557.8" cy="381.3" r="1.55"/>
<circle cx="558.0" cy="380.0" r="1.55"/>
<circle cx="558.2" cy="378.1" r="1.55"/>
<circle cx="558.4" cy="378.3" r="1.55"/>
<circle cx="558.6" cy="382.0" r="1.55"/>
<circle cx="558.8" cy="381.0" r="1.55"/>
<circle cx="558.9" cy="380.5" r="1.55"/>
<circle cx="559.1" cy="380.8" r="1.55"/>
<circle cx="559.3" cy="378.3" r="1.55"/>
<circle cx="559.5" cy="377.8" r="1.55"/>
<circle cx="559.7" cy="378.9" r="1.55"/>
<circle cx="559.9" cy="378.9" r="1.55"/>
<circle cx="560.1" cy="379.9" r="1.55"/>
<circle cx="560.2" cy="378.3" r="1.55"/>
<circle cx="560.4" cy="379.2" r="1.55"/>
<circle cx="560.6" cy="380.7" r="1.55"/>
<circle cx="560.8" cy="379.5" r="1.55"/>
<circle cx="561.0" cy="382.1" r="1.55"/>
<circle cx="561.2" cy="382.0" r="1.55"/>
<circle cx="561.3" cy="378.2" r="1.55"/>
<circle cx="561.5" cy="381.6" r="1.55"/>
<circle cx="561.7" cy="382.1" r="1.55"/>
<circle cx="561.9" cy="382.1" r="1.55"/>
<circle cx="562.1" cy="379.7" r="1.55"/>
<circle cx="562.3" cy="376.4" r="1.55"/>
<circle cx="562.5" cy="382.5" r="1.55"/>
<circle cx="562.6" cy="379.8" r="1.55"/>
<circle cx="562.8" cy="380.8" r="1.55"/>
<circle cx="563.0" cy="379.4" r="1.55"/>
<circle cx="563.2" cy="383.2" r="1.55"/>
<circle cx="563.4" cy="384.2" r="1.55"/>
<circle cx="563.6" cy="381.0" r="1.55"/>
<circle cx="563.7" cy="378.8" r="1.55"/>
<circle cx="563.9" cy="382.8" r="1.55"/>
<circle cx="564.1" cy="380.9" r="1.55"/>
<circle cx="564.3" cy="385.5" r="1.55"/>
<circle cx="564.5" cy="382.6" r="1.55"/>
<circle cx="564.7" cy="378.5" r="1.55"/>
<circle cx="564.9" cy="383.7" r="1.55"/>
<circle cx="565.0" cy="378.0" r="1.55"/>
<circle cx="565.2" cy="382.1" r="1.55"/>
<circle cx="565.4" cy="379.5" r="1.55"/>
<circle cx="565.6" cy="383.9" r="1.55"/>
<circle cx="565.8" cy="379.8" r="1.55"/>
<circle cx="566.0" cy="381.5" r="1.55"/>
<circle cx="566.1" cy="382.7" r="1.55"/>
<circle cx="566.3" cy="383.7" r="1.55"/>
<circle cx="566.5" cy="382.6" r="1.55"/>
<circle cx="566.7" cy="379.9" r="1.55"/>
<circle cx="566.9" cy="385.0" r="1.55"/>
<circle cx="567.1" cy="384.2" r="1.55"/>
<circle cx="567.3" cy="383.2" r="1.55"/>
<circle cx="567.4" cy="381.2" r="1.55"/>
<circle cx="567.6" cy="384.6" r="1.55"/>
<circle cx="567.8" cy="381.1" r="1.55"/>
<circle cx="568.0" cy="386.7" r="1.55"/>
<circle cx="568.2" cy="383.8" r="1.55"/>
<circle cx="568.4" cy="388.2" r="1.55"/>
<circle cx="568.5" cy="385.5" r="1.55"/>
<circle cx="568.7" cy="386.0" r="1.55"/>
<circle cx="568.9" cy="382.2" r="1.55"/>
<circle cx="569.1" cy="384.1" r="1.55"/>
<circle cx="569.3" cy="382.6" r="1.55"/>
<circle cx="569.5" cy="383.6" r="1.55"/>
<circle cx="569.7" cy="382.6" r="1.55"/>
<circle cx="569.8" cy="384.2" r="1.55"/>
<circle cx="570.0" cy="383.7" r="1.55"/>
<circle cx="570.2" cy="386.1" r="1.55"/>
<circle cx="570.4" cy="383.0" r="1.55"/>
<circle cx="570.6" cy="387.3" r="1.55"/>
<circle cx="570.8" cy="387.7" r="1.55"/>
<circle cx="570.9" cy="381.6" r="1.55"/>
<circle cx="571.1" cy="381.3" r="1.55"/>
<circle cx="571.3" cy="381.2" r="1.55"/>
<circle cx="571.5" cy="387.3" r="1.55"/>
<circle cx="571.7" cy="386.7" r="1.55"/>
<circle cx="571.9" cy="385.6" r="1.55"/>
<circle cx="572.0" cy="383.7" r="1.55"/>
<circle cx="572.2" cy="381.5" r="1.55"/>
<circle cx="572.4" cy="381.5" r="1.55"/>
<circle cx="572.6" cy="381.1" r="1.55"/>
<circle cx="572.8" cy="380.8" r="1.55"/>
<circle cx="573.0" cy="382.3" r="1.55"/>
<circle cx="573.2" cy="384.7" r="1.55"/>
<circle cx="573.3" cy="383.4" r="1.55"/>
<circle cx="573.5" cy="382.7" r="1.55"/>
<circle cx="573.7" cy="386.4" r="1.55"/>
<circle cx="573.9" cy="384.7" r="1.55"/>
<circle cx="574.1" cy="384.3" r="1.55"/>
<circle cx="574.3" cy="383.5" r="1.55"/>
<circle cx="574.4" cy="382.5" r="1.55"/>
<circle cx="574.6" cy="386.1" r="1.55"/>
<circle cx="574.8" cy="384.6" r="1.55"/>
<circle cx="575.0" cy="383.7" r="1.55"/>
<circle cx="575.2" cy="378.9" r="1.55"/>
<circle cx="575.4" cy="378.7" r="1.55"/>
<circle cx="575.6" cy="384.0" r="1.55"/>
<circle cx="575.7" cy="383.5" r="1.55"/>
<circle cx="575.9" cy="382.8" r="1.55"/>
<circle cx="576.1" cy="386.1" r="1.55"/>
<circle cx="576.3" cy="384.1" r="1.55"/>
<circle cx="576.5" cy="388.6" r="1.55"/>
<circle cx="576.7" cy="388.0" r="1.55"/>
<circle cx="576.8" cy="385.6" r="1.55"/>
<circle cx="577.0" cy="390.7" r="1.55"/>
<circle cx="577.2" cy="386.0" r="1.55"/>
<circle cx="577.4" cy="385.5" r="1.55"/>
<circle cx="577.6" cy="384.4" r="1.55"/>
<circle cx="577.8" cy="387.8" r="1.55"/>
<circle cx="578.0" cy="381.2" r="1.55"/>
<circle cx="578.1" cy="386.3" r="1.55"/>
<circle cx="578.3" cy="387.9" r="1.55"/>
<circle cx="578.5" cy="382.5" r="1.55"/>
<circle cx="578.7" cy="384.2" r="1.55"/>
<circle cx="578.9" cy="386.9" r="1.55"/>
<circle cx="579.1" cy="387.5" r="1.55"/>
<circle cx="579.2" cy="389.9" r="1.55"/>
<circle cx="579.4" cy="383.3" r="1.55"/>
<circle cx="579.6" cy="383.9" r="1.55"/>
<circle cx="579.8" cy="382.6" r="1.55"/>
<circle cx="580.0" cy="385.4" r="1.55"/>
<circle cx="580.2" cy="385.4" r="1.55"/>
<circle cx="580.4" cy="385.5" r="1.55"/>
<circle cx="580.5" cy="385.1" r="1.55"/>
<circle cx="580.7" cy="385.4" r="1.55"/>
<circle cx="580.9" cy="390.1" r="1.55"/>
<circle cx="581.1" cy="386.4" r="1.55"/>
<circle cx="581.3" cy="387.4" r="1.55"/>
<circle cx="581.5" cy="388.2" r="1.55"/>
<circle cx="581.6" cy="385.7" r="1.55"/>
<circle cx="581.8" cy="383.4" r="1.55"/>
<circle cx="582.0" cy="381.7" r="1.55"/>
<circle cx="582.2" cy="385.1" r="1.55"/>
<circle cx="582.4" cy="383.8" r="1.55"/>
<circle cx="582.6" cy="383.0" r="1.55"/>
<circle cx="582.7" cy="388.1" r="1.55"/>
<circle cx="582.9" cy="388.8" r="1.55"/>
<circle cx="583.1" cy="380.9" r="1.55"/>
<circle cx="583.3" cy="386.6" r="1.55"/>
<circle cx="583.5" cy="384.7" r="1.55"/>
<circle cx="583.7" cy="386.0" r="1.55"/>
<circle cx="583.9" cy="386.8" r="1.55"/>
<circle cx="584.0" cy="382.4" r="1.55"/>
<circle cx="584.2" cy="384.6" r="1.55"/>
<circle cx="584.4" cy="384.7" r="1.55"/>
<circle cx="584.6" cy="381.1" r="1.55"/>
<circle cx="584.8" cy="381.3" r="1.55"/>
<circle cx="585.0" cy="391.8" r="1.55"/>
<circle cx="585.1" cy="382.3" r="1.55"/>
<circle cx="585.3" cy="381.6" r="1.55"/>
<circle cx="585.5" cy="383.7" r="1.55"/>
<circle cx="585.7" cy="390.4" r="1.55"/>
<circle cx="585.9" cy="385.1" r="1.55"/>
<circle cx="586.1" cy="383.0" r="1.55"/>
<circle cx="586.3" cy="383.9" r="1.55"/>
<circle cx="586.4" cy="386.2" r="1.55"/>
<circle cx="586.6" cy="385.4" r="1.55"/>
<circle cx="586.8" cy="381.2" r="1.55"/>
<circle cx="587.0" cy="380.4" r="1.55"/>
<circle cx="587.2" cy="384.0" r="1.55"/>
<circle cx="587.4" cy="388.1" r="1.55"/>
<circle cx="587.5" cy="387.4" r="1.55"/>
<circle cx="587.7" cy="387.5" r="1.55"/>
<circle cx="587.9" cy="384.2" r="1.55"/>
<circle cx="588.1" cy="391.2" r="1.55"/>
<circle cx="588.3" cy="385.5" r="1.55"/>
<circle cx="588.5" cy="391.0" r="1.55"/>
<circle cx="588.7" cy="386.2" r="1.55"/>
<circle cx="588.8" cy="391.4" r="1.55"/>
<circle cx="589.0" cy="384.7" r="1.55"/>
<circle cx="589.2" cy="389.1" r="1.55"/>
<circle cx="589.4" cy="385.9" r="1.55"/>
<circle cx="589.6" cy="385.8" r="1.55"/>
<circle cx="589.8" cy="380.8" r="1.55"/>
<circle cx="589.9" cy="382.3" r="1.55"/>
<circle cx="590.1" cy="393.2" r="1.55"/>
<circle cx="590.3" cy="386.2" r="1.55"/>
<circle cx="590.5" cy="391.5" r="1.55"/>
<circle cx="590.7" cy="383.5" r="1.55"/>
<circle cx="590.9" cy="388.0" r="1.55"/>
<circle cx="591.1" cy="386.3" r="1.55"/>
<circle cx="591.2" cy="387.7" r="1.55"/>
<circle cx="591.4" cy="388.3" r="1.55"/>
<circle cx="591.6" cy="383.0" r="1.55"/>
<circle cx="591.8" cy="384.7" r="1.55"/>
<circle cx="592.0" cy="387.3" r="1.55"/>
<circle cx="592.2" cy="386.2" r="1.55"/>
<circle cx="592.3" cy="390.1" r="1.55"/>
<circle cx="592.5" cy="386.8" r="1.55"/>
<circle cx="592.7" cy="391.8" r="1.55"/>
<circle cx="592.9" cy="385.3" r="1.55"/>
<circle cx="593.1" cy="385.2" r="1.55"/>
<circle cx="593.3" cy="387.0" r="1.55"/>
<circle cx="593.5" cy="383.1" r="1.55"/>
<circle cx="593.6" cy="391.9" r="1.55"/>
<circle cx="593.8" cy="380.9" r="1.55"/>
<circle cx="594.0" cy="390.9" r="1.55"/>
<circle cx="594.2" cy="384.7" r="1.55"/>
<circle cx="594.4" cy="392.1" r="1.55"/>
<circle cx="594.6" cy="387.7" r="1.55"/>
<circle cx="594.7" cy="384.4" r="1.55"/>
<circle cx="594.9" cy="381.0" r="1.55"/>
<circle cx="595.1" cy="388.5" r="1.55"/>
<circle cx="595.3" cy="387.5" r="1.55"/>
<circle cx="595.5" cy="386.5" r="1.55"/>
<circle cx="595.7" cy="392.3" r="1.55"/>
<circle cx="595.8" cy="386.4" r="1.55"/>
<circle cx="596.0" cy="388.6" r="1.55"/>
<circle cx="596.2" cy="389.3" r="1.55"/>
<circle cx="596.4" cy="391.1" r="1.55"/>
<circle cx="596.6" cy="385.9" r="1.55"/>
<circle cx="596.8" cy="388.2" r="1.55"/>
<circle cx="597.0" cy="387.0" r="1.55"/>
<circle cx="597.1" cy="394.6" r="1.55"/>
<circle cx="597.3" cy="386.9" r="1.55"/>
<circle cx="597.5" cy="384.3" r="1.55"/>
<circle cx="597.7" cy="385.6" r="1.55"/>
<circle cx="597.9" cy="385.2" r="1.55"/>
<circle cx="598.1" cy="388.8" r="1.55"/>
<circle cx="598.2" cy="385.6" r="1.55"/>
<circle cx="598.4" cy="387.8" r="1.55"/>
<circle cx="598.6" cy="382.2" r="1.55"/>
<circle cx="598.8" cy="389.3" r="1.55"/>
<circle cx="599.0" cy="389.4" r="1.55"/>
<circle cx="599.2" cy="384.3" r="1.55"/>
<circle cx="599.4" cy="384.5" r="1.55"/>
<circle cx="599.5" cy="389.7" r="1.55"/>
<circle cx="599.7" cy="385.7" r="1.55"/>
<circle cx="599.9" cy="384.8" r="1.55"/>
<circle cx="600.1" cy="390.4" r="1.55"/>
<circle cx="600.3" cy="387.6" r="1.55"/>
<circle cx="600.5" cy="394.8" r="1.55"/>
<circle cx="600.6" cy="384.8" r="1.55"/>
<circle cx="600.8" cy="388.1" r="1.55"/>
<circle cx="601.0" cy="383.2" r="1.55"/>
<circle cx="601.2" cy="381.6" r="1.55"/>
<circle cx="601.4" cy="383.7" r="1.55"/>
<circle cx="601.6" cy="384.6" r="1.55"/>
<circle cx="601.8" cy="394.5" r="1.55"/>
<circle cx="601.9" cy="389.4" r="1.55"/>
<circle cx="602.1" cy="387.3" r="1.55"/>
<circle cx="602.3" cy="391.3" r="1.55"/>
<circle cx="602.5" cy="386.2" r="1.55"/>
<circle cx="602.7" cy="382.8" r="1.55"/>
<circle cx="602.9" cy="391.2" r="1.55"/>
<circle cx="603.0" cy="383.8" r="1.55"/>
<circle cx="603.2" cy="384.6" r="1.55"/>
<circle cx="603.4" cy="385.2" r="1.55"/>
<circle cx="603.6" cy="395.6" r="1.55"/>
<circle cx="603.8" cy="387.3" r="1.55"/>
<circle cx="604.0" cy="385.4" r="1.55"/>
<circle cx="604.2" cy="383.4" r="1.55"/>
<circle cx="604.3" cy="391.4" r="1.55"/>
<circle cx="604.5" cy="390.2" r="1.55"/>
<circle cx="604.7" cy="386.9" r="1.55"/>
<circle cx="604.9" cy="389.5" r="1.55"/>
<circle cx="605.1" cy="391.3" r="1.55"/>
<circle cx="605.3" cy="384.8" r="1.55"/>
<circle cx="605.4" cy="384.6" r="1.55"/>
<circle cx="605.6" cy="385.6" r="1.55"/>
<circle cx="605.8" cy="390.2" r="1.55"/>
<circle cx="606.0" cy="389.5" r="1.55"/>
<circle cx="606.2" cy="390.5" r="1.55"/>
<circle cx="606.4" cy="382.1" r="1.55"/>
<circle cx="606.6" cy="383.2" r="1.55"/>
<circle cx="606.7" cy="383.7" r="1.55"/>
<circle cx="606.9" cy="386.0" r="1.55"/>
<circle cx="607.1" cy="391.0" r="1.55"/>
<circle cx="607.3" cy="389.1" r="1.55"/>
<circle cx="607.5" cy="389.6" r="1.55"/>
<circle cx="607.7" cy="388.5" r="1.55"/>
<circle cx="607.8" cy="392.6" r="1.55"/>
<circle cx="608.0" cy="387.3" r="1.55"/>
<circle cx="608.2" cy="392.6" r="1.55"/>
<circle cx="608.4" cy="390.1" r="1.55"/>
<circle cx="608.6" cy="392.9" r="1.55"/>
<circle cx="608.8" cy="385.8" r="1.55"/>
<circle cx="608.9" cy="386.1" r="1.55"/>
<circle cx="609.1" cy="386.1" r="1.55"/>
<circle cx="609.3" cy="392.4" r="1.55"/>
<circle cx="609.5" cy="389.6" r="1.55"/>
<circle cx="609.7" cy="385.4" r="1.55"/>
<circle cx="609.9" cy="380.4" r="1.55"/>
<circle cx="610.1" cy="382.5" r="1.55"/>
<circle cx="610.2" cy="381.9" r="1.55"/>
<circle cx="610.4" cy="387.4" r="1.55"/>
<circle cx="610.6" cy="388.1" r="1.55"/>
<circle cx="610.8" cy="383.5" r="1.55"/>
<circle cx="611.0" cy="390.9" r="1.55"/>
<circle cx="611.2" cy="391.7" r="1.55"/>
<circle cx="611.3" cy="389.1" r="1.55"/>
<circle cx="611.5" cy="390.2" r="1.55"/>
<circle cx="611.7" cy="388.0" r="1.55"/>
<circle cx="611.9" cy="390.0" r="1.55"/>
<circle cx="612.1" cy="392.0" r="1.55"/>
<circle cx="612.3" cy="387.4" r="1.55"/>
<circle cx="612.5" cy="395.2" r="1.55"/>
<circle cx="612.6" cy="390.8" r="1.55"/>
<circle cx="612.8" cy="383.4" r="1.55"/>
<circle cx="613.0" cy="387.7" r="1.55"/>
<circle cx="613.2" cy="383.6" r="1.55"/>
<circle cx="613.4" cy="387.4" r="1.55"/>
<circle cx="613.6" cy="383.9" r="1.55"/>
<circle cx="613.7" cy="387.2" r="1.55"/>
<circle cx="613.9" cy="384.8" r="1.55"/>
<circle cx="614.1" cy="385.7" r="1.55"/>
<circle cx="614.3" cy="387.8" r="1.55"/>
<circle cx="614.5" cy="389.8" r="1.55"/>
<circle cx="614.7" cy="394.5" r="1.55"/>
<circle cx="614.9" cy="386.3" r="1.55"/>
<circle cx="615.0" cy="392.2" r="1.55"/>
<circle cx="615.2" cy="388.0" r="1.55"/>
<circle cx="615.4" cy="387.6" r="1.55"/>
<circle cx="615.6" cy="390.9" r="1.55"/>
<circle cx="615.8" cy="394.3" r="1.55"/>
<circle cx="616.0" cy="391.8" r="1.55"/>
<circle cx="616.1" cy="392.2" r="1.55"/>
<circle cx="616.3" cy="383.3" r="1.55"/>
<circle cx="616.5" cy="384.8" r="1.55"/>
<circle cx="616.7" cy="390.7" r="1.55"/>
<circle cx="616.9" cy="388.6" r="1.55"/>
<circle cx="617.1" cy="391.0" r="1.55"/>
<circle cx="617.3" cy="387.5" r="1.55"/>
<circle cx="617.4" cy="390.6" r="1.55"/>
<circle cx="617.6" cy="386.3" r="1.55"/>
<circle cx="617.8" cy="390.8" r="1.55"/>
<circle cx="618.0" cy="385.0" r="1.55"/>
<circle cx="618.2" cy="393.2" r="1.55"/>
<circle cx="618.4" cy="385.2" r="1.55"/>
<circle cx="618.5" cy="388.6" r="1.55"/>
<circle cx="618.7" cy="388.3" r="1.55"/>
<circle cx="618.9" cy="382.4" r="1.55"/>
<circle cx="619.1" cy="386.3" r="1.55"/>
<circle cx="619.3" cy="387.5" r="1.55"/>
<circle cx="619.5" cy="386.2" r="1.55"/>
<circle cx="619.6" cy="394.6" r="1.55"/>
<circle cx="619.8" cy="396.4" r="1.55"/>
<circle cx="620.0" cy="389.5" r="1.55"/>
<circle cx="620.2" cy="388.0" r="1.55"/>
<circle cx="620.4" cy="387.5" r="1.55"/>
<circle cx="620.6" cy="383.5" r="1.55"/>
<circle cx="620.8" cy="393.3" r="1.55"/>
<circle cx="620.9" cy="392.5" r="1.55"/>
<circle cx="621.1" cy="387.6" r="1.55"/>
<circle cx="621.3" cy="391.2" r="1.55"/>
<circle cx="621.5" cy="384.6" r="1.55"/>
<circle cx="621.7" cy="387.3" r="1.55"/>
<circle cx="621.9" cy="392.3" r="1.55"/>
<circle cx="622.0" cy="391.4" r="1.55"/>
<circle cx="622.2" cy="386.9" r="1.55"/>
<circle cx="622.4" cy="388.5" r="1.55"/>
<circle cx="622.6" cy="394.2" r="1.55"/>
<circle cx="622.8" cy="387.4" r="1.55"/>
<circle cx="623.0" cy="391.8" r="1.55"/>
<circle cx="623.2" cy="389.8" r="1.55"/>
<circle cx="623.3" cy="383.9" r="1.55"/>
<circle cx="623.5" cy="387.6" r="1.55"/>
<circle cx="623.7" cy="386.2" r="1.55"/>
<circle cx="623.9" cy="388.1" r="1.55"/>
<circle cx="624.1" cy="394.0" r="1.55"/>
<circle cx="624.3" cy="387.5" r="1.55"/>
<circle cx="624.4" cy="393.5" r="1.55"/>
<circle cx="624.6" cy="389.5" r="1.55"/>
<circle cx="624.8" cy="387.5" r="1.55"/>
<circle cx="625.0" cy="392.1" r="1.55"/>
<circle cx="625.2" cy="388.1" r="1.55"/>
<circle cx="625.4" cy="391.1" r="1.55"/>
<circle cx="625.6" cy="388.7" r="1.55"/>
<circle cx="625.7" cy="382.5" r="1.55"/>
<circle cx="625.9" cy="389.4" r="1.55"/>
<circle cx="626.1" cy="387.7" r="1.55"/>
<circle cx="626.3" cy="385.4" r="1.55"/>
<circle cx="626.5" cy="389.4" r="1.55"/>
<circle cx="626.7" cy="384.1" r="1.55"/>
<circle cx="626.8" cy="386.3" r="1.55"/>
<circle cx="627.0" cy="395.7" r="1.55"/>
<circle cx="627.2" cy="385.5" r="1.55"/>
<circle cx="627.4" cy="393.6" r="1.55"/>
<circle cx="627.6" cy="394.5" r="1.55"/>
<circle cx="627.8" cy="387.3" r="1.55"/>
<circle cx="628.0" cy="384.9" r="1.55"/>
<circle cx="628.1" cy="391.9" r="1.55"/>
<circle cx="628.3" cy="381.8" r="1.55"/>
<circle cx="628.5" cy="388.3" r="1.55"/>
<circle cx="628.7" cy="388.6" r="1.55"/>
<circle cx="628.9" cy="389.2" r="1.55"/>
<circle cx="629.1" cy="386.5" r="1.55"/>
<circle cx="629.2" cy="385.6" r="1.55"/>
<circle cx="629.4" cy="391.9" r="1.55"/>
<circle cx="629.6" cy="390.3" r="1.55"/>
<circle cx="629.8" cy="392.3" r="1.55"/>
<circle cx="630.0" cy="388.4" r="1.55"/>
<circle cx="630.2" cy="391.9" r="1.55"/>
<circle cx="630.4" cy="392.9" r="1.55"/>
<circle cx="630.5" cy="388.0" r="1.55"/>
<circle cx="630.7" cy="384.2" r="1.55"/>
<circle cx="630.9" cy="387.9" r="1.55"/>
<circle cx="631.1" cy="391.6" r="1.55"/>
<circle cx="631.3" cy="391.3" r="1.55"/>
<circle cx="631.5" cy="388.7" r="1.55"/>
<circle cx="631.6" cy="395.2" r="1.55"/>
<circle cx="631.8" cy="386.0" r="1.55"/>
<circle cx="632.0" cy="390.7" r="1.55"/>
<circle cx="632.2" cy="383.2" r="1.55"/>
<circle cx="632.4" cy="397.2" r="1.55"/>
<circle cx="632.6" cy="387.0" r="1.55"/>
<circle cx="632.7" cy="387.1" r="1.55"/>
<circle cx="632.9" cy="390.5" r="1.55"/>
<circle cx="633.1" cy="390.9" r="1.55"/>
<circle cx="633.3" cy="393.0" r="1.55"/>
<circle cx="633.5" cy="386.5" r="1.55"/>
<circle cx="633.7" cy="396.3" r="1.55"/>
<circle cx="633.9" cy="391.5" r="1.55"/>
<circle cx="634.0" cy="389.9" r="1.55"/>
<circle cx="634.2" cy="382.0" r="1.55"/>
<circle cx="634.4" cy="388.8" r="1.55"/>
<circle cx="634.6" cy="394.3" r="1.55"/>
<circle cx="634.8" cy="392.1" r="1.55"/>
<circle cx="635.0" cy="391.1" r="1.55"/>
<circle cx="635.1" cy="390.1" r="1.55"/>
<circle cx="635.3" cy="388.1" r="1.55"/>
<circle cx="635.5" cy="389.9" r="1.55"/>
<circle cx="635.7" cy="392.3" r="1.55"/>
<circle cx="635.9" cy="389.8" r="1.55"/>
<circle cx="636.1" cy="387.3" r="1.55"/>
<circle cx="636.3" cy="389.4" r="1.55"/>
<circle cx="636.4" cy="385.8" r="1.55"/>
<circle cx="636.6" cy="387.0" r="1.55"/>
<circle cx="636.8" cy="387.8" r="1.55"/>
<circle cx="637.0" cy="394.3" r="1.55"/>
<circle cx="637.2" cy="389.8" r="1.55"/>
<circle cx="637.4" cy="388.5" r="1.55"/>
<circle cx="637.5" cy="388.0" r="1.55"/>
<circle cx="637.7" cy="391.0" r="1.55"/>
<circle cx="637.9" cy="382.8" r="1.55"/>
<circle cx="638.1" cy="395.2" r="1.55"/>
<circle cx="638.3" cy="393.5" r="1.55"/>
<circle cx="638.5" cy="392.1" r="1.55"/>
<circle cx="638.7" cy="387.0" r="1.55"/>
<circle cx="638.8" cy="389.3" r="1.55"/>
<circle cx="639.0" cy="393.6" r="1.55"/>
<circle cx="639.2" cy="388.3" r="1.55"/>
<circle cx="639.4" cy="387.6" r="1.55"/>
<circle cx="639.6" cy="385.1" r="1.55"/>
<circle cx="639.8" cy="389.5" r="1.55"/>
<circle cx="639.9" cy="390.3" r="1.55"/>
<circle cx="640.1" cy="391.8" r="1.55"/>
<circle cx="640.3" cy="387.5" r="1.55"/>
<circle cx="640.5" cy="385.2" r="1.55"/>
<circle cx="640.7" cy="384.4" r="1.55"/>
<circle cx="640.9" cy="384.6" r="1.55"/>
<circle cx="641.1" cy="383.7" r="1.55"/>
<circle cx="641.2" cy="387.5" r="1.55"/>
<circle cx="641.4" cy="383.9" r="1.55"/>
<circle cx="641.6" cy="384.3" r="1.55"/>
<circle cx="641.8" cy="385.1" r="1.55"/>
<circle cx="642.0" cy="391.4" r="1.55"/>
<circle cx="642.2" cy="390.7" r="1.55"/>
<circle cx="642.3" cy="388.8" r="1.55"/>
<circle cx="642.5" cy="385.9" r="1.55"/>
<circle cx="642.7" cy="387.8" r="1.55"/>
<circle cx="642.9" cy="387.8" r="1.55"/>
<circle cx="643.1" cy="391.7" r="1.55"/>
<circle cx="643.3" cy="388.2" r="1.55"/>
<circle cx="643.5" cy="387.6" r="1.55"/>
<circle cx="643.6" cy="393.5" r="1.55"/>
<circle cx="643.8" cy="387.6" r="1.55"/>
<circle cx="644.0" cy="389.6" r="1.55"/>
<circle cx="644.2" cy="389.4" r="1.55"/>
<circle cx="644.4" cy="386.7" r="1.55"/>
<circle cx="644.6" cy="392.3" r="1.55"/>
<circle cx="644.7" cy="396.1" r="1.55"/>
<circle cx="644.9" cy="383.5" r="1.55"/>
<circle cx="645.1" cy="386.6" r="1.55"/>
<circle cx="645.3" cy="387.9" r="1.55"/>
<circle cx="645.5" cy="385.4" r="1.55"/>
<circle cx="645.7" cy="389.4" r="1.55"/>
<circle cx="645.8" cy="384.8" r="1.55"/>
<circle cx="646.0" cy="386.7" r="1.55"/>
<circle cx="646.2" cy="389.9" r="1.55"/>
<circle cx="646.4" cy="389.9" r="1.55"/>
<circle cx="646.6" cy="394.1" r="1.55"/>
<circle cx="646.8" cy="391.7" r="1.55"/>
<circle cx="647.0" cy="393.6" r="1.55"/>
<circle cx="647.1" cy="392.7" r="1.55"/>
<circle cx="647.3" cy="390.7" r="1.55"/>
<circle cx="647.5" cy="387.6" r="1.55"/>
<circle cx="647.7" cy="393.3" r="1.55"/>
<circle cx="647.9" cy="391.0" r="1.55"/>
<circle cx="648.1" cy="386.8" r="1.55"/>
<circle cx="648.2" cy="392.3" r="1.55"/>
<circle cx="648.4" cy="391.5" r="1.55"/>
<circle cx="648.6" cy="389.6" r="1.55"/>
<circle cx="648.8" cy="388.3" r="1.55"/>
<circle cx="649.0" cy="391.0" r="1.55"/>
<circle cx="649.2" cy="391.7" r="1.55"/>
<circle cx="649.4" cy="383.2" r="1.55"/>
<circle cx="649.5" cy="383.3" r="1.55"/>
<circle cx="649.7" cy="383.4" r="1.55"/>
<circle cx="649.9" cy="383.6" r="1.55"/>
<circle cx="650.1" cy="385.6" r="1.55"/>
<circle cx="650.3" cy="396.9" r="1.55"/>
<circle cx="650.5" cy="393.5" r="1.55"/>
<circle cx="650.6" cy="394.6" r="1.55"/>
<circle cx="650.8" cy="396.0" r="1.55"/>
<circle cx="651.0" cy="386.3" r="1.55"/>
<circle cx="651.2" cy="381.5" r="1.55"/>
<circle cx="651.4" cy="392.0" r="1.55"/>
<circle cx="651.6" cy="386.7" r="1.55"/>
<circle cx="651.8" cy="387.3" r="1.55"/>
<circle cx="651.9" cy="384.6" r="1.55"/>
<circle cx="652.1" cy="392.8" r="1.55"/>
<circle cx="652.3" cy="385.5" r="1.55"/>
<circle cx="652.5" cy="390.4" r="1.55"/>
<circle cx="652.7" cy="391.2" r="1.55"/>
<circle cx="652.9" cy="388.0" r="1.55"/>
<circle cx="653.0" cy="390.0" r="1.55"/>
<circle cx="653.2" cy="386.4" r="1.55"/>
<circle cx="653.4" cy="390.8" r="1.55"/>
<circle cx="653.6" cy="392.8" r="1.55"/>
<circle cx="653.8" cy="387.8" r="1.55"/>
<circle cx="654.0" cy="388.5" r="1.55"/>
<circle cx="654.2" cy="391.3" r="1.55"/>
<circle cx="654.3" cy="387.8" r="1.55"/>
<circle cx="654.5" cy="388.0" r="1.55"/>
<circle cx="654.7" cy="388.9" r="1.55"/>
<circle cx="654.9" cy="396.7" r="1.55"/>
<circle cx="655.1" cy="383.8" r="1.55"/>
<circle cx="655.3" cy="388.0" r="1.55"/>
<circle cx="655.4" cy="393.4" r="1.55"/>
<circle cx="655.6" cy="389.0" r="1.55"/>
<circle cx="655.8" cy="388.6" r="1.55"/>
<circle cx="656.0" cy="384.8" r="1.55"/>
<circle cx="656.2" cy="388.6" r="1.55"/>
<circle cx="656.4" cy="390.7" r="1.55"/>
<circle cx="656.5" cy="383.4" r="1.55"/>
<circle cx="656.7" cy="392.3" r="1.55"/>
<circle cx="656.9" cy="391.8" r="1.55"/>
<circle cx="657.1" cy="385.5" r="1.55"/>
<circle cx="657.3" cy="392.0" r="1.55"/>
<circle cx="657.5" cy="393.4" r="1.55"/>
<circle cx="657.7" cy="384.2" r="1.55"/>
<circle cx="657.8" cy="387.1" r="1.55"/>
<circle cx="658.0" cy="393.3" r="1.55"/>
<circle cx="658.2" cy="390.2" r="1.55"/>
<circle cx="658.4" cy="383.6" r="1.55"/>
<circle cx="658.6" cy="385.7" r="1.55"/>
<circle cx="658.8" cy="386.4" r="1.55"/>
<circle cx="658.9" cy="387.2" r="1.55"/>
<circle cx="659.1" cy="394.0" r="1.55"/>
<circle cx="659.3" cy="384.8" r="1.55"/>
<circle cx="659.5" cy="391.9" r="1.55"/>
<circle cx="659.7" cy="395.6" r="1.55"/>
<circle cx="659.9" cy="389.4" r="1.55"/>
<circle cx="660.1" cy="391.0" r="1.55"/>
<circle cx="660.2" cy="386.2" r="1.55"/>
<circle cx="660.4" cy="383.0" r="1.55"/>
<circle cx="660.6" cy="387.6" r="1.55"/>
<circle cx="660.8" cy="397.6" r="1.55"/>
<circle cx="661.0" cy="390.9" r="1.55"/>
<circle cx="661.2" cy="392.0" r="1.55"/>
<circle cx="661.3" cy="384.5" r="1.55"/>
<circle cx="661.5" cy="389.1" r="1.55"/>
<circle cx="661.7" cy="390.7" r="1.55"/>
<circle cx="661.9" cy="384.9" r="1.55"/>
<circle cx="662.1" cy="389.2" r="1.55"/>
<circle cx="662.3" cy="397.3" r="1.55"/>
<circle cx="662.5" cy="393.0" r="1.55"/>
<circle cx="662.6" cy="388.7" r="1.55"/>
<circle cx="662.8" cy="391.6" r="1.55"/>
<circle cx="663.0" cy="391.7" r="1.55"/>
<circle cx="663.2" cy="396.2" r="1.55"/>
<circle cx="663.4" cy="395.4" r="1.55"/>
<circle cx="663.6" cy="388.9" r="1.55"/>
<circle cx="663.7" cy="396.2" r="1.55"/>
<circle cx="663.9" cy="393.8" r="1.55"/>
<circle cx="664.1" cy="386.2" r="1.55"/>
<circle cx="664.3" cy="384.8" r="1.55"/>
<circle cx="664.5" cy="391.7" r="1.55"/>
<circle cx="664.7" cy="386.0" r="1.55"/>
<circle cx="664.9" cy="381.7" r="1.55"/>
<circle cx="665.0" cy="387.3" r="1.55"/>
<circle cx="665.2" cy="384.0" r="1.55"/>
<circle cx="665.4" cy="382.0" r="1.55"/>
<circle cx="665.6" cy="385.8" r="1.55"/>
<circle cx="665.8" cy="387.6" r="1.55"/>
<circle cx="666.0" cy="388.7" r="1.55"/>
<circle cx="666.1" cy="389.1" r="1.55"/>
<circle cx="666.3" cy="388.5" r="1.55"/>
<circle cx="666.5" cy="395.5" r="1.55"/>
<circle cx="666.7" cy="393.2" r="1.55"/>
<circle cx="666.9" cy="388.8" r="1.55"/>
<circle cx="667.1" cy="389.6" r="1.55"/>
<circle cx="667.3" cy="387.5" r="1.55"/>
<circle cx="667.4" cy="384.3" r="1.55"/>
<circle cx="667.6" cy="385.2" r="1.55"/>
<circle cx="667.8" cy="383.0" r="1.55"/>
<circle cx="668.0" cy="392.0" r="1.55"/>
<circle cx="668.2" cy="386.4" r="1.55"/>
<circle cx="668.4" cy="397.1" r="1.55"/>
<circle cx="668.5" cy="391.8" r="1.55"/>
<circle cx="668.7" cy="392.3" r="1.55"/>
<circle cx="668.9" cy="391.3" r="1.55"/>
<circle cx="669.1" cy="388.7" r="1.55"/>
<circle cx="669.3" cy="382.9" r="1.55"/>
<circle cx="669.5" cy="392.1" r="1.55"/>
<circle cx="669.6" cy="384.0" r="1.55"/>
<circle cx="669.8" cy="387.6" r="1.55"/>
<circle cx="670.0" cy="396.2" r="1.55"/>
<circle cx="670.2" cy="388.9" r="1.55"/>
<circle cx="670.4" cy="388.7" r="1.55"/>
<circle cx="670.6" cy="389.2" r="1.55"/>
<circle cx="670.8" cy="388.2" r="1.55"/>
<circle cx="670.9" cy="388.6" r="1.55"/>
<circle cx="671.1" cy="384.6" r="1.55"/>
<circle cx="671.3" cy="382.8" r="1.55"/>
<circle cx="671.5" cy="384.7" r="1.55"/>
<circle cx="671.7" cy="387.1" r="1.55"/>
<circle cx="671.9" cy="392.8" r="1.55"/>
<circle cx="672.0" cy="389.5" r="1.55"/>
<circle cx="672.2" cy="388.1" r="1.55"/>
<circle cx="672.4" cy="386.6" r="1.55"/>
<circle cx="672.6" cy="392.9" r="1.55"/>
<circle cx="672.8" cy="397.5" r="1.55"/>
<circle cx="673.0" cy="386.5" r="1.55"/>
<circle cx="673.2" cy="390.8" r="1.55"/>
<circle cx="673.3" cy="391.2" r="1.55"/>
<circle cx="673.5" cy="389.9" r="1.55"/>
<circle cx="673.7" cy="390.9" r="1.55"/>
<circle cx="673.9" cy="387.0" r="1.55"/>
<circle cx="674.1" cy="384.1" r="1.55"/>
<circle cx="674.3" cy="381.7" r="1.55"/>
<circle cx="674.4" cy="386.4" r="1.55"/>
<circle cx="674.6" cy="393.0" r="1.55"/>
<circle cx="674.8" cy="382.0" r="1.55"/>
<circle cx="675.0" cy="380.5" r="1.55"/>
<circle cx="675.2" cy="386.2" r="1.55"/>
<circle cx="675.4" cy="397.1" r="1.55"/>
<circle cx="675.6" cy="396.1" r="1.55"/>
<circle cx="675.7" cy="394.4" r="1.55"/>
<circle cx="675.9" cy="386.3" r="1.55"/>
<circle cx="676.1" cy="383.5" r="1.55"/>
</g>
<path d="M506.4,301.4 L506.9,303.1 L507.4,305.0 L507.9,306.9 L508.5,309.0 L509.0,311.3 L509.5,313.6 L510.0,315.9 L510.5,318.1 L511.0,320.3 L511.5,322.4 L512.0,324.6 L512.6,326.6 L513.1,328.4 L513.6,329.9 L514.1,331.4 L514.6,332.8 L515.1,334.1 L515.6,335.4 L516.1,336.6 L516.7,337.7 L517.2,338.8 L517.7,339.9 L518.2,340.9 L518.7,341.9 L519.2,342.8 L519.7,343.8 L520.2,344.7 L520.8,345.6 L521.3,346.5 L521.8,347.3 L522.3,348.1 L522.8,349.0 L523.3,349.7 L523.8,350.5 L524.3,351.3 L524.9,352.0 L525.4,352.7 L525.9,353.4 L526.4,354.1 L526.9,354.8 L527.4,355.5 L527.9,356.2 L528.4,356.9 L529.0,357.6 L529.5,358.2 L530.0,358.9 L530.5,359.6 L531.0,360.2 L531.5,360.9 L532.0,361.6 L532.5,362.2 L533.1,362.9 L533.6,363.5 L534.1,364.2 L534.6,364.8 L535.1,365.4 L535.6,366.0 L536.1,366.5 L536.6,367.1 L537.2,367.6 L537.7,368.1 L538.2,368.6 L538.7,369.0 L539.2,369.5 L539.7,369.9 L540.2,370.3 L540.7,370.7 L541.3,371.1 L541.8,371.4 L542.3,371.8 L542.8,372.2 L543.3,372.5 L543.8,372.9 L544.3,373.2 L544.8,373.5 L545.4,373.8 L545.9,374.2 L546.4,374.5 L546.9,374.8 L547.4,375.1 L547.9,375.3 L548.4,375.6 L548.9,375.9 L549.5,376.1 L550.0,376.4 L550.5,376.7 L551.0,376.9 L551.5,377.1 L552.0,377.4 L552.5,377.6 L553.0,377.8 L553.6,378.0 L554.1,378.2 L554.6,378.4 L555.1,378.6 L555.6,378.8 L556.1,379.0 L556.6,379.2 L557.1,379.3 L557.7,379.5 L558.2,379.7 L558.7,379.9 L559.2,380.1 L559.7,380.2 L560.2,380.4 L560.7,380.6 L561.2,380.8 L561.8,381.0 L562.3,381.2 L562.8,381.4 L563.3,381.6 L563.8,381.8 L564.3,381.9 L564.8,382.1 L565.3,382.3 L565.9,382.5 L566.4,382.6 L566.9,382.8 L567.4,382.9 L567.9,383.0 L568.4,383.1 L568.9,383.2 L569.4,383.3 L570.0,383.4 L570.5,383.6 L571.0,383.6 L571.5,383.7 L572.0,383.8 L572.5,383.9 L573.0,384.0 L573.5,384.1 L574.1,384.2 L574.6,384.3 L575.1,384.3 L575.6,384.4 L576.1,384.5 L576.6,384.6 L577.1,384.7 L577.6,384.7 L578.2,384.8 L578.7,384.9 L579.2,385.0 L579.7,385.0 L580.2,385.1 L580.7,385.2 L581.2,385.2 L581.7,385.3 L582.3,385.4 L582.8,385.4 L583.3,385.5 L583.8,385.6 L584.3,385.6 L584.8,385.7 L585.3,385.8 L585.8,385.8 L586.4,385.9 L586.9,386.0 L587.4,386.0 L587.9,386.1 L588.4,386.2 L588.9,386.2 L589.4,386.3 L589.9,386.4 L590.5,386.5 L591.0,386.5 L591.5,386.6 L592.0,386.7 L592.5,386.7 L593.0,386.8 L593.5,386.9 L594.0,386.9 L594.6,387.0 L595.1,387.0 L595.6,387.1 L596.1,387.1 L596.6,387.2 L597.1,387.2 L597.6,387.3 L598.1,387.3 L598.7,387.3 L599.2,387.4 L599.7,387.4 L600.2,387.4 L600.7,387.5 L601.2,387.5 L601.7,387.6 L602.2,387.6 L602.8,387.6 L603.3,387.7 L603.8,387.7 L604.3,387.7 L604.8,387.8 L605.3,387.8 L605.8,387.8 L606.3,387.8 L606.9,387.9 L607.4,387.9 L607.9,387.9 L608.4,388.0 L608.9,388.0 L609.4,388.0 L609.9,388.1 L610.4,388.1 L611.0,388.1 L611.5,388.1 L612.0,388.2 L612.5,388.2 L613.0,388.2 L613.5,388.3 L614.0,388.3 L614.5,388.3 L615.1,388.3 L615.6,388.4 L616.1,388.4 L616.6,388.4 L617.1,388.4 L617.6,388.5 L618.1,388.5 L618.6,388.5 L619.2,388.6 L619.7,388.6 L620.2,388.6 L620.7,388.6 L621.2,388.7 L621.7,388.7 L622.2,388.7 L622.7,388.7 L623.3,388.7 L623.8,388.8 L624.3,388.8 L624.8,388.8 L625.3,388.8 L625.8,388.9 L626.3,388.9 L626.8,388.9 L627.4,388.9 L627.9,388.9 L628.4,389.0 L628.9,389.0 L629.4,389.0 L629.9,389.0 L630.4,389.0 L630.9,389.0 L631.5,389.1 L632.0,389.1 L632.5,389.1 L633.0,389.1 L633.5,389.1 L634.0,389.1 L634.5,389.1 L635.0,389.2 L635.6,389.2 L636.1,389.2 L636.6,389.2 L637.1,389.2 L637.6,389.2 L638.1,389.2 L638.6,389.2 L639.1,389.3 L639.7,389.3 L640.2,389.3 L640.7,389.3 L641.2,389.3 L641.7,389.3 L642.2,389.3 L642.7,389.3 L643.2,389.3 L643.8,389.4 L644.3,389.4 L644.8,389.4 L645.3,389.4 L645.8,389.4 L646.3,389.4 L646.8,389.4 L647.3,389.4 L647.9,389.4 L648.4,389.4 L648.9,389.4 L649.4,389.4 L649.9,389.4 L650.4,389.4 L650.9,389.5 L651.4,389.5 L652.0,389.5 L652.5,389.5 L653.0,389.5 L653.5,389.5 L654.0,389.5 L654.5,389.5 L655.0,389.5 L655.5,389.5 L656.1,389.5 L656.6,389.5 L657.1,389.5 L657.6,389.5 L658.1,389.5 L658.6,389.5 L659.1,389.6 L659.6,389.6 L660.2,389.6 L660.7,389.6 L661.2,389.6 L661.7,389.6 L662.2,389.6 L662.7,389.6 L663.2,389.6 L663.7,389.6 L664.3,389.6 L664.8,389.6 L665.3,389.6 L665.8,389.6 L666.3,389.6 L666.8,389.6 L667.3,389.6 L667.8,389.6 L668.4,389.6 L668.9,389.6 L669.4,389.6 L669.9,389.6 L670.4,389.6 L670.9,389.6 L671.4,389.6 L671.9,389.6 L672.5,389.6 L673.0,389.6 L673.5,389.6 L674.0,389.6 L674.5,389.6 L675.0,389.6 L675.5,389.6" fill="none" stroke="#f074b4" stroke-width="2.0" stroke-linejoin="round"/>
<rect x="490.5" y="290.5" width="187.0" height="150.0" fill="none" stroke="#111" stroke-width="1.35"/>
<line x1="487.5" y1="430.3" x2="490.5" y2="430.3" stroke="#111" stroke-width="1.2"/>
<text x="485.1" y="433.2" font-size="9.6" font-weight="bold" stroke="#000" stroke-width="0.3" text-anchor="end">10<tspan font-size="7" dy="-4.2" stroke-width="0.15">0</tspan></text>
<line x1="487.5" y1="396.425" x2="490.5" y2="396.425" stroke="#111" stroke-width="1.2"/>
<text x="485.1" y="399.3" font-size="9.6" font-weight="bold" stroke="#000" stroke-width="0.3" text-anchor="end">10<tspan font-size="7" dy="-4.2" stroke-width="0.15">1</tspan></text>
<line x1="487.5" y1="362.55" x2="490.5" y2="362.55" stroke="#111" stroke-width="1.2"/>
<text x="485.1" y="365.4" font-size="9.6" font-weight="bold" stroke="#000" stroke-width="0.3" text-anchor="end">10<tspan font-size="7" dy="-4.2" stroke-width="0.15">2</tspan></text>
<line x1="487.5" y1="328.675" x2="490.5" y2="328.675" stroke="#111" stroke-width="1.2"/>
<text x="485.1" y="331.6" font-size="9.6" font-weight="bold" stroke="#000" stroke-width="0.3" text-anchor="end">10<tspan font-size="7" dy="-4.2" stroke-width="0.15">3</tspan></text>
<line x1="487.5" y1="294.8" x2="490.5" y2="294.8" stroke="#111" stroke-width="1.2"/>
<text x="485.1" y="297.7" font-size="9.6" font-weight="bold" stroke="#000" stroke-width="0.3" text-anchor="end">10<tspan font-size="7" dy="-4.2" stroke-width="0.15">4</tspan></text>
<line x1="511.0" y1="440.5" x2="511.0" y2="444.0" stroke="#111" stroke-width="1.2"/>
<text x="511.0" y="453.8" font-size="10" font-weight="bold" fill="#000" stroke="#000" stroke-width="0.35" text-anchor="middle" >20</text>
<line x1="490.5" y1="440.5" x2="490.5" y2="442.5" stroke="#111" stroke-width="1.2"/>
<line x1="552.0" y1="440.5" x2="552.0" y2="444.0" stroke="#111" stroke-width="1.2"/>
<text x="552.0" y="453.8" font-size="10" font-weight="bold" fill="#000" stroke="#000" stroke-width="0.35" text-anchor="middle" >40</text>
<line x1="531.5" y1="440.5" x2="531.5" y2="442.5" stroke="#111" stroke-width="1.2"/>
<line x1="593.0" y1="440.5" x2="593.0" y2="444.0" stroke="#111" stroke-width="1.2"/>
<text x="593.0" y="453.8" font-size="10" font-weight="bold" fill="#000" stroke="#000" stroke-width="0.35" text-anchor="middle" >60</text>
<line x1="572.5" y1="440.5" x2="572.5" y2="442.5" stroke="#111" stroke-width="1.2"/>
<line x1="634.0" y1="440.5" x2="634.0" y2="444.0" stroke="#111" stroke-width="1.2"/>
<text x="634.0" y="453.8" font-size="10" font-weight="bold" fill="#000" stroke="#000" stroke-width="0.35" text-anchor="middle" >80</text>
<line x1="613.5" y1="440.5" x2="613.5" y2="442.5" stroke="#111" stroke-width="1.2"/>
<line x1="675.0" y1="440.5" x2="675.0" y2="444.0" stroke="#111" stroke-width="1.2"/>
<text x="675.0" y="453.8" font-size="10" font-weight="bold" fill="#000" stroke="#000" stroke-width="0.35" text-anchor="middle" >100</text>
<line x1="654.5" y1="440.5" x2="654.5" y2="442.5" stroke="#111" stroke-width="1.2"/>
<circle cx="607" cy="296.8" r="1.6" fill="#b0bcf8" stroke="#8a9cf2" stroke-width="0.6"/>
<circle cx="607" cy="307.3" r="1.1" fill="#f074b4"/>
<text x="615.7" y="299.5" font-size="7.2" font-weight="bold" fill="#000"  text-anchor="start" >3Abf-Ofn-469 nm</text>
<text x="615.7" y="309.9" font-size="7.2" font-weight="bold" fill="#000"  text-anchor="start" >Fitting</text>
<text x="614.5" y="320.1" font-size="7.2" font-weight="bold">τ=3.78 ns</text>
<text x="0" y="0" transform="translate(468.6,366) rotate(-90)" font-size="15.3" font-weight="bold" fill="#000" stroke="#000" stroke-width="0.35" text-anchor="middle">Counts</text>
<text x="585" y="471.8" font-size="15.8" font-weight="bold" fill="#000" stroke="#000" stroke-width="0.35" text-anchor="middle" >Time (ns)</text>
<text x="461" y="279" font-size="14.5" font-weight="bold" fill="#000" stroke="#000" stroke-width="0.35" text-anchor="start" >g</text>
</svg>
</body></html>
